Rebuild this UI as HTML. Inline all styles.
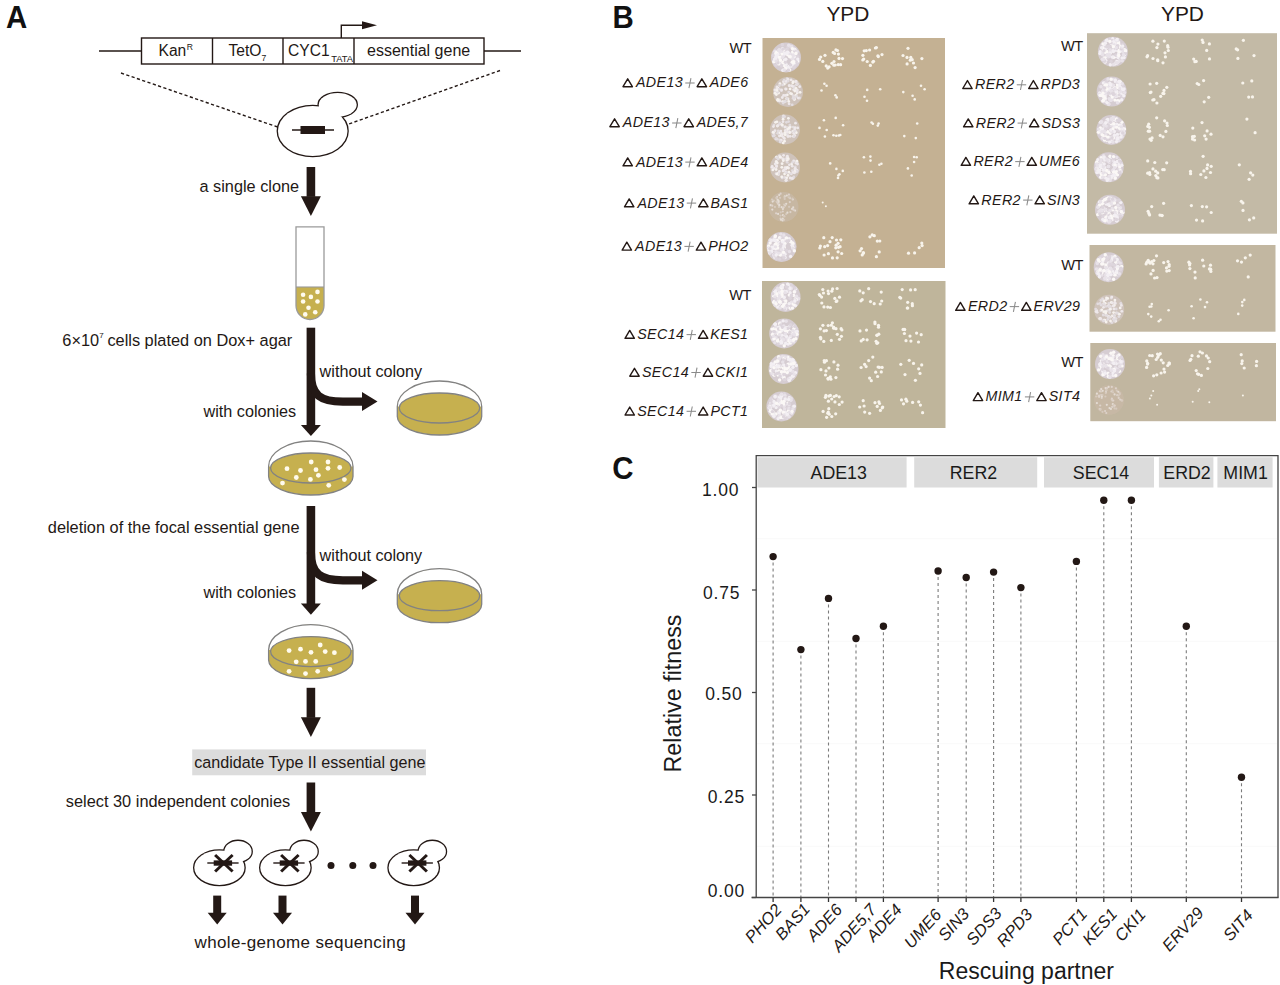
<!DOCTYPE html>
<html><head><meta charset="utf-8"><style>
html,body{margin:0;padding:0;background:#fff;width:1280px;height:985px;overflow:hidden}
svg{display:block;font-family:"Liberation Sans",sans-serif}
</style></head><body>
<svg width="1280" height="985" viewBox="0 0 1280 985">
<text transform="translate(6.1,27.6) scale(0.95,1)" font-size="31" font-weight="bold" fill="#111">A</text>
<g stroke="#231815" stroke-width="1.4" fill="none">
<line x1="99" y1="51" x2="141.5" y2="51"/><line x1="484" y1="51" x2="521" y2="51"/>
<rect x="141.5" y="38" width="342.5" height="26"/>
<line x1="212.5" y1="38" x2="212.5" y2="64"/><line x1="283" y1="38" x2="283" y2="64"/><line x1="354" y1="38" x2="354" y2="64"/>
<path d="M341.3,38 V25.3 H363"/>
</g>
<polygon points="362,21.3 377,25.3 362,29.3" fill="#231815"/>
<text x="158.5" y="55.9" font-size="15.6" fill="#231815" >Kan<tspan font-size="8.6" dy="-5.6" dx="0.6">R</tspan></text>
<text x="228.5" y="55.9" font-size="15.6" fill="#231815" >TetO<tspan font-size="8.6" dy="5">7</tspan></text>
<text x="288" y="55.9" font-size="15.6" fill="#231815" >CYC1<tspan font-size="9.4" dy="5.6" dx="1.6">TATA</tspan></text>
<text x="367" y="55.9" font-size="16" fill="#231815" >essential gene</text>
<g stroke="#231815" stroke-width="1.4" stroke-dasharray="3.2,2.4" fill="none">
<line x1="121" y1="73" x2="279" y2="127.5"/><line x1="500" y1="70.5" x2="346" y2="125"/>
</g>
<ellipse cx="337.7" cy="104.8" rx="19" ry="11.8" fill="none" stroke="#231815" stroke-width="2.6"/>
<ellipse cx="312.7" cy="131" rx="34.8" ry="25" fill="none" stroke="#231815" stroke-width="2.6"/>
<ellipse cx="337.7" cy="104.8" rx="19" ry="11.8" fill="#fff"/>
<ellipse cx="312.7" cy="131" rx="34.8" ry="25" fill="#fff"/>
<line x1="292" y1="130" x2="334" y2="130" stroke="#231815" stroke-width="1.4"/>
<rect x="300.5" y="126" width="24.5" height="8" fill="#231815"/>
<rect x="306.60" y="167" width="8.6" height="29.80" fill="#231815"/>
<polygon points="300.90,196.3 320.90,196.3 310.90,216" fill="#231815"/>
<text x="199.5" y="192" font-size="16.3" fill="#231815" >a single clone</text>
<path d="M296,287 V305.5 A14,14 0 0 0 324,305.5 V287 Z" fill="#c6b04f"/>
<path d="M296,226.8 V305.5 A14,14 0 0 0 324,305.5 V226.8 Z" fill="none" stroke="#9a9a9a" stroke-width="1.3"/>
<line x1="296" y1="287" x2="324" y2="287" stroke="#9a9a9a" stroke-width="1.1"/>
<circle cx="303.1" cy="294.75" r="2.3" fill="#fffbee"/>
<circle cx="310.9" cy="296.9" r="2.3" fill="#fffbee"/>
<circle cx="317.5" cy="291.9" r="2.3" fill="#fffbee"/>
<circle cx="303.1" cy="301.5" r="2.3" fill="#fffbee"/>
<circle cx="317.5" cy="301.5" r="2.3" fill="#fffbee"/>
<circle cx="308.5" cy="307.75" r="2.3" fill="#fffbee"/>
<circle cx="315.25" cy="312.25" r="2.3" fill="#fffbee"/>
<circle cx="305.25" cy="314.4" r="2.3" fill="#fffbee"/>
<text x="62.3" y="345.5" font-size="16.35" fill="#231815" >6×10<tspan font-size="8" dy="-7.5">7</tspan><tspan dy="7.5" dx="3.8">cells plated on Dox+ agar</tspan></text>
<rect x="306.60" y="327.7" width="8.6" height="97.80" fill="#231815"/>
<polygon points="300.90,425 320.90,425 310.90,436" fill="#231815"/>
<path d="M310.90,373.6 C310.90,395.6 320.90,401.6 342.90,401.6 L363.00,401.6" stroke="#231815" stroke-width="8.2" fill="none"/>
<polygon points="362.00,392.1 377.50,401.6 362.00,411.1" fill="#231815"/>
<text x="319.6" y="376.5" font-size="16.2" fill="#231815" >without colony</text>
<text x="203.5" y="417" font-size="16.2" fill="#231815" >with colonies</text>
<path d="M397.30,406.50 L397.30,416.50 A42.2,18.5 0 0 0 481.70,416.50 L481.70,406.50 A42.2,25.5 0 0 0 397.30,406.50 Z" fill="#c6b04f" stroke="none"/>
<path d="M397.30,406.50 A42.2,25.5 0 0 1 481.70,406.50 Z" fill="#fff"/>
<ellipse cx="439.50" cy="408.00" rx="40.2" ry="15" fill="#c6b04f" stroke="#828282" stroke-width="1.3"/>
<path d="M397.30,416.50 L397.30,406.50 A42.2,25.5 0 0 1 481.70,406.50 L481.70,416.50 A42.2,18.5 0 0 1 397.30,416.50" fill="none" stroke="#828282" stroke-width="1.3"/>
<path d="M268.60,466.50 L268.60,476.50 A42.2,18.5 0 0 0 353.00,476.50 L353.00,466.50 A42.2,25.5 0 0 0 268.60,466.50 Z" fill="#c6b04f" stroke="none"/>
<path d="M268.60,466.50 A42.2,25.5 0 0 1 353.00,466.50 Z" fill="#fff"/>
<ellipse cx="310.80" cy="468.00" rx="40.2" ry="15" fill="#c6b04f" stroke="#828282" stroke-width="1.3"/>
<path d="M268.60,476.50 L268.60,466.50 A42.2,25.5 0 0 1 353.00,466.50 L353.00,476.50 A42.2,18.5 0 0 1 268.60,476.50" fill="none" stroke="#828282" stroke-width="1.3"/>
<circle cx="311.20" cy="462.00" r="2.4" fill="#fffbee"/>
<circle cx="328.00" cy="462.00" r="2.4" fill="#fffbee"/>
<circle cx="287.00" cy="468.70" r="2.4" fill="#fffbee"/>
<circle cx="300.50" cy="470.50" r="2.4" fill="#fffbee"/>
<circle cx="316.00" cy="469.70" r="2.4" fill="#fffbee"/>
<circle cx="328.00" cy="468.30" r="2.4" fill="#fffbee"/>
<circle cx="339.70" cy="467.50" r="2.4" fill="#fffbee"/>
<circle cx="318.40" cy="475.30" r="2.4" fill="#fffbee"/>
<circle cx="296.30" cy="477.50" r="2.4" fill="#fffbee"/>
<circle cx="310.40" cy="479.40" r="2.4" fill="#fffbee"/>
<circle cx="344.40" cy="479.60" r="2.4" fill="#fffbee"/>
<circle cx="282.50" cy="483.10" r="2.4" fill="#fffbee"/>
<circle cx="328.75" cy="485.30" r="2.4" fill="#fffbee"/>
<text x="47.8" y="532.5" font-size="16.35" fill="#231815" >deletion of the focal essential gene</text>
<rect x="306.60" y="506" width="8.6" height="98.10" fill="#231815"/>
<polygon points="300.90,603.6 320.90,603.6 310.90,614.8" fill="#231815"/>
<path d="M310.90,552.3 C310.90,574.3 320.90,580.3 342.90,580.3 L363.00,580.3" stroke="#231815" stroke-width="8.2" fill="none"/>
<polygon points="362.00,570.8 377.50,580.3 362.00,589.8" fill="#231815"/>
<text x="319.6" y="560.5" font-size="16.2" fill="#231815" >without colony</text>
<text x="203.5" y="597.5" font-size="16.2" fill="#231815" >with colonies</text>
<path d="M397.30,594.20 L397.30,604.20 A42.2,18.5 0 0 0 481.70,604.20 L481.70,594.20 A42.2,25.5 0 0 0 397.30,594.20 Z" fill="#c6b04f" stroke="none"/>
<path d="M397.30,594.20 A42.2,25.5 0 0 1 481.70,594.20 Z" fill="#fff"/>
<ellipse cx="439.50" cy="595.70" rx="40.2" ry="15" fill="#c6b04f" stroke="#828282" stroke-width="1.3"/>
<path d="M397.30,604.20 L397.30,594.20 A42.2,25.5 0 0 1 481.70,594.20 L481.70,604.20 A42.2,18.5 0 0 1 397.30,604.20" fill="none" stroke="#828282" stroke-width="1.3"/>
<path d="M268.60,650.10 L268.60,660.10 A42.2,18.5 0 0 0 353.00,660.10 L353.00,650.10 A42.2,25.5 0 0 0 268.60,650.10 Z" fill="#c6b04f" stroke="none"/>
<path d="M268.60,650.10 A42.2,25.5 0 0 1 353.00,650.10 Z" fill="#fff"/>
<ellipse cx="310.80" cy="651.60" rx="40.2" ry="15" fill="#c6b04f" stroke="#828282" stroke-width="1.3"/>
<path d="M268.60,660.10 L268.60,650.10 A42.2,25.5 0 0 1 353.00,650.10 L353.00,660.10 A42.2,18.5 0 0 1 268.60,660.10" fill="none" stroke="#828282" stroke-width="1.3"/>
<circle cx="289.10" cy="650.60" r="2.4" fill="#fffbee"/>
<circle cx="300.50" cy="649.20" r="2.4" fill="#fffbee"/>
<circle cx="311.00" cy="652.30" r="2.4" fill="#fffbee"/>
<circle cx="320.20" cy="645.00" r="2.4" fill="#fffbee"/>
<circle cx="325.20" cy="651.60" r="2.4" fill="#fffbee"/>
<circle cx="334.40" cy="652.70" r="2.4" fill="#fffbee"/>
<circle cx="296.20" cy="661.80" r="2.4" fill="#fffbee"/>
<circle cx="305.50" cy="661.40" r="2.4" fill="#fffbee"/>
<circle cx="315.70" cy="661.40" r="2.4" fill="#fffbee"/>
<circle cx="289.10" cy="671.30" r="2.4" fill="#fffbee"/>
<circle cx="305.50" cy="673.60" r="2.4" fill="#fffbee"/>
<circle cx="317.70" cy="671.30" r="2.4" fill="#fffbee"/>
<circle cx="329.90" cy="669.30" r="2.4" fill="#fffbee"/>
<rect x="306.60" y="687.8" width="8.6" height="30.00" fill="#231815"/>
<polygon points="300.90,717.3 320.90,717.3 310.90,737" fill="#231815"/>
<rect x="192.2" y="749.4" width="233.8" height="25.9" fill="#dcdcdc"/>
<text x="194.2" y="768" font-size="16.15" fill="#231815" >candidate Type II essential gene</text>
<rect x="306.60" y="782.5" width="8.6" height="29.90" fill="#231815"/>
<polygon points="300.90,811.9 320.90,811.9 310.90,831.6" fill="#231815"/>
<text x="65.8" y="807.2" font-size="16.35" fill="#231815" >select 30 independent colonies</text>
<ellipse cx="238" cy="851.4" rx="13.6" ry="10.5" fill="none" stroke="#231815" stroke-width="2.6"/>
<ellipse cx="219.4" cy="867.7" rx="25.1" ry="17.2" fill="none" stroke="#231815" stroke-width="2.6"/>
<ellipse cx="238" cy="851.4" rx="13.6" ry="10.5" fill="#fff"/>
<ellipse cx="219.4" cy="867.7" rx="25.1" ry="17.2" fill="#fff"/>
<line x1="207.3" y1="863" x2="238.6" y2="863" stroke="#231815" stroke-width="1.4"/>
<rect x="213.7" y="860.4" width="18.4" height="5.3" fill="#231815"/>
<g stroke="#231815" stroke-width="3"><line x1="215.1" y1="855" x2="232.6" y2="871.5"/><line x1="232.6" y1="855" x2="215.1" y2="871.5"/></g>
<ellipse cx="304" cy="851.4" rx="13.6" ry="10.5" fill="none" stroke="#231815" stroke-width="2.6"/>
<ellipse cx="285.4" cy="867.7" rx="25.1" ry="17.2" fill="none" stroke="#231815" stroke-width="2.6"/>
<ellipse cx="304" cy="851.4" rx="13.6" ry="10.5" fill="#fff"/>
<ellipse cx="285.4" cy="867.7" rx="25.1" ry="17.2" fill="#fff"/>
<line x1="273.3" y1="863" x2="304.6" y2="863" stroke="#231815" stroke-width="1.4"/>
<rect x="279.7" y="860.4" width="18.4" height="5.3" fill="#231815"/>
<g stroke="#231815" stroke-width="3"><line x1="281.1" y1="855" x2="298.6" y2="871.5"/><line x1="298.6" y1="855" x2="281.1" y2="871.5"/></g>
<ellipse cx="432.3" cy="851.4" rx="13.6" ry="10.5" fill="none" stroke="#231815" stroke-width="2.6"/>
<ellipse cx="413.7" cy="867.7" rx="25.1" ry="17.2" fill="none" stroke="#231815" stroke-width="2.6"/>
<ellipse cx="432.3" cy="851.4" rx="13.6" ry="10.5" fill="#fff"/>
<ellipse cx="413.7" cy="867.7" rx="25.1" ry="17.2" fill="#fff"/>
<line x1="401.6" y1="863" x2="432.90000000000003" y2="863" stroke="#231815" stroke-width="1.4"/>
<rect x="408.0" y="860.4" width="18.4" height="5.3" fill="#231815"/>
<g stroke="#231815" stroke-width="3"><line x1="409.40000000000003" y1="855" x2="426.90000000000003" y2="871.5"/><line x1="426.90000000000003" y1="855" x2="409.40000000000003" y2="871.5"/></g>
<circle cx="331" cy="865.4" r="3.5" fill="#231815"/>
<circle cx="352.8" cy="865.4" r="3.5" fill="#231815"/>
<circle cx="373" cy="865.4" r="3.5" fill="#231815"/>
<rect x="213.20" y="895.6" width="8" height="17.60" fill="#231815"/>
<polygon points="207.70,912.7 226.70,912.7 217.20,924.5" fill="#231815"/>
<rect x="278.50" y="895.6" width="8" height="17.60" fill="#231815"/>
<polygon points="273.00,912.7 292.00,912.7 282.50,924.5" fill="#231815"/>
<rect x="411.00" y="895.6" width="8" height="17.60" fill="#231815"/>
<polygon points="405.50,912.7 424.50,912.7 415.00,924.5" fill="#231815"/>
<text x="194.5" y="948.3" font-size="17" letter-spacing="0.36" fill="#231815" >whole-genome sequencing</text>
<text transform="translate(612.5,27.6) scale(0.95,1)" font-size="31" font-weight="bold" fill="#111">B</text>
<text x="826.4" y="20.9" font-size="20.9" fill="#231815" >YPD</text>
<text x="1161" y="20.9" font-size="20.9" fill="#231815" >YPD</text>
<rect x="762.5" y="38" width="182.5" height="230.0" fill="#c4b193"/>
<circle cx="786.0" cy="57.5" r="15" fill="#d6cdd2"/>
<circle cx="783.7" cy="62.1" r="1.7" fill="#f3eff3"/>
<circle cx="794.7" cy="61.8" r="1.7" fill="#fbf8f6"/>
<circle cx="775.0" cy="51.2" r="1.7" fill="#e8e2e8"/>
<circle cx="794.5" cy="59.5" r="1.7" fill="#f3eff3"/>
<circle cx="786.6" cy="67.4" r="1.7" fill="#f3eff3"/>
<circle cx="788.2" cy="53.4" r="1.7" fill="#e8e2e8"/>
<circle cx="779.1" cy="50.1" r="1.7" fill="#f3eff3"/>
<circle cx="778.6" cy="53.6" r="1.7" fill="#e8e2e8"/>
<circle cx="797.8" cy="61.1" r="1.7" fill="#fbf8f6"/>
<circle cx="777.5" cy="62.3" r="1.7" fill="#fbf8f6"/>
<circle cx="775.8" cy="53.4" r="1.7" fill="#f3eff3"/>
<circle cx="776.7" cy="52.3" r="1.7" fill="#fbf8f6"/>
<circle cx="795.2" cy="63.9" r="1.7" fill="#f3eff3"/>
<circle cx="779.1" cy="51.1" r="1.7" fill="#ddd5dc"/>
<circle cx="787.5" cy="48.6" r="1.7" fill="#ddd5dc"/>
<circle cx="781.7" cy="62.6" r="1.7" fill="#e8e2e8"/>
<circle cx="783.9" cy="51.3" r="1.7" fill="#fbf8f6"/>
<circle cx="773.7" cy="55.5" r="1.7" fill="#ddd5dc"/>
<circle cx="782.9" cy="70.3" r="1.7" fill="#f3eff3"/>
<circle cx="780.6" cy="57.1" r="1.7" fill="#fbf8f6"/>
<circle cx="791.4" cy="65.1" r="1.7" fill="#f3eff3"/>
<circle cx="789.6" cy="56.6" r="1.7" fill="#fbf8f6"/>
<circle cx="781.8" cy="64.1" r="1.7" fill="#ddd5dc"/>
<circle cx="778.1" cy="53.2" r="1.7" fill="#f3eff3"/>
<circle cx="794.6" cy="54.4" r="1.7" fill="#f3eff3"/>
<circle cx="796.3" cy="61.6" r="1.7" fill="#ddd5dc"/>
<circle cx="784.2" cy="65.6" r="1.7" fill="#fbf8f6"/>
<circle cx="794.9" cy="58.8" r="1.7" fill="#e8e2e8"/>
<circle cx="778.8" cy="51.5" r="1.7" fill="#e8e2e8"/>
<circle cx="786.5" cy="52.7" r="1.7" fill="#e8e2e8"/>
<circle cx="775.8" cy="65.1" r="1.7" fill="#ddd5dc"/>
<circle cx="793.8" cy="61.8" r="1.7" fill="#fbf8f6"/>
<circle cx="794.9" cy="49.4" r="1.7" fill="#fbf8f6"/>
<circle cx="782.4" cy="44.8" r="1.7" fill="#ddd5dc"/>
<circle cx="791.0" cy="56.1" r="1.7" fill="#e8e2e8"/>
<circle cx="792.3" cy="66.3" r="1.7" fill="#f3eff3"/>
<circle cx="775.8" cy="58.5" r="1.7" fill="#fbf8f6"/>
<circle cx="785.0" cy="62.5" r="1.7" fill="#fbf8f6"/>
<circle cx="780.2" cy="52.7" r="1.7" fill="#e8e2e8"/>
<circle cx="782.5" cy="48.6" r="1.7" fill="#f3eff3"/>
<circle cx="774.0" cy="60.8" r="1.7" fill="#ddd5dc"/>
<circle cx="779.3" cy="62.5" r="1.7" fill="#ddd5dc"/>
<circle cx="783.8" cy="55.0" r="1.7" fill="#f3eff3"/>
<circle cx="794.8" cy="56.7" r="1.7" fill="#f3eff3"/>
<circle cx="784.4" cy="60.1" r="1.7" fill="#f3eff3"/>
<circle cx="777.1" cy="53.5" r="1.7" fill="#fbf8f6"/>
<circle cx="783.3" cy="55.2" r="1.7" fill="#e8e2e8"/>
<circle cx="782.1" cy="54.1" r="1.7" fill="#fbf8f6"/>
<circle cx="795.9" cy="54.6" r="1.7" fill="#ddd5dc"/>
<circle cx="794.8" cy="66.0" r="1.7" fill="#ddd5dc"/>
<circle cx="778.6" cy="58.4" r="1.7" fill="#e8e2e8"/>
<circle cx="792.2" cy="62.2" r="1.7" fill="#fbf8f6"/>
<circle cx="775.0" cy="59.0" r="1.7" fill="#f3eff3"/>
<circle cx="789.6" cy="70.0" r="1.7" fill="#fbf8f6"/>
<circle cx="791.9" cy="65.3" r="1.7" fill="#f3eff3"/>
<circle cx="786.4" cy="50.2" r="1.7" fill="#f3eff3"/>
<circle cx="783.7" cy="51.1" r="1.7" fill="#fbf8f6"/>
<circle cx="792.7" cy="53.2" r="1.7" fill="#e8e2e8"/>
<circle cx="774.5" cy="55.1" r="1.7" fill="#fbf8f6"/>
<circle cx="779.2" cy="49.6" r="1.7" fill="#e8e2e8"/>
<circle cx="790.2" cy="46.2" r="1.7" fill="#e8e2e8"/>
<circle cx="788.9" cy="66.4" r="1.7" fill="#f3eff3"/>
<circle cx="797.8" cy="56.7" r="1.7" fill="#ddd5dc"/>
<circle cx="785.4" cy="68.5" r="1.7" fill="#fbf8f6"/>
<circle cx="773.8" cy="61.7" r="1.7" fill="#fbf8f6"/>
<circle cx="793.7" cy="55.3" r="1.7" fill="#e8e2e8"/>
<circle cx="793.3" cy="63.0" r="1.7" fill="#fbf8f6"/>
<circle cx="789.0" cy="67.6" r="1.7" fill="#f3eff3"/>
<circle cx="775.3" cy="58.9" r="1.7" fill="#f3eff3"/>
<circle cx="788.3" cy="53.5" r="1.7" fill="#ddd5dc"/>
<circle cx="788.3" cy="46.2" r="1.7" fill="#ddd5dc"/>
<circle cx="792.7" cy="51.9" r="1.7" fill="#fbf8f6"/>
<circle cx="797.1" cy="64.2" r="1.7" fill="#ddd5dc"/>
<circle cx="774.8" cy="60.1" r="1.7" fill="#f3eff3"/>
<circle cx="785.1" cy="52.1" r="1.7" fill="#e8e2e8"/>
<circle cx="796.1" cy="59.3" r="1.7" fill="#ddd5dc"/>
<circle cx="787.8" cy="52.7" r="1.7" fill="#ddd5dc"/>
<circle cx="781.7" cy="50.9" r="1.7" fill="#e8e2e8"/>
<circle cx="797.8" cy="59.1" r="1.7" fill="#f3eff3"/>
<circle cx="773.3" cy="55.4" r="1.7" fill="#ddd5dc"/>
<circle cx="791.8" cy="57.0" r="1.7" fill="#e8e2e8"/>
<circle cx="792.0" cy="58.6" r="1.7" fill="#e8e2e8"/>
<circle cx="786.7" cy="49.9" r="1.7" fill="#ddd5dc"/>
<circle cx="787.7" cy="54.7" r="1.7" fill="#fbf8f6"/>
<circle cx="794.7" cy="51.0" r="1.7" fill="#ddd5dc"/>
<circle cx="791.8" cy="46.5" r="1.7" fill="#e8e2e8"/>
<circle cx="776.6" cy="55.6" r="1.7" fill="#f3eff3"/>
<circle cx="794.2" cy="49.1" r="1.7" fill="#f3eff3"/>
<circle cx="786.8" cy="52.4" r="1.7" fill="#e8e2e8"/>
<circle cx="774.8" cy="59.4" r="1.7" fill="#f3eff3"/>
<circle cx="781.6" cy="66.0" r="1.7" fill="#ddd5dc"/>
<circle cx="786.9" cy="53.3" r="1.7" fill="#f3eff3"/>
<circle cx="786.1" cy="64.5" r="1.7" fill="#f3eff3"/>
<circle cx="776.0" cy="57.0" r="1.7" fill="#f3eff3"/>
<circle cx="776.2" cy="61.1" r="1.7" fill="#e8e2e8"/>
<circle cx="782.9" cy="49.1" r="1.7" fill="#ddd5dc"/>
<circle cx="779.4" cy="57.2" r="1.7" fill="#fbf8f6"/>
<circle cx="797.1" cy="51.6" r="1.7" fill="#e8e2e8"/>
<circle cx="788.6" cy="53.3" r="1.7" fill="#f3eff3"/>
<circle cx="780.2" cy="62.2" r="1.7" fill="#e8e2e8"/>
<circle cx="780.5" cy="60.2" r="1.7" fill="#fbf8f6"/>
<circle cx="788.7" cy="45.2" r="1.7" fill="#e8e2e8"/>
<circle cx="795.9" cy="53.5" r="1.7" fill="#fbf8f6"/>
<circle cx="793.8" cy="67.3" r="1.7" fill="#ddd5dc"/>
<circle cx="788.5" cy="70.2" r="1.7" fill="#ddd5dc"/>
<circle cx="790.0" cy="53.9" r="1.7" fill="#e8e2e8"/>
<circle cx="790.6" cy="64.9" r="1.7" fill="#ddd5dc"/>
<circle cx="782.9" cy="62.5" r="1.7" fill="#fbf8f6"/>
<circle cx="792.7" cy="61.9" r="1.7" fill="#fbf8f6"/>
<circle cx="777.7" cy="54.6" r="1.7" fill="#f3eff3"/>
<circle cx="778.8" cy="63.9" r="1.7" fill="#fbf8f6"/>
<circle cx="782.6" cy="57.2" r="1.7" fill="#e8e2e8"/>
<circle cx="790.2" cy="56.7" r="1.7" fill="#fbf8f6"/>
<circle cx="784.3" cy="70.0" r="1.7" fill="#e8e2e8"/>
<circle cx="785.4" cy="62.2" r="1.7" fill="#ddd5dc"/>
<circle cx="792.4" cy="48.6" r="1.7" fill="#fbf8f6"/>
<circle cx="777.9" cy="62.9" r="1.7" fill="#ddd5dc"/>
<circle cx="784.8" cy="53.7" r="1.7" fill="#f3eff3"/>
<circle cx="787.7" cy="52.1" r="1.7" fill="#f3eff3"/>
<circle cx="785.8" cy="59.2" r="1.7" fill="#f3eff3"/>
<circle cx="833.2" cy="52.4" r="1.6" fill="#f8f4ec"/>
<circle cx="834.6" cy="53.5" r="1.6" fill="#f8f4ec"/>
<circle cx="837.5" cy="50.5" r="1.6" fill="#f8f4ec"/>
<circle cx="826.2" cy="65.9" r="1.6" fill="#f8f4ec"/>
<circle cx="838.4" cy="54.1" r="1.6" fill="#f8f4ec"/>
<circle cx="838.2" cy="64.6" r="1.6" fill="#f8f4ec"/>
<circle cx="831.9" cy="63.3" r="1.6" fill="#f8f4ec"/>
<circle cx="834.0" cy="61.5" r="1.6" fill="#f8f4ec"/>
<circle cx="833.9" cy="65.2" r="1.6" fill="#f8f4ec"/>
<circle cx="827.7" cy="68.1" r="1.6" fill="#f8f4ec"/>
<circle cx="829.1" cy="66.8" r="1.6" fill="#f8f4ec"/>
<circle cx="835.2" cy="65.0" r="1.6" fill="#f8f4ec"/>
<circle cx="839.0" cy="58.4" r="1.6" fill="#f8f4ec"/>
<circle cx="842.5" cy="58.6" r="1.6" fill="#f8f4ec"/>
<circle cx="825.0" cy="55.3" r="1.6" fill="#f8f4ec"/>
<circle cx="819.5" cy="59.4" r="1.6" fill="#f8f4ec"/>
<circle cx="840.6" cy="64.7" r="1.6" fill="#f8f4ec"/>
<circle cx="822.8" cy="61.4" r="1.6" fill="#f8f4ec"/>
<circle cx="835.9" cy="49.9" r="1.6" fill="#f8f4ec"/>
<circle cx="820.7" cy="57.0" r="1.6" fill="#f8f4ec"/>
<circle cx="878.3" cy="56.6" r="1.6" fill="#f8f4ec"/>
<circle cx="875.4" cy="48.0" r="1.6" fill="#f8f4ec"/>
<circle cx="864.2" cy="50.8" r="1.6" fill="#f8f4ec"/>
<circle cx="867.2" cy="61.5" r="1.6" fill="#f8f4ec"/>
<circle cx="873.5" cy="61.3" r="1.6" fill="#f8f4ec"/>
<circle cx="869.6" cy="50.0" r="1.6" fill="#f8f4ec"/>
<circle cx="872.8" cy="62.1" r="1.6" fill="#f8f4ec"/>
<circle cx="876.4" cy="47.6" r="1.6" fill="#f8f4ec"/>
<circle cx="866.3" cy="50.6" r="1.6" fill="#f8f4ec"/>
<circle cx="870.4" cy="65.4" r="1.6" fill="#f8f4ec"/>
<circle cx="863.7" cy="59.1" r="1.6" fill="#f8f4ec"/>
<circle cx="862.8" cy="60.0" r="1.6" fill="#f8f4ec"/>
<circle cx="882.0" cy="54.6" r="1.6" fill="#f8f4ec"/>
<circle cx="862.9" cy="55.3" r="1.6" fill="#f8f4ec"/>
<circle cx="877.9" cy="55.8" r="1.6" fill="#f8f4ec"/>
<circle cx="912.2" cy="59.7" r="1.6" fill="#f8f4ec"/>
<circle cx="907.1" cy="63.9" r="1.6" fill="#f8f4ec"/>
<circle cx="907.0" cy="57.4" r="1.6" fill="#f8f4ec"/>
<circle cx="910.8" cy="57.4" r="1.6" fill="#f8f4ec"/>
<circle cx="913.5" cy="63.0" r="1.6" fill="#f8f4ec"/>
<circle cx="910.3" cy="60.2" r="1.6" fill="#f8f4ec"/>
<circle cx="921.9" cy="58.6" r="1.6" fill="#f8f4ec"/>
<circle cx="915.1" cy="67.6" r="1.6" fill="#f8f4ec"/>
<circle cx="903.0" cy="55.5" r="1.6" fill="#f8f4ec"/>
<circle cx="908.0" cy="48.3" r="1.6" fill="#f8f4ec"/>
<circle cx="788.0" cy="92.0" r="15" fill="#cfc3bb"/>
<circle cx="794.2" cy="86.2" r="1.4" fill="#e2dcdf"/>
<circle cx="786.2" cy="82.6" r="1.4" fill="#e2dcdf"/>
<circle cx="786.2" cy="81.2" r="1.4" fill="#eee8ea"/>
<circle cx="793.2" cy="81.7" r="1.4" fill="#f6f2ee"/>
<circle cx="779.9" cy="83.6" r="1.4" fill="#f6f2ee"/>
<circle cx="794.3" cy="99.6" r="1.4" fill="#f6f2ee"/>
<circle cx="776.9" cy="86.9" r="1.4" fill="#eee8ea"/>
<circle cx="792.8" cy="82.8" r="1.4" fill="#f6f2ee"/>
<circle cx="783.4" cy="81.7" r="1.4" fill="#eee8ea"/>
<circle cx="790.4" cy="93.4" r="1.4" fill="#f6f2ee"/>
<circle cx="785.2" cy="95.4" r="1.4" fill="#e2dcdf"/>
<circle cx="777.9" cy="88.1" r="1.4" fill="#f6f2ee"/>
<circle cx="781.4" cy="90.7" r="1.4" fill="#e2dcdf"/>
<circle cx="800.1" cy="92.3" r="1.4" fill="#f6f2ee"/>
<circle cx="799.7" cy="86.7" r="1.4" fill="#eee8ea"/>
<circle cx="786.1" cy="89.1" r="1.4" fill="#f6f2ee"/>
<circle cx="775.9" cy="94.0" r="1.4" fill="#e2dcdf"/>
<circle cx="789.1" cy="103.8" r="1.4" fill="#eee8ea"/>
<circle cx="787.1" cy="78.6" r="1.4" fill="#e2dcdf"/>
<circle cx="790.1" cy="88.9" r="1.4" fill="#f6f2ee"/>
<circle cx="787.3" cy="94.9" r="1.4" fill="#f6f2ee"/>
<circle cx="785.6" cy="89.0" r="1.4" fill="#eee8ea"/>
<circle cx="782.6" cy="101.6" r="1.4" fill="#f6f2ee"/>
<circle cx="784.6" cy="101.7" r="1.4" fill="#eee8ea"/>
<circle cx="778.6" cy="93.0" r="1.4" fill="#f6f2ee"/>
<circle cx="793.1" cy="95.7" r="1.4" fill="#e2dcdf"/>
<circle cx="785.5" cy="101.5" r="1.4" fill="#e2dcdf"/>
<circle cx="776.4" cy="94.5" r="1.4" fill="#f6f2ee"/>
<circle cx="792.2" cy="104.8" r="1.4" fill="#e2dcdf"/>
<circle cx="797.2" cy="93.0" r="1.4" fill="#f6f2ee"/>
<circle cx="796.9" cy="90.2" r="1.4" fill="#e2dcdf"/>
<circle cx="778.1" cy="100.5" r="1.4" fill="#eee8ea"/>
<circle cx="791.6" cy="93.8" r="1.4" fill="#f6f2ee"/>
<circle cx="774.9" cy="90.0" r="1.4" fill="#eee8ea"/>
<circle cx="779.4" cy="85.5" r="1.4" fill="#e2dcdf"/>
<circle cx="796.6" cy="84.6" r="1.4" fill="#eee8ea"/>
<circle cx="775.3" cy="92.2" r="1.4" fill="#e2dcdf"/>
<circle cx="788.8" cy="92.1" r="1.4" fill="#e2dcdf"/>
<circle cx="784.4" cy="84.1" r="1.4" fill="#f6f2ee"/>
<circle cx="793.1" cy="98.2" r="1.4" fill="#e2dcdf"/>
<circle cx="793.7" cy="97.4" r="1.4" fill="#e2dcdf"/>
<circle cx="788.1" cy="79.5" r="1.4" fill="#eee8ea"/>
<circle cx="793.6" cy="89.8" r="1.4" fill="#eee8ea"/>
<circle cx="794.0" cy="87.8" r="1.4" fill="#e2dcdf"/>
<circle cx="795.8" cy="95.4" r="1.4" fill="#f6f2ee"/>
<circle cx="799.6" cy="98.0" r="1.4" fill="#e2dcdf"/>
<circle cx="792.4" cy="86.3" r="1.4" fill="#eee8ea"/>
<circle cx="791.7" cy="85.7" r="1.4" fill="#eee8ea"/>
<circle cx="788.0" cy="99.0" r="1.4" fill="#f6f2ee"/>
<circle cx="783.2" cy="103.0" r="1.4" fill="#e2dcdf"/>
<circle cx="797.2" cy="83.9" r="1.4" fill="#f6f2ee"/>
<circle cx="777.7" cy="99.5" r="1.4" fill="#f6f2ee"/>
<circle cx="777.0" cy="88.5" r="1.4" fill="#eee8ea"/>
<circle cx="796.0" cy="88.5" r="1.4" fill="#f6f2ee"/>
<circle cx="788.2" cy="81.1" r="1.4" fill="#e2dcdf"/>
<circle cx="775.1" cy="93.2" r="1.4" fill="#f6f2ee"/>
<circle cx="794.5" cy="98.7" r="1.4" fill="#e2dcdf"/>
<circle cx="786.6" cy="98.7" r="1.4" fill="#f6f2ee"/>
<circle cx="794.9" cy="91.0" r="1.4" fill="#f6f2ee"/>
<circle cx="788.7" cy="101.4" r="1.4" fill="#f6f2ee"/>
<circle cx="783.6" cy="95.4" r="1.4" fill="#eee8ea"/>
<circle cx="796.6" cy="96.4" r="1.4" fill="#e2dcdf"/>
<circle cx="779.3" cy="89.2" r="1.4" fill="#e2dcdf"/>
<circle cx="797.1" cy="91.8" r="1.4" fill="#eee8ea"/>
<circle cx="781.6" cy="90.0" r="1.4" fill="#eee8ea"/>
<circle cx="785.8" cy="95.4" r="1.4" fill="#eee8ea"/>
<circle cx="779.7" cy="101.0" r="1.4" fill="#eee8ea"/>
<circle cx="796.9" cy="84.3" r="1.4" fill="#e2dcdf"/>
<circle cx="779.3" cy="99.9" r="1.4" fill="#eee8ea"/>
<circle cx="782.3" cy="97.5" r="1.4" fill="#eee8ea"/>
<circle cx="777.7" cy="92.1" r="1.4" fill="#e2dcdf"/>
<circle cx="794.8" cy="98.9" r="1.4" fill="#f6f2ee"/>
<circle cx="791.1" cy="79.9" r="1.4" fill="#eee8ea"/>
<circle cx="787.1" cy="98.7" r="1.4" fill="#e2dcdf"/>
<circle cx="782.6" cy="84.9" r="1.4" fill="#e2dcdf"/>
<circle cx="795.4" cy="81.7" r="1.4" fill="#eee8ea"/>
<circle cx="794.2" cy="98.4" r="1.4" fill="#e2dcdf"/>
<circle cx="797.3" cy="90.1" r="1.4" fill="#eee8ea"/>
<circle cx="777.8" cy="100.2" r="1.4" fill="#f6f2ee"/>
<circle cx="796.2" cy="81.4" r="1.4" fill="#eee8ea"/>
<circle cx="789.3" cy="85.7" r="1.4" fill="#eee8ea"/>
<circle cx="776.9" cy="90.4" r="1.4" fill="#f6f2ee"/>
<circle cx="784.2" cy="80.1" r="1.4" fill="#e2dcdf"/>
<circle cx="798.3" cy="98.1" r="1.4" fill="#eee8ea"/>
<circle cx="789.3" cy="85.6" r="1.4" fill="#eee8ea"/>
<circle cx="826.6" cy="85.7" r="1.3" fill="#f8f4ec"/>
<circle cx="836.7" cy="97.4" r="1.3" fill="#f8f4ec"/>
<circle cx="824.4" cy="83.8" r="1.3" fill="#f8f4ec"/>
<circle cx="835.4" cy="95.3" r="1.3" fill="#f8f4ec"/>
<circle cx="821.5" cy="90.5" r="1.3" fill="#f8f4ec"/>
<circle cx="864.5" cy="96.7" r="1.3" fill="#f8f4ec"/>
<circle cx="867.2" cy="89.9" r="1.3" fill="#f8f4ec"/>
<circle cx="867.0" cy="100.8" r="1.3" fill="#f8f4ec"/>
<circle cx="880.2" cy="89.3" r="1.3" fill="#f8f4ec"/>
<circle cx="921.0" cy="85.7" r="1.3" fill="#f8f4ec"/>
<circle cx="914.7" cy="99.4" r="1.3" fill="#f8f4ec"/>
<circle cx="924.6" cy="89.3" r="1.3" fill="#f8f4ec"/>
<circle cx="912.6" cy="95.7" r="1.3" fill="#f8f4ec"/>
<circle cx="903.3" cy="92.1" r="1.3" fill="#f8f4ec"/>
<circle cx="785.0" cy="129.5" r="15" fill="#cfc3bb"/>
<circle cx="779.0" cy="132.8" r="1.4" fill="#f6f2ee"/>
<circle cx="777.6" cy="133.3" r="1.4" fill="#e2dcdf"/>
<circle cx="792.7" cy="131.2" r="1.4" fill="#e2dcdf"/>
<circle cx="779.4" cy="136.0" r="1.4" fill="#eee8ea"/>
<circle cx="788.4" cy="118.3" r="1.4" fill="#f6f2ee"/>
<circle cx="793.7" cy="133.4" r="1.4" fill="#eee8ea"/>
<circle cx="780.3" cy="140.9" r="1.4" fill="#eee8ea"/>
<circle cx="778.2" cy="131.0" r="1.4" fill="#e2dcdf"/>
<circle cx="793.3" cy="136.3" r="1.4" fill="#f6f2ee"/>
<circle cx="787.5" cy="135.4" r="1.4" fill="#e2dcdf"/>
<circle cx="787.7" cy="127.8" r="1.4" fill="#f6f2ee"/>
<circle cx="790.2" cy="136.3" r="1.4" fill="#eee8ea"/>
<circle cx="795.4" cy="131.1" r="1.4" fill="#e2dcdf"/>
<circle cx="788.2" cy="130.6" r="1.4" fill="#e2dcdf"/>
<circle cx="774.1" cy="133.1" r="1.4" fill="#e2dcdf"/>
<circle cx="783.5" cy="116.0" r="1.4" fill="#eee8ea"/>
<circle cx="782.2" cy="134.6" r="1.4" fill="#f6f2ee"/>
<circle cx="784.9" cy="127.1" r="1.4" fill="#f6f2ee"/>
<circle cx="783.1" cy="117.2" r="1.4" fill="#e2dcdf"/>
<circle cx="780.8" cy="131.1" r="1.4" fill="#eee8ea"/>
<circle cx="783.5" cy="137.4" r="1.4" fill="#eee8ea"/>
<circle cx="774.0" cy="125.1" r="1.4" fill="#e2dcdf"/>
<circle cx="777.3" cy="139.2" r="1.4" fill="#e2dcdf"/>
<circle cx="794.7" cy="135.5" r="1.4" fill="#eee8ea"/>
<circle cx="775.9" cy="138.9" r="1.4" fill="#eee8ea"/>
<circle cx="779.8" cy="140.0" r="1.4" fill="#e2dcdf"/>
<circle cx="793.6" cy="131.1" r="1.4" fill="#f6f2ee"/>
<circle cx="785.3" cy="126.8" r="1.4" fill="#eee8ea"/>
<circle cx="773.1" cy="132.2" r="1.4" fill="#eee8ea"/>
<circle cx="784.5" cy="141.2" r="1.4" fill="#f6f2ee"/>
<circle cx="781.2" cy="135.5" r="1.4" fill="#f6f2ee"/>
<circle cx="796.3" cy="132.7" r="1.4" fill="#f6f2ee"/>
<circle cx="782.1" cy="136.0" r="1.4" fill="#eee8ea"/>
<circle cx="783.1" cy="119.2" r="1.4" fill="#f6f2ee"/>
<circle cx="788.3" cy="128.4" r="1.4" fill="#eee8ea"/>
<circle cx="794.0" cy="136.7" r="1.4" fill="#e2dcdf"/>
<circle cx="793.1" cy="127.1" r="1.4" fill="#e2dcdf"/>
<circle cx="795.5" cy="123.2" r="1.4" fill="#eee8ea"/>
<circle cx="790.2" cy="127.0" r="1.4" fill="#f6f2ee"/>
<circle cx="781.3" cy="140.2" r="1.4" fill="#eee8ea"/>
<circle cx="778.9" cy="124.6" r="1.4" fill="#e2dcdf"/>
<circle cx="773.3" cy="132.4" r="1.4" fill="#f6f2ee"/>
<circle cx="790.3" cy="132.4" r="1.4" fill="#eee8ea"/>
<circle cx="785.1" cy="133.0" r="1.4" fill="#eee8ea"/>
<circle cx="775.0" cy="130.7" r="1.4" fill="#eee8ea"/>
<circle cx="797.7" cy="127.9" r="1.4" fill="#eee8ea"/>
<circle cx="784.6" cy="133.4" r="1.4" fill="#eee8ea"/>
<circle cx="773.1" cy="135.9" r="1.4" fill="#e2dcdf"/>
<circle cx="787.3" cy="133.9" r="1.4" fill="#e2dcdf"/>
<circle cx="776.9" cy="121.8" r="1.4" fill="#f6f2ee"/>
<circle cx="773.4" cy="126.6" r="1.4" fill="#eee8ea"/>
<circle cx="786.4" cy="122.3" r="1.4" fill="#e2dcdf"/>
<circle cx="777.4" cy="126.1" r="1.4" fill="#f6f2ee"/>
<circle cx="784.4" cy="138.5" r="1.4" fill="#eee8ea"/>
<circle cx="785.2" cy="134.8" r="1.4" fill="#f6f2ee"/>
<circle cx="786.3" cy="132.7" r="1.4" fill="#e2dcdf"/>
<circle cx="794.7" cy="129.0" r="1.4" fill="#eee8ea"/>
<circle cx="782.5" cy="126.0" r="1.4" fill="#e2dcdf"/>
<circle cx="789.3" cy="129.3" r="1.4" fill="#e2dcdf"/>
<circle cx="789.8" cy="125.1" r="1.4" fill="#e2dcdf"/>
<circle cx="787.3" cy="128.1" r="1.4" fill="#e2dcdf"/>
<circle cx="785.3" cy="132.5" r="1.4" fill="#f6f2ee"/>
<circle cx="795.2" cy="127.7" r="1.4" fill="#eee8ea"/>
<circle cx="776.2" cy="138.6" r="1.4" fill="#e2dcdf"/>
<circle cx="775.5" cy="122.3" r="1.4" fill="#f6f2ee"/>
<circle cx="789.2" cy="128.0" r="1.4" fill="#f6f2ee"/>
<circle cx="783.0" cy="121.7" r="1.4" fill="#eee8ea"/>
<circle cx="781.5" cy="133.3" r="1.4" fill="#eee8ea"/>
<circle cx="787.7" cy="129.5" r="1.4" fill="#f6f2ee"/>
<circle cx="781.4" cy="124.5" r="1.4" fill="#eee8ea"/>
<circle cx="788.6" cy="121.6" r="1.4" fill="#e2dcdf"/>
<circle cx="788.0" cy="136.5" r="1.4" fill="#eee8ea"/>
<circle cx="794.4" cy="131.4" r="1.4" fill="#e2dcdf"/>
<circle cx="789.0" cy="131.2" r="1.4" fill="#e2dcdf"/>
<circle cx="782.3" cy="124.9" r="1.4" fill="#f6f2ee"/>
<circle cx="789.6" cy="132.5" r="1.4" fill="#f6f2ee"/>
<circle cx="783.2" cy="142.9" r="1.4" fill="#f6f2ee"/>
<circle cx="780.3" cy="141.9" r="1.4" fill="#e2dcdf"/>
<circle cx="784.6" cy="116.7" r="1.4" fill="#e2dcdf"/>
<circle cx="774.1" cy="135.8" r="1.4" fill="#e2dcdf"/>
<circle cx="779.8" cy="122.8" r="1.4" fill="#e2dcdf"/>
<circle cx="785.3" cy="130.5" r="1.4" fill="#eee8ea"/>
<circle cx="774.1" cy="135.2" r="1.4" fill="#e2dcdf"/>
<circle cx="777.7" cy="125.6" r="1.4" fill="#eee8ea"/>
<circle cx="787.1" cy="131.8" r="1.4" fill="#eee8ea"/>
<circle cx="823.9" cy="120.2" r="1.3" fill="#f8f4ec"/>
<circle cx="840.3" cy="135.0" r="1.3" fill="#f8f4ec"/>
<circle cx="824.9" cy="136.5" r="1.3" fill="#f8f4ec"/>
<circle cx="836.3" cy="135.7" r="1.3" fill="#f8f4ec"/>
<circle cx="819.5" cy="127.9" r="1.3" fill="#f8f4ec"/>
<circle cx="838.9" cy="135.5" r="1.3" fill="#f8f4ec"/>
<circle cx="835.7" cy="117.9" r="1.3" fill="#f8f4ec"/>
<circle cx="833.5" cy="135.2" r="1.3" fill="#f8f4ec"/>
<circle cx="843.1" cy="125.2" r="1.3" fill="#f8f4ec"/>
<circle cx="826.7" cy="130.0" r="1.3" fill="#f8f4ec"/>
<circle cx="877.8" cy="125.6" r="1.3" fill="#f8f4ec"/>
<circle cx="878.6" cy="123.6" r="1.3" fill="#f8f4ec"/>
<circle cx="872.9" cy="123.7" r="1.3" fill="#f8f4ec"/>
<circle cx="871.6" cy="122.5" r="1.3" fill="#f8f4ec"/>
<circle cx="904.3" cy="136.1" r="1.3" fill="#f8f4ec"/>
<circle cx="917.2" cy="123.5" r="1.3" fill="#f8f4ec"/>
<circle cx="915.8" cy="138.1" r="1.3" fill="#f8f4ec"/>
<circle cx="785.0" cy="167.5" r="15" fill="#cfc3bb"/>
<circle cx="776.6" cy="166.6" r="1.4" fill="#eee8ea"/>
<circle cx="792.9" cy="178.3" r="1.4" fill="#eee8ea"/>
<circle cx="794.9" cy="170.1" r="1.4" fill="#f6f2ee"/>
<circle cx="797.1" cy="170.5" r="1.4" fill="#eee8ea"/>
<circle cx="777.9" cy="173.4" r="1.4" fill="#f6f2ee"/>
<circle cx="786.9" cy="156.7" r="1.4" fill="#e2dcdf"/>
<circle cx="777.3" cy="163.1" r="1.4" fill="#f6f2ee"/>
<circle cx="778.5" cy="174.6" r="1.4" fill="#eee8ea"/>
<circle cx="795.6" cy="169.1" r="1.4" fill="#e2dcdf"/>
<circle cx="776.1" cy="169.5" r="1.4" fill="#f6f2ee"/>
<circle cx="786.7" cy="158.5" r="1.4" fill="#eee8ea"/>
<circle cx="788.2" cy="159.5" r="1.4" fill="#eee8ea"/>
<circle cx="791.2" cy="173.9" r="1.4" fill="#eee8ea"/>
<circle cx="788.1" cy="158.4" r="1.4" fill="#f6f2ee"/>
<circle cx="795.5" cy="170.2" r="1.4" fill="#eee8ea"/>
<circle cx="791.7" cy="163.9" r="1.4" fill="#f6f2ee"/>
<circle cx="781.8" cy="167.3" r="1.4" fill="#f6f2ee"/>
<circle cx="793.7" cy="160.8" r="1.4" fill="#eee8ea"/>
<circle cx="788.5" cy="168.1" r="1.4" fill="#f6f2ee"/>
<circle cx="783.6" cy="155.3" r="1.4" fill="#eee8ea"/>
<circle cx="793.7" cy="176.9" r="1.4" fill="#e2dcdf"/>
<circle cx="797.5" cy="164.0" r="1.4" fill="#eee8ea"/>
<circle cx="780.5" cy="156.9" r="1.4" fill="#eee8ea"/>
<circle cx="792.4" cy="170.7" r="1.4" fill="#e2dcdf"/>
<circle cx="792.0" cy="178.3" r="1.4" fill="#e2dcdf"/>
<circle cx="792.6" cy="162.3" r="1.4" fill="#e2dcdf"/>
<circle cx="772.0" cy="167.3" r="1.4" fill="#eee8ea"/>
<circle cx="776.1" cy="161.7" r="1.4" fill="#eee8ea"/>
<circle cx="783.9" cy="169.9" r="1.4" fill="#eee8ea"/>
<circle cx="776.1" cy="173.7" r="1.4" fill="#e2dcdf"/>
<circle cx="779.5" cy="155.9" r="1.4" fill="#eee8ea"/>
<circle cx="786.8" cy="160.8" r="1.4" fill="#f6f2ee"/>
<circle cx="797.0" cy="171.3" r="1.4" fill="#e2dcdf"/>
<circle cx="775.3" cy="164.0" r="1.4" fill="#eee8ea"/>
<circle cx="784.9" cy="177.5" r="1.4" fill="#e2dcdf"/>
<circle cx="784.4" cy="159.2" r="1.4" fill="#e2dcdf"/>
<circle cx="795.3" cy="166.9" r="1.4" fill="#e2dcdf"/>
<circle cx="783.1" cy="170.9" r="1.4" fill="#eee8ea"/>
<circle cx="790.2" cy="178.0" r="1.4" fill="#eee8ea"/>
<circle cx="782.2" cy="176.9" r="1.4" fill="#e2dcdf"/>
<circle cx="776.4" cy="157.1" r="1.4" fill="#f6f2ee"/>
<circle cx="796.6" cy="161.9" r="1.4" fill="#f6f2ee"/>
<circle cx="787.5" cy="167.5" r="1.4" fill="#eee8ea"/>
<circle cx="782.3" cy="177.9" r="1.4" fill="#e2dcdf"/>
<circle cx="772.2" cy="166.5" r="1.4" fill="#eee8ea"/>
<circle cx="774.4" cy="168.3" r="1.4" fill="#eee8ea"/>
<circle cx="785.7" cy="167.6" r="1.4" fill="#e2dcdf"/>
<circle cx="781.7" cy="176.8" r="1.4" fill="#f6f2ee"/>
<circle cx="786.7" cy="177.8" r="1.4" fill="#f6f2ee"/>
<circle cx="790.5" cy="173.6" r="1.4" fill="#e2dcdf"/>
<circle cx="785.9" cy="168.9" r="1.4" fill="#eee8ea"/>
<circle cx="782.6" cy="158.7" r="1.4" fill="#eee8ea"/>
<circle cx="776.8" cy="157.8" r="1.4" fill="#e2dcdf"/>
<circle cx="779.3" cy="171.5" r="1.4" fill="#eee8ea"/>
<circle cx="796.6" cy="171.8" r="1.4" fill="#e2dcdf"/>
<circle cx="776.4" cy="161.7" r="1.4" fill="#f6f2ee"/>
<circle cx="795.8" cy="163.0" r="1.4" fill="#eee8ea"/>
<circle cx="785.1" cy="167.7" r="1.4" fill="#eee8ea"/>
<circle cx="776.5" cy="165.8" r="1.4" fill="#eee8ea"/>
<circle cx="792.0" cy="178.4" r="1.4" fill="#eee8ea"/>
<circle cx="795.1" cy="168.3" r="1.4" fill="#eee8ea"/>
<circle cx="788.8" cy="172.2" r="1.4" fill="#f6f2ee"/>
<circle cx="778.2" cy="159.0" r="1.4" fill="#e2dcdf"/>
<circle cx="787.2" cy="162.3" r="1.4" fill="#e2dcdf"/>
<circle cx="794.9" cy="171.7" r="1.4" fill="#f6f2ee"/>
<circle cx="787.4" cy="156.2" r="1.4" fill="#eee8ea"/>
<circle cx="778.6" cy="173.8" r="1.4" fill="#e2dcdf"/>
<circle cx="794.6" cy="172.8" r="1.4" fill="#eee8ea"/>
<circle cx="785.7" cy="171.9" r="1.4" fill="#eee8ea"/>
<circle cx="782.1" cy="163.7" r="1.4" fill="#f6f2ee"/>
<circle cx="796.8" cy="161.5" r="1.4" fill="#e2dcdf"/>
<circle cx="783.3" cy="160.7" r="1.4" fill="#f6f2ee"/>
<circle cx="780.2" cy="157.3" r="1.4" fill="#f6f2ee"/>
<circle cx="792.3" cy="166.2" r="1.4" fill="#eee8ea"/>
<circle cx="793.3" cy="172.5" r="1.4" fill="#eee8ea"/>
<circle cx="784.6" cy="174.1" r="1.4" fill="#f6f2ee"/>
<circle cx="786.6" cy="172.7" r="1.4" fill="#e2dcdf"/>
<circle cx="788.0" cy="175.4" r="1.4" fill="#f6f2ee"/>
<circle cx="785.9" cy="180.4" r="1.4" fill="#f6f2ee"/>
<circle cx="796.9" cy="161.1" r="1.4" fill="#f6f2ee"/>
<circle cx="772.8" cy="169.9" r="1.4" fill="#f6f2ee"/>
<circle cx="787.2" cy="167.6" r="1.4" fill="#f6f2ee"/>
<circle cx="786.3" cy="180.2" r="1.4" fill="#eee8ea"/>
<circle cx="776.9" cy="174.1" r="1.4" fill="#f6f2ee"/>
<circle cx="789.4" cy="164.8" r="1.4" fill="#eee8ea"/>
<circle cx="839.4" cy="174.2" r="1.3" fill="#f8f4ec"/>
<circle cx="838.0" cy="178.0" r="1.3" fill="#f8f4ec"/>
<circle cx="830.2" cy="163.4" r="1.3" fill="#f8f4ec"/>
<circle cx="838.3" cy="175.5" r="1.3" fill="#f8f4ec"/>
<circle cx="836.4" cy="168.9" r="1.3" fill="#f8f4ec"/>
<circle cx="842.8" cy="170.9" r="1.3" fill="#f8f4ec"/>
<circle cx="870.5" cy="160.6" r="1.3" fill="#f8f4ec"/>
<circle cx="879.4" cy="164.7" r="1.3" fill="#f8f4ec"/>
<circle cx="863.9" cy="157.3" r="1.3" fill="#f8f4ec"/>
<circle cx="870.4" cy="156.6" r="1.3" fill="#f8f4ec"/>
<circle cx="864.4" cy="172.5" r="1.3" fill="#f8f4ec"/>
<circle cx="871.3" cy="171.7" r="1.3" fill="#f8f4ec"/>
<circle cx="881.4" cy="163.7" r="1.3" fill="#f8f4ec"/>
<circle cx="914.1" cy="162.0" r="1.3" fill="#f8f4ec"/>
<circle cx="914.1" cy="157.0" r="1.3" fill="#f8f4ec"/>
<circle cx="907.9" cy="168.4" r="1.3" fill="#f8f4ec"/>
<circle cx="916.7" cy="157.3" r="1.3" fill="#f8f4ec"/>
<circle cx="911.7" cy="175.5" r="1.3" fill="#f8f4ec"/>
<circle cx="783.5" cy="207.0" r="15" fill="#c8b9a6" opacity="0.8"/>
<circle cx="782.9" cy="215.2" r="1.1" fill="#e4dcd4"/>
<circle cx="795.1" cy="210.6" r="1.1" fill="#e4dcd4"/>
<circle cx="784.8" cy="196.3" r="1.1" fill="#e4dcd4"/>
<circle cx="790.0" cy="198.2" r="1.1" fill="#ddd2ca"/>
<circle cx="784.1" cy="204.6" r="1.1" fill="#d6cabe"/>
<circle cx="784.7" cy="198.9" r="1.1" fill="#d6cabe"/>
<circle cx="793.5" cy="210.1" r="1.1" fill="#d6cabe"/>
<circle cx="786.2" cy="203.8" r="1.1" fill="#e4dcd4"/>
<circle cx="783.7" cy="207.4" r="1.1" fill="#ddd2ca"/>
<circle cx="780.6" cy="218.7" r="1.1" fill="#ddd2ca"/>
<circle cx="793.2" cy="207.3" r="1.1" fill="#e4dcd4"/>
<circle cx="779.2" cy="195.1" r="1.1" fill="#e4dcd4"/>
<circle cx="772.1" cy="199.5" r="1.1" fill="#d6cabe"/>
<circle cx="782.6" cy="220.5" r="1.1" fill="#e4dcd4"/>
<circle cx="788.9" cy="194.7" r="1.1" fill="#ddd2ca"/>
<circle cx="778.9" cy="207.0" r="1.1" fill="#d6cabe"/>
<circle cx="784.5" cy="197.3" r="1.1" fill="#d6cabe"/>
<circle cx="779.3" cy="205.3" r="1.1" fill="#e4dcd4"/>
<circle cx="778.1" cy="213.9" r="1.1" fill="#e4dcd4"/>
<circle cx="792.8" cy="199.5" r="1.1" fill="#e4dcd4"/>
<circle cx="785.2" cy="205.6" r="1.1" fill="#ddd2ca"/>
<circle cx="780.5" cy="215.6" r="1.1" fill="#d6cabe"/>
<circle cx="774.9" cy="206.9" r="1.1" fill="#d6cabe"/>
<circle cx="784.5" cy="216.4" r="1.1" fill="#d6cabe"/>
<circle cx="773.9" cy="200.6" r="1.1" fill="#d6cabe"/>
<circle cx="778.5" cy="200.5" r="1.1" fill="#e4dcd4"/>
<circle cx="770.7" cy="205.2" r="1.1" fill="#e4dcd4"/>
<circle cx="777.2" cy="196.8" r="1.1" fill="#ddd2ca"/>
<circle cx="772.3" cy="209.6" r="1.1" fill="#e4dcd4"/>
<circle cx="779.2" cy="204.6" r="1.1" fill="#e4dcd4"/>
<circle cx="776.3" cy="197.9" r="1.1" fill="#d6cabe"/>
<circle cx="786.2" cy="214.1" r="1.1" fill="#d6cabe"/>
<circle cx="788.6" cy="197.3" r="1.1" fill="#d6cabe"/>
<circle cx="787.4" cy="212.7" r="1.1" fill="#e4dcd4"/>
<circle cx="776.9" cy="202.1" r="1.1" fill="#ddd2ca"/>
<circle cx="780.7" cy="212.3" r="1.1" fill="#d6cabe"/>
<circle cx="789.1" cy="206.8" r="1.1" fill="#d6cabe"/>
<circle cx="790.4" cy="212.1" r="1.1" fill="#ddd2ca"/>
<circle cx="786.8" cy="195.6" r="1.1" fill="#e4dcd4"/>
<circle cx="782.8" cy="211.5" r="1.1" fill="#ddd2ca"/>
<circle cx="781.0" cy="219.8" r="1.1" fill="#e4dcd4"/>
<circle cx="792.1" cy="208.9" r="1.1" fill="#e4dcd4"/>
<circle cx="780.1" cy="197.8" r="1.1" fill="#d6cabe"/>
<circle cx="782.9" cy="209.0" r="1.1" fill="#e4dcd4"/>
<circle cx="776.5" cy="201.6" r="1.1" fill="#d6cabe"/>
<circle cx="784.1" cy="219.8" r="1.1" fill="#d6cabe"/>
<circle cx="772.7" cy="201.6" r="1.1" fill="#e4dcd4"/>
<circle cx="789.9" cy="197.6" r="1.1" fill="#d6cabe"/>
<circle cx="792.4" cy="198.6" r="1.1" fill="#d6cabe"/>
<circle cx="777.8" cy="203.7" r="1.1" fill="#ddd2ca"/>
<circle cx="777.6" cy="199.7" r="1.1" fill="#e4dcd4"/>
<circle cx="782.8" cy="218.6" r="1.1" fill="#e4dcd4"/>
<circle cx="783.9" cy="215.8" r="1.1" fill="#d6cabe"/>
<circle cx="778.7" cy="201.9" r="1.1" fill="#e4dcd4"/>
<circle cx="781.6" cy="207.2" r="1.1" fill="#e4dcd4"/>
<circle cx="772.3" cy="205.7" r="1.1" fill="#ddd2ca"/>
<circle cx="789.8" cy="202.1" r="1.1" fill="#ddd2ca"/>
<circle cx="776.1" cy="213.3" r="1.1" fill="#ddd2ca"/>
<circle cx="793.5" cy="209.4" r="1.1" fill="#ddd2ca"/>
<circle cx="780.6" cy="193.7" r="1.1" fill="#ddd2ca"/>
<circle cx="825.9" cy="206.3" r="1.0" fill="#f8f4ec"/>
<circle cx="822.7" cy="202.5" r="1.0" fill="#f8f4ec"/>
<circle cx="781.5" cy="247.0" r="15" fill="#d6cdd2"/>
<circle cx="779.6" cy="237.7" r="1.7" fill="#fbf8f6"/>
<circle cx="773.1" cy="245.8" r="1.7" fill="#ddd5dc"/>
<circle cx="784.2" cy="257.7" r="1.7" fill="#ddd5dc"/>
<circle cx="768.7" cy="245.9" r="1.7" fill="#fbf8f6"/>
<circle cx="777.2" cy="241.9" r="1.7" fill="#ddd5dc"/>
<circle cx="780.3" cy="247.9" r="1.7" fill="#ddd5dc"/>
<circle cx="790.6" cy="241.7" r="1.7" fill="#fbf8f6"/>
<circle cx="777.6" cy="244.9" r="1.7" fill="#fbf8f6"/>
<circle cx="780.8" cy="234.1" r="1.7" fill="#e8e2e8"/>
<circle cx="794.5" cy="246.5" r="1.7" fill="#ddd5dc"/>
<circle cx="782.6" cy="251.6" r="1.7" fill="#f3eff3"/>
<circle cx="785.4" cy="237.1" r="1.7" fill="#ddd5dc"/>
<circle cx="774.4" cy="238.2" r="1.7" fill="#e8e2e8"/>
<circle cx="775.1" cy="255.5" r="1.7" fill="#ddd5dc"/>
<circle cx="774.4" cy="248.4" r="1.7" fill="#e8e2e8"/>
<circle cx="783.2" cy="238.0" r="1.7" fill="#e8e2e8"/>
<circle cx="780.6" cy="255.1" r="1.7" fill="#fbf8f6"/>
<circle cx="792.4" cy="245.8" r="1.7" fill="#ddd5dc"/>
<circle cx="792.8" cy="247.2" r="1.7" fill="#fbf8f6"/>
<circle cx="774.7" cy="255.4" r="1.7" fill="#fbf8f6"/>
<circle cx="772.9" cy="248.1" r="1.7" fill="#f3eff3"/>
<circle cx="777.2" cy="240.3" r="1.7" fill="#fbf8f6"/>
<circle cx="783.4" cy="244.5" r="1.7" fill="#fbf8f6"/>
<circle cx="782.6" cy="242.1" r="1.7" fill="#fbf8f6"/>
<circle cx="780.4" cy="245.8" r="1.7" fill="#f3eff3"/>
<circle cx="782.4" cy="250.5" r="1.7" fill="#fbf8f6"/>
<circle cx="781.5" cy="251.2" r="1.7" fill="#e8e2e8"/>
<circle cx="785.0" cy="242.5" r="1.7" fill="#ddd5dc"/>
<circle cx="778.5" cy="251.3" r="1.7" fill="#ddd5dc"/>
<circle cx="782.9" cy="241.7" r="1.7" fill="#f3eff3"/>
<circle cx="775.3" cy="236.0" r="1.7" fill="#fbf8f6"/>
<circle cx="785.1" cy="257.5" r="1.7" fill="#f3eff3"/>
<circle cx="781.1" cy="238.2" r="1.7" fill="#f3eff3"/>
<circle cx="775.1" cy="244.7" r="1.7" fill="#e8e2e8"/>
<circle cx="785.8" cy="238.9" r="1.7" fill="#f3eff3"/>
<circle cx="768.9" cy="248.2" r="1.7" fill="#ddd5dc"/>
<circle cx="781.6" cy="252.4" r="1.7" fill="#f3eff3"/>
<circle cx="785.5" cy="253.4" r="1.7" fill="#ddd5dc"/>
<circle cx="775.3" cy="236.5" r="1.7" fill="#fbf8f6"/>
<circle cx="769.6" cy="253.0" r="1.7" fill="#f3eff3"/>
<circle cx="784.9" cy="254.2" r="1.7" fill="#f3eff3"/>
<circle cx="784.3" cy="247.4" r="1.7" fill="#fbf8f6"/>
<circle cx="783.0" cy="243.2" r="1.7" fill="#ddd5dc"/>
<circle cx="769.0" cy="248.2" r="1.7" fill="#f3eff3"/>
<circle cx="783.5" cy="255.3" r="1.7" fill="#e8e2e8"/>
<circle cx="775.0" cy="257.5" r="1.7" fill="#fbf8f6"/>
<circle cx="775.1" cy="256.9" r="1.7" fill="#e8e2e8"/>
<circle cx="779.8" cy="254.6" r="1.7" fill="#fbf8f6"/>
<circle cx="770.1" cy="243.0" r="1.7" fill="#fbf8f6"/>
<circle cx="775.8" cy="254.4" r="1.7" fill="#fbf8f6"/>
<circle cx="774.6" cy="246.8" r="1.7" fill="#fbf8f6"/>
<circle cx="792.1" cy="245.3" r="1.7" fill="#f3eff3"/>
<circle cx="777.9" cy="253.5" r="1.7" fill="#fbf8f6"/>
<circle cx="790.6" cy="256.4" r="1.7" fill="#f3eff3"/>
<circle cx="782.1" cy="244.4" r="1.7" fill="#ddd5dc"/>
<circle cx="778.7" cy="246.2" r="1.7" fill="#fbf8f6"/>
<circle cx="783.7" cy="248.8" r="1.7" fill="#ddd5dc"/>
<circle cx="773.1" cy="240.2" r="1.7" fill="#ddd5dc"/>
<circle cx="773.7" cy="240.0" r="1.7" fill="#f3eff3"/>
<circle cx="784.0" cy="257.6" r="1.7" fill="#ddd5dc"/>
<circle cx="777.6" cy="243.1" r="1.7" fill="#e8e2e8"/>
<circle cx="787.4" cy="240.7" r="1.7" fill="#f3eff3"/>
<circle cx="790.7" cy="241.5" r="1.7" fill="#fbf8f6"/>
<circle cx="784.9" cy="243.4" r="1.7" fill="#fbf8f6"/>
<circle cx="775.3" cy="244.4" r="1.7" fill="#fbf8f6"/>
<circle cx="782.5" cy="249.3" r="1.7" fill="#f3eff3"/>
<circle cx="771.8" cy="251.5" r="1.7" fill="#f3eff3"/>
<circle cx="771.9" cy="247.1" r="1.7" fill="#f3eff3"/>
<circle cx="782.8" cy="238.5" r="1.7" fill="#ddd5dc"/>
<circle cx="780.0" cy="247.5" r="1.7" fill="#ddd5dc"/>
<circle cx="770.5" cy="239.6" r="1.7" fill="#e8e2e8"/>
<circle cx="773.1" cy="248.3" r="1.7" fill="#f3eff3"/>
<circle cx="789.4" cy="251.5" r="1.7" fill="#e8e2e8"/>
<circle cx="775.4" cy="240.8" r="1.7" fill="#f3eff3"/>
<circle cx="779.6" cy="242.8" r="1.7" fill="#f3eff3"/>
<circle cx="782.4" cy="251.5" r="1.7" fill="#ddd5dc"/>
<circle cx="792.7" cy="248.3" r="1.7" fill="#e8e2e8"/>
<circle cx="770.6" cy="250.5" r="1.7" fill="#f3eff3"/>
<circle cx="773.8" cy="255.6" r="1.7" fill="#e8e2e8"/>
<circle cx="781.0" cy="243.2" r="1.7" fill="#ddd5dc"/>
<circle cx="769.0" cy="250.1" r="1.7" fill="#fbf8f6"/>
<circle cx="784.1" cy="245.4" r="1.7" fill="#f3eff3"/>
<circle cx="783.1" cy="247.1" r="1.7" fill="#f3eff3"/>
<circle cx="775.8" cy="251.8" r="1.7" fill="#e8e2e8"/>
<circle cx="793.2" cy="243.8" r="1.7" fill="#f3eff3"/>
<circle cx="776.3" cy="258.8" r="1.7" fill="#ddd5dc"/>
<circle cx="776.2" cy="248.0" r="1.7" fill="#f3eff3"/>
<circle cx="774.5" cy="255.1" r="1.7" fill="#ddd5dc"/>
<circle cx="769.9" cy="248.7" r="1.7" fill="#ddd5dc"/>
<circle cx="792.6" cy="243.0" r="1.7" fill="#fbf8f6"/>
<circle cx="780.6" cy="250.2" r="1.7" fill="#fbf8f6"/>
<circle cx="789.2" cy="238.7" r="1.7" fill="#f3eff3"/>
<circle cx="786.5" cy="238.0" r="1.7" fill="#fbf8f6"/>
<circle cx="770.2" cy="240.3" r="1.7" fill="#e8e2e8"/>
<circle cx="773.6" cy="254.7" r="1.7" fill="#e8e2e8"/>
<circle cx="784.0" cy="240.4" r="1.7" fill="#f3eff3"/>
<circle cx="778.5" cy="253.2" r="1.7" fill="#e8e2e8"/>
<circle cx="771.2" cy="240.8" r="1.7" fill="#f3eff3"/>
<circle cx="780.3" cy="251.8" r="1.7" fill="#e8e2e8"/>
<circle cx="779.7" cy="259.1" r="1.7" fill="#ddd5dc"/>
<circle cx="779.3" cy="250.2" r="1.7" fill="#ddd5dc"/>
<circle cx="783.2" cy="241.3" r="1.7" fill="#e8e2e8"/>
<circle cx="780.3" cy="250.0" r="1.7" fill="#ddd5dc"/>
<circle cx="775.6" cy="248.3" r="1.7" fill="#fbf8f6"/>
<circle cx="780.4" cy="246.3" r="1.7" fill="#ddd5dc"/>
<circle cx="777.7" cy="248.0" r="1.7" fill="#fbf8f6"/>
<circle cx="782.4" cy="240.6" r="1.7" fill="#fbf8f6"/>
<circle cx="788.7" cy="240.7" r="1.7" fill="#ddd5dc"/>
<circle cx="775.5" cy="246.8" r="1.7" fill="#e8e2e8"/>
<circle cx="783.5" cy="252.3" r="1.7" fill="#fbf8f6"/>
<circle cx="775.0" cy="254.6" r="1.7" fill="#ddd5dc"/>
<circle cx="783.8" cy="234.9" r="1.7" fill="#e8e2e8"/>
<circle cx="794.3" cy="250.7" r="1.7" fill="#fbf8f6"/>
<circle cx="786.9" cy="241.0" r="1.7" fill="#ddd5dc"/>
<circle cx="782.7" cy="241.9" r="1.7" fill="#f3eff3"/>
<circle cx="776.1" cy="254.9" r="1.7" fill="#f3eff3"/>
<circle cx="786.5" cy="250.4" r="1.7" fill="#ddd5dc"/>
<circle cx="776.2" cy="243.8" r="1.7" fill="#fbf8f6"/>
<circle cx="769.9" cy="252.8" r="1.7" fill="#e8e2e8"/>
<circle cx="781.4" cy="249.6" r="1.7" fill="#e8e2e8"/>
<circle cx="840.1" cy="246.7" r="1.6" fill="#f8f4ec"/>
<circle cx="835.8" cy="247.8" r="1.6" fill="#f8f4ec"/>
<circle cx="824.1" cy="255.0" r="1.6" fill="#f8f4ec"/>
<circle cx="819.8" cy="248.0" r="1.6" fill="#f8f4ec"/>
<circle cx="840.8" cy="239.8" r="1.6" fill="#f8f4ec"/>
<circle cx="823.8" cy="237.7" r="1.6" fill="#f8f4ec"/>
<circle cx="830.0" cy="241.7" r="1.6" fill="#f8f4ec"/>
<circle cx="828.4" cy="253.7" r="1.6" fill="#f8f4ec"/>
<circle cx="841.7" cy="253.5" r="1.6" fill="#f8f4ec"/>
<circle cx="824.7" cy="246.7" r="1.6" fill="#f8f4ec"/>
<circle cx="836.5" cy="240.0" r="1.6" fill="#f8f4ec"/>
<circle cx="832.5" cy="257.9" r="1.6" fill="#f8f4ec"/>
<circle cx="837.2" cy="257.8" r="1.6" fill="#f8f4ec"/>
<circle cx="836.1" cy="245.2" r="1.6" fill="#f8f4ec"/>
<circle cx="827.6" cy="245.6" r="1.6" fill="#f8f4ec"/>
<circle cx="838.1" cy="243.3" r="1.6" fill="#f8f4ec"/>
<circle cx="820.4" cy="246.1" r="1.6" fill="#f8f4ec"/>
<circle cx="832.2" cy="237.6" r="1.6" fill="#f8f4ec"/>
<circle cx="838.1" cy="251.8" r="1.6" fill="#f8f4ec"/>
<circle cx="838.5" cy="247.3" r="1.6" fill="#f8f4ec"/>
<circle cx="869.9" cy="236.8" r="1.6" fill="#f8f4ec"/>
<circle cx="860.1" cy="250.8" r="1.6" fill="#f8f4ec"/>
<circle cx="861.5" cy="248.6" r="1.6" fill="#f8f4ec"/>
<circle cx="863.4" cy="252.5" r="1.6" fill="#f8f4ec"/>
<circle cx="863.3" cy="253.3" r="1.6" fill="#f8f4ec"/>
<circle cx="874.3" cy="235.7" r="1.6" fill="#f8f4ec"/>
<circle cx="877.3" cy="241.1" r="1.6" fill="#f8f4ec"/>
<circle cx="879.8" cy="241.0" r="1.6" fill="#f8f4ec"/>
<circle cx="876.4" cy="256.7" r="1.6" fill="#f8f4ec"/>
<circle cx="879.2" cy="251.9" r="1.6" fill="#f8f4ec"/>
<circle cx="862.2" cy="255.0" r="1.6" fill="#f8f4ec"/>
<circle cx="872.2" cy="234.9" r="1.6" fill="#f8f4ec"/>
<circle cx="921.8" cy="243.1" r="1.6" fill="#f8f4ec"/>
<circle cx="919.2" cy="247.7" r="1.6" fill="#f8f4ec"/>
<circle cx="922.1" cy="245.6" r="1.6" fill="#f8f4ec"/>
<circle cx="914.6" cy="252.9" r="1.6" fill="#f8f4ec"/>
<circle cx="908.5" cy="253.2" r="1.6" fill="#f8f4ec"/>
<rect x="762" y="281" width="183.5" height="147.0" fill="#bfb59b"/>
<circle cx="785.6" cy="297.0" r="15" fill="#d6cdd2"/>
<circle cx="785.1" cy="291.4" r="1.7" fill="#ddd5dc"/>
<circle cx="780.8" cy="295.3" r="1.7" fill="#e8e2e8"/>
<circle cx="784.7" cy="305.5" r="1.7" fill="#e8e2e8"/>
<circle cx="795.5" cy="298.6" r="1.7" fill="#fbf8f6"/>
<circle cx="782.8" cy="301.7" r="1.7" fill="#ddd5dc"/>
<circle cx="792.5" cy="302.7" r="1.7" fill="#ddd5dc"/>
<circle cx="795.5" cy="305.6" r="1.7" fill="#f3eff3"/>
<circle cx="777.6" cy="288.3" r="1.7" fill="#e8e2e8"/>
<circle cx="774.3" cy="292.5" r="1.7" fill="#f3eff3"/>
<circle cx="785.3" cy="303.0" r="1.7" fill="#fbf8f6"/>
<circle cx="779.4" cy="299.8" r="1.7" fill="#e8e2e8"/>
<circle cx="789.3" cy="295.1" r="1.7" fill="#fbf8f6"/>
<circle cx="781.0" cy="299.7" r="1.7" fill="#fbf8f6"/>
<circle cx="792.2" cy="305.4" r="1.7" fill="#ddd5dc"/>
<circle cx="788.3" cy="289.7" r="1.7" fill="#e8e2e8"/>
<circle cx="774.5" cy="301.1" r="1.7" fill="#fbf8f6"/>
<circle cx="789.0" cy="305.1" r="1.7" fill="#ddd5dc"/>
<circle cx="787.6" cy="306.9" r="1.7" fill="#e8e2e8"/>
<circle cx="790.9" cy="289.0" r="1.7" fill="#e8e2e8"/>
<circle cx="784.2" cy="291.3" r="1.7" fill="#f3eff3"/>
<circle cx="791.6" cy="286.0" r="1.7" fill="#ddd5dc"/>
<circle cx="786.0" cy="291.4" r="1.7" fill="#e8e2e8"/>
<circle cx="777.1" cy="289.7" r="1.7" fill="#e8e2e8"/>
<circle cx="780.4" cy="294.0" r="1.7" fill="#f3eff3"/>
<circle cx="782.2" cy="288.0" r="1.7" fill="#f3eff3"/>
<circle cx="777.8" cy="296.1" r="1.7" fill="#fbf8f6"/>
<circle cx="792.4" cy="286.6" r="1.7" fill="#ddd5dc"/>
<circle cx="792.8" cy="301.6" r="1.7" fill="#ddd5dc"/>
<circle cx="792.9" cy="305.1" r="1.7" fill="#e8e2e8"/>
<circle cx="790.3" cy="308.2" r="1.7" fill="#fbf8f6"/>
<circle cx="796.5" cy="299.5" r="1.7" fill="#f3eff3"/>
<circle cx="777.7" cy="307.1" r="1.7" fill="#f3eff3"/>
<circle cx="793.8" cy="304.7" r="1.7" fill="#fbf8f6"/>
<circle cx="787.9" cy="284.8" r="1.7" fill="#f3eff3"/>
<circle cx="784.5" cy="301.2" r="1.7" fill="#ddd5dc"/>
<circle cx="783.6" cy="297.7" r="1.7" fill="#e8e2e8"/>
<circle cx="798.6" cy="298.7" r="1.7" fill="#e8e2e8"/>
<circle cx="781.6" cy="293.3" r="1.7" fill="#fbf8f6"/>
<circle cx="785.6" cy="309.0" r="1.7" fill="#f3eff3"/>
<circle cx="798.3" cy="298.6" r="1.7" fill="#e8e2e8"/>
<circle cx="784.7" cy="309.1" r="1.7" fill="#ddd5dc"/>
<circle cx="774.6" cy="295.4" r="1.7" fill="#f3eff3"/>
<circle cx="783.2" cy="300.3" r="1.7" fill="#e8e2e8"/>
<circle cx="790.1" cy="298.3" r="1.7" fill="#ddd5dc"/>
<circle cx="775.6" cy="291.0" r="1.7" fill="#f3eff3"/>
<circle cx="791.7" cy="302.9" r="1.7" fill="#e8e2e8"/>
<circle cx="779.5" cy="295.4" r="1.7" fill="#e8e2e8"/>
<circle cx="791.7" cy="305.0" r="1.7" fill="#ddd5dc"/>
<circle cx="791.8" cy="307.4" r="1.7" fill="#ddd5dc"/>
<circle cx="782.1" cy="287.4" r="1.7" fill="#f3eff3"/>
<circle cx="775.4" cy="304.9" r="1.7" fill="#fbf8f6"/>
<circle cx="782.2" cy="302.5" r="1.7" fill="#fbf8f6"/>
<circle cx="783.0" cy="285.1" r="1.7" fill="#fbf8f6"/>
<circle cx="790.5" cy="285.8" r="1.7" fill="#f3eff3"/>
<circle cx="783.3" cy="301.5" r="1.7" fill="#fbf8f6"/>
<circle cx="785.6" cy="305.6" r="1.7" fill="#f3eff3"/>
<circle cx="779.2" cy="304.3" r="1.7" fill="#f3eff3"/>
<circle cx="782.9" cy="302.3" r="1.7" fill="#f3eff3"/>
<circle cx="786.9" cy="305.5" r="1.7" fill="#ddd5dc"/>
<circle cx="787.7" cy="284.3" r="1.7" fill="#f3eff3"/>
<circle cx="790.2" cy="285.3" r="1.7" fill="#f3eff3"/>
<circle cx="796.0" cy="299.3" r="1.7" fill="#fbf8f6"/>
<circle cx="794.7" cy="291.8" r="1.7" fill="#f3eff3"/>
<circle cx="780.8" cy="292.4" r="1.7" fill="#f3eff3"/>
<circle cx="773.7" cy="302.2" r="1.7" fill="#fbf8f6"/>
<circle cx="791.5" cy="302.1" r="1.7" fill="#e8e2e8"/>
<circle cx="793.1" cy="304.0" r="1.7" fill="#fbf8f6"/>
<circle cx="794.4" cy="302.2" r="1.7" fill="#e8e2e8"/>
<circle cx="776.8" cy="300.5" r="1.7" fill="#fbf8f6"/>
<circle cx="794.3" cy="291.9" r="1.7" fill="#fbf8f6"/>
<circle cx="785.8" cy="300.9" r="1.7" fill="#fbf8f6"/>
<circle cx="791.2" cy="288.2" r="1.7" fill="#e8e2e8"/>
<circle cx="782.1" cy="292.2" r="1.7" fill="#fbf8f6"/>
<circle cx="776.1" cy="299.4" r="1.7" fill="#ddd5dc"/>
<circle cx="778.3" cy="298.4" r="1.7" fill="#e8e2e8"/>
<circle cx="782.7" cy="302.0" r="1.7" fill="#ddd5dc"/>
<circle cx="793.8" cy="295.4" r="1.7" fill="#fbf8f6"/>
<circle cx="792.4" cy="308.1" r="1.7" fill="#fbf8f6"/>
<circle cx="776.9" cy="293.8" r="1.7" fill="#fbf8f6"/>
<circle cx="790.1" cy="292.7" r="1.7" fill="#f3eff3"/>
<circle cx="786.3" cy="291.8" r="1.7" fill="#f3eff3"/>
<circle cx="779.4" cy="292.2" r="1.7" fill="#f3eff3"/>
<circle cx="773.5" cy="295.7" r="1.7" fill="#fbf8f6"/>
<circle cx="785.2" cy="292.6" r="1.7" fill="#e8e2e8"/>
<circle cx="796.5" cy="296.3" r="1.7" fill="#e8e2e8"/>
<circle cx="776.2" cy="302.4" r="1.7" fill="#e8e2e8"/>
<circle cx="780.9" cy="287.7" r="1.7" fill="#fbf8f6"/>
<circle cx="789.7" cy="288.4" r="1.7" fill="#ddd5dc"/>
<circle cx="784.4" cy="307.5" r="1.7" fill="#e8e2e8"/>
<circle cx="781.9" cy="299.2" r="1.7" fill="#ddd5dc"/>
<circle cx="786.6" cy="286.9" r="1.7" fill="#ddd5dc"/>
<circle cx="775.0" cy="305.0" r="1.7" fill="#e8e2e8"/>
<circle cx="775.4" cy="302.8" r="1.7" fill="#f3eff3"/>
<circle cx="779.1" cy="303.1" r="1.7" fill="#ddd5dc"/>
<circle cx="783.7" cy="304.7" r="1.7" fill="#fbf8f6"/>
<circle cx="777.9" cy="303.3" r="1.7" fill="#ddd5dc"/>
<circle cx="784.9" cy="296.1" r="1.7" fill="#ddd5dc"/>
<circle cx="780.3" cy="302.0" r="1.7" fill="#fbf8f6"/>
<circle cx="788.5" cy="288.7" r="1.7" fill="#ddd5dc"/>
<circle cx="782.2" cy="295.1" r="1.7" fill="#fbf8f6"/>
<circle cx="780.1" cy="307.9" r="1.7" fill="#e8e2e8"/>
<circle cx="791.4" cy="295.5" r="1.7" fill="#ddd5dc"/>
<circle cx="795.7" cy="288.8" r="1.7" fill="#f3eff3"/>
<circle cx="795.2" cy="299.9" r="1.7" fill="#ddd5dc"/>
<circle cx="782.6" cy="306.3" r="1.7" fill="#fbf8f6"/>
<circle cx="772.7" cy="293.8" r="1.7" fill="#ddd5dc"/>
<circle cx="779.5" cy="302.1" r="1.7" fill="#fbf8f6"/>
<circle cx="784.3" cy="297.4" r="1.7" fill="#f3eff3"/>
<circle cx="781.5" cy="296.3" r="1.7" fill="#fbf8f6"/>
<circle cx="774.9" cy="296.9" r="1.7" fill="#e8e2e8"/>
<circle cx="795.1" cy="288.0" r="1.7" fill="#ddd5dc"/>
<circle cx="776.1" cy="303.8" r="1.7" fill="#fbf8f6"/>
<circle cx="781.5" cy="286.3" r="1.7" fill="#f3eff3"/>
<circle cx="789.2" cy="303.6" r="1.7" fill="#f3eff3"/>
<circle cx="790.0" cy="288.5" r="1.7" fill="#f3eff3"/>
<circle cx="781.6" cy="291.0" r="1.7" fill="#fbf8f6"/>
<circle cx="791.3" cy="285.0" r="1.7" fill="#ddd5dc"/>
<circle cx="779.1" cy="289.9" r="1.7" fill="#e8e2e8"/>
<circle cx="779.8" cy="296.8" r="1.7" fill="#e8e2e8"/>
<circle cx="794.9" cy="300.7" r="1.7" fill="#f3eff3"/>
<circle cx="824.0" cy="306.9" r="1.6" fill="#f8f4ec"/>
<circle cx="828.5" cy="293.6" r="1.6" fill="#f8f4ec"/>
<circle cx="821.8" cy="303.0" r="1.6" fill="#f8f4ec"/>
<circle cx="827.7" cy="307.1" r="1.6" fill="#f8f4ec"/>
<circle cx="839.5" cy="297.2" r="1.6" fill="#f8f4ec"/>
<circle cx="837.1" cy="288.5" r="1.6" fill="#f8f4ec"/>
<circle cx="828.1" cy="291.0" r="1.6" fill="#f8f4ec"/>
<circle cx="821.6" cy="297.1" r="1.6" fill="#f8f4ec"/>
<circle cx="830.4" cy="307.5" r="1.6" fill="#f8f4ec"/>
<circle cx="819.3" cy="294.5" r="1.6" fill="#f8f4ec"/>
<circle cx="823.5" cy="293.0" r="1.6" fill="#f8f4ec"/>
<circle cx="836.2" cy="301.5" r="1.6" fill="#f8f4ec"/>
<circle cx="831.8" cy="291.2" r="1.6" fill="#f8f4ec"/>
<circle cx="836.9" cy="300.9" r="1.6" fill="#f8f4ec"/>
<circle cx="820.0" cy="295.4" r="1.6" fill="#f8f4ec"/>
<circle cx="822.8" cy="289.5" r="1.6" fill="#f8f4ec"/>
<circle cx="834.8" cy="298.4" r="1.6" fill="#f8f4ec"/>
<circle cx="832.6" cy="288.9" r="1.6" fill="#f8f4ec"/>
<circle cx="868.7" cy="288.7" r="1.6" fill="#f8f4ec"/>
<circle cx="874.2" cy="303.7" r="1.6" fill="#f8f4ec"/>
<circle cx="880.2" cy="304.0" r="1.6" fill="#f8f4ec"/>
<circle cx="863.2" cy="292.8" r="1.6" fill="#f8f4ec"/>
<circle cx="862.2" cy="299.7" r="1.6" fill="#f8f4ec"/>
<circle cx="881.7" cy="301.0" r="1.6" fill="#f8f4ec"/>
<circle cx="859.8" cy="290.9" r="1.6" fill="#f8f4ec"/>
<circle cx="860.9" cy="300.8" r="1.6" fill="#f8f4ec"/>
<circle cx="870.5" cy="301.6" r="1.6" fill="#f8f4ec"/>
<circle cx="881.2" cy="292.1" r="1.6" fill="#f8f4ec"/>
<circle cx="907.3" cy="308.0" r="1.6" fill="#f8f4ec"/>
<circle cx="915.2" cy="289.7" r="1.6" fill="#f8f4ec"/>
<circle cx="902.2" cy="289.6" r="1.6" fill="#f8f4ec"/>
<circle cx="899.8" cy="297.3" r="1.6" fill="#f8f4ec"/>
<circle cx="912.4" cy="305.7" r="1.6" fill="#f8f4ec"/>
<circle cx="910.6" cy="289.9" r="1.6" fill="#f8f4ec"/>
<circle cx="907.7" cy="308.0" r="1.6" fill="#f8f4ec"/>
<circle cx="900.7" cy="298.1" r="1.6" fill="#f8f4ec"/>
<circle cx="912.3" cy="303.7" r="1.6" fill="#f8f4ec"/>
<circle cx="907.7" cy="302.3" r="1.6" fill="#f8f4ec"/>
<circle cx="784.2" cy="333.5" r="15" fill="#d6cdd2"/>
<circle cx="791.3" cy="332.2" r="1.7" fill="#fbf8f6"/>
<circle cx="791.5" cy="339.9" r="1.7" fill="#ddd5dc"/>
<circle cx="778.7" cy="342.7" r="1.7" fill="#f3eff3"/>
<circle cx="773.0" cy="339.5" r="1.7" fill="#e8e2e8"/>
<circle cx="777.3" cy="339.4" r="1.7" fill="#fbf8f6"/>
<circle cx="784.4" cy="336.0" r="1.7" fill="#f3eff3"/>
<circle cx="781.3" cy="337.9" r="1.7" fill="#e8e2e8"/>
<circle cx="790.0" cy="337.3" r="1.7" fill="#e8e2e8"/>
<circle cx="775.6" cy="330.4" r="1.7" fill="#e8e2e8"/>
<circle cx="788.5" cy="340.2" r="1.7" fill="#ddd5dc"/>
<circle cx="774.9" cy="342.6" r="1.7" fill="#e8e2e8"/>
<circle cx="781.5" cy="342.3" r="1.7" fill="#e8e2e8"/>
<circle cx="785.5" cy="342.4" r="1.7" fill="#e8e2e8"/>
<circle cx="796.6" cy="328.8" r="1.7" fill="#ddd5dc"/>
<circle cx="777.3" cy="329.3" r="1.7" fill="#e8e2e8"/>
<circle cx="776.4" cy="338.9" r="1.7" fill="#e8e2e8"/>
<circle cx="787.4" cy="330.2" r="1.7" fill="#f3eff3"/>
<circle cx="777.5" cy="331.7" r="1.7" fill="#ddd5dc"/>
<circle cx="795.3" cy="335.5" r="1.7" fill="#e8e2e8"/>
<circle cx="781.1" cy="341.2" r="1.7" fill="#f3eff3"/>
<circle cx="780.2" cy="322.5" r="1.7" fill="#e8e2e8"/>
<circle cx="779.5" cy="343.3" r="1.7" fill="#f3eff3"/>
<circle cx="795.8" cy="338.8" r="1.7" fill="#fbf8f6"/>
<circle cx="788.2" cy="344.1" r="1.7" fill="#f3eff3"/>
<circle cx="784.9" cy="338.2" r="1.7" fill="#ddd5dc"/>
<circle cx="782.5" cy="341.8" r="1.7" fill="#ddd5dc"/>
<circle cx="786.2" cy="321.2" r="1.7" fill="#e8e2e8"/>
<circle cx="789.4" cy="331.3" r="1.7" fill="#fbf8f6"/>
<circle cx="779.6" cy="323.7" r="1.7" fill="#fbf8f6"/>
<circle cx="785.9" cy="332.2" r="1.7" fill="#ddd5dc"/>
<circle cx="784.3" cy="345.7" r="1.7" fill="#fbf8f6"/>
<circle cx="787.7" cy="331.2" r="1.7" fill="#fbf8f6"/>
<circle cx="793.7" cy="341.9" r="1.7" fill="#e8e2e8"/>
<circle cx="783.6" cy="330.9" r="1.7" fill="#f3eff3"/>
<circle cx="777.4" cy="328.0" r="1.7" fill="#fbf8f6"/>
<circle cx="790.6" cy="343.0" r="1.7" fill="#fbf8f6"/>
<circle cx="775.3" cy="324.1" r="1.7" fill="#e8e2e8"/>
<circle cx="774.0" cy="328.7" r="1.7" fill="#fbf8f6"/>
<circle cx="793.9" cy="328.6" r="1.7" fill="#fbf8f6"/>
<circle cx="788.3" cy="331.8" r="1.7" fill="#fbf8f6"/>
<circle cx="794.3" cy="326.3" r="1.7" fill="#f3eff3"/>
<circle cx="795.0" cy="331.7" r="1.7" fill="#f3eff3"/>
<circle cx="785.8" cy="327.6" r="1.7" fill="#fbf8f6"/>
<circle cx="784.2" cy="329.6" r="1.7" fill="#ddd5dc"/>
<circle cx="794.6" cy="333.4" r="1.7" fill="#e8e2e8"/>
<circle cx="783.4" cy="337.4" r="1.7" fill="#ddd5dc"/>
<circle cx="776.9" cy="336.2" r="1.7" fill="#ddd5dc"/>
<circle cx="773.3" cy="332.9" r="1.7" fill="#e8e2e8"/>
<circle cx="775.6" cy="337.6" r="1.7" fill="#e8e2e8"/>
<circle cx="778.4" cy="333.9" r="1.7" fill="#fbf8f6"/>
<circle cx="786.7" cy="338.3" r="1.7" fill="#e8e2e8"/>
<circle cx="777.8" cy="331.7" r="1.7" fill="#f3eff3"/>
<circle cx="788.1" cy="340.3" r="1.7" fill="#f3eff3"/>
<circle cx="786.4" cy="340.6" r="1.7" fill="#e8e2e8"/>
<circle cx="780.6" cy="325.0" r="1.7" fill="#ddd5dc"/>
<circle cx="784.7" cy="340.0" r="1.7" fill="#ddd5dc"/>
<circle cx="791.3" cy="341.4" r="1.7" fill="#fbf8f6"/>
<circle cx="791.7" cy="341.8" r="1.7" fill="#e8e2e8"/>
<circle cx="778.2" cy="343.9" r="1.7" fill="#ddd5dc"/>
<circle cx="784.6" cy="328.0" r="1.7" fill="#e8e2e8"/>
<circle cx="776.8" cy="328.3" r="1.7" fill="#ddd5dc"/>
<circle cx="786.4" cy="329.6" r="1.7" fill="#fbf8f6"/>
<circle cx="793.4" cy="334.2" r="1.7" fill="#f3eff3"/>
<circle cx="790.7" cy="336.1" r="1.7" fill="#e8e2e8"/>
<circle cx="789.9" cy="338.2" r="1.7" fill="#f3eff3"/>
<circle cx="788.9" cy="341.0" r="1.7" fill="#fbf8f6"/>
<circle cx="781.8" cy="343.1" r="1.7" fill="#f3eff3"/>
<circle cx="797.4" cy="334.4" r="1.7" fill="#ddd5dc"/>
<circle cx="793.9" cy="339.2" r="1.7" fill="#fbf8f6"/>
<circle cx="791.4" cy="339.4" r="1.7" fill="#ddd5dc"/>
<circle cx="772.5" cy="334.4" r="1.7" fill="#fbf8f6"/>
<circle cx="796.9" cy="334.2" r="1.7" fill="#fbf8f6"/>
<circle cx="775.3" cy="324.2" r="1.7" fill="#fbf8f6"/>
<circle cx="782.1" cy="330.5" r="1.7" fill="#f3eff3"/>
<circle cx="792.5" cy="334.8" r="1.7" fill="#e8e2e8"/>
<circle cx="782.6" cy="339.0" r="1.7" fill="#e8e2e8"/>
<circle cx="793.2" cy="340.3" r="1.7" fill="#fbf8f6"/>
<circle cx="783.8" cy="325.9" r="1.7" fill="#e8e2e8"/>
<circle cx="779.4" cy="327.2" r="1.7" fill="#e8e2e8"/>
<circle cx="777.5" cy="340.8" r="1.7" fill="#fbf8f6"/>
<circle cx="787.7" cy="327.8" r="1.7" fill="#f3eff3"/>
<circle cx="793.9" cy="336.1" r="1.7" fill="#ddd5dc"/>
<circle cx="794.9" cy="326.2" r="1.7" fill="#ddd5dc"/>
<circle cx="774.1" cy="338.8" r="1.7" fill="#fbf8f6"/>
<circle cx="775.8" cy="327.2" r="1.7" fill="#e8e2e8"/>
<circle cx="782.2" cy="328.5" r="1.7" fill="#ddd5dc"/>
<circle cx="778.7" cy="327.1" r="1.7" fill="#f3eff3"/>
<circle cx="789.6" cy="326.1" r="1.7" fill="#e8e2e8"/>
<circle cx="784.1" cy="332.8" r="1.7" fill="#ddd5dc"/>
<circle cx="786.4" cy="336.3" r="1.7" fill="#f3eff3"/>
<circle cx="775.6" cy="332.7" r="1.7" fill="#fbf8f6"/>
<circle cx="785.4" cy="334.0" r="1.7" fill="#e8e2e8"/>
<circle cx="788.6" cy="330.4" r="1.7" fill="#fbf8f6"/>
<circle cx="796.1" cy="333.8" r="1.7" fill="#fbf8f6"/>
<circle cx="775.9" cy="329.8" r="1.7" fill="#fbf8f6"/>
<circle cx="775.5" cy="332.6" r="1.7" fill="#e8e2e8"/>
<circle cx="797.1" cy="331.4" r="1.7" fill="#f3eff3"/>
<circle cx="785.4" cy="330.5" r="1.7" fill="#fbf8f6"/>
<circle cx="778.6" cy="328.9" r="1.7" fill="#ddd5dc"/>
<circle cx="793.0" cy="330.8" r="1.7" fill="#e8e2e8"/>
<circle cx="781.8" cy="340.9" r="1.7" fill="#f3eff3"/>
<circle cx="787.8" cy="328.4" r="1.7" fill="#ddd5dc"/>
<circle cx="782.4" cy="328.7" r="1.7" fill="#fbf8f6"/>
<circle cx="772.0" cy="329.1" r="1.7" fill="#fbf8f6"/>
<circle cx="774.4" cy="331.6" r="1.7" fill="#ddd5dc"/>
<circle cx="783.8" cy="339.8" r="1.7" fill="#e8e2e8"/>
<circle cx="779.9" cy="332.2" r="1.7" fill="#fbf8f6"/>
<circle cx="780.8" cy="328.8" r="1.7" fill="#fbf8f6"/>
<circle cx="782.6" cy="327.4" r="1.7" fill="#ddd5dc"/>
<circle cx="785.7" cy="343.5" r="1.7" fill="#f3eff3"/>
<circle cx="783.1" cy="320.9" r="1.7" fill="#f3eff3"/>
<circle cx="790.7" cy="324.7" r="1.7" fill="#ddd5dc"/>
<circle cx="790.5" cy="340.5" r="1.7" fill="#f3eff3"/>
<circle cx="775.1" cy="324.2" r="1.7" fill="#f3eff3"/>
<circle cx="773.5" cy="336.2" r="1.7" fill="#e8e2e8"/>
<circle cx="789.9" cy="332.3" r="1.7" fill="#ddd5dc"/>
<circle cx="785.0" cy="328.6" r="1.7" fill="#f3eff3"/>
<circle cx="781.8" cy="335.1" r="1.7" fill="#f3eff3"/>
<circle cx="794.4" cy="334.5" r="1.7" fill="#e8e2e8"/>
<circle cx="779.7" cy="334.7" r="1.7" fill="#e8e2e8"/>
<circle cx="820.8" cy="338.8" r="1.6" fill="#f8f4ec"/>
<circle cx="822.9" cy="325.3" r="1.6" fill="#f8f4ec"/>
<circle cx="820.4" cy="328.8" r="1.6" fill="#f8f4ec"/>
<circle cx="836.0" cy="328.7" r="1.6" fill="#f8f4ec"/>
<circle cx="831.3" cy="325.2" r="1.6" fill="#f8f4ec"/>
<circle cx="832.4" cy="322.8" r="1.6" fill="#f8f4ec"/>
<circle cx="834.2" cy="328.2" r="1.6" fill="#f8f4ec"/>
<circle cx="823.8" cy="341.4" r="1.6" fill="#f8f4ec"/>
<circle cx="841.9" cy="330.0" r="1.6" fill="#f8f4ec"/>
<circle cx="841.4" cy="336.3" r="1.6" fill="#f8f4ec"/>
<circle cx="839.5" cy="339.3" r="1.6" fill="#f8f4ec"/>
<circle cx="833.4" cy="328.0" r="1.6" fill="#f8f4ec"/>
<circle cx="841.1" cy="328.7" r="1.6" fill="#f8f4ec"/>
<circle cx="831.3" cy="340.4" r="1.6" fill="#f8f4ec"/>
<circle cx="820.5" cy="337.3" r="1.6" fill="#f8f4ec"/>
<circle cx="826.4" cy="330.6" r="1.6" fill="#f8f4ec"/>
<circle cx="837.3" cy="334.3" r="1.6" fill="#f8f4ec"/>
<circle cx="833.6" cy="327.0" r="1.6" fill="#f8f4ec"/>
<circle cx="824.1" cy="330.9" r="1.6" fill="#f8f4ec"/>
<circle cx="828.2" cy="325.5" r="1.6" fill="#f8f4ec"/>
<circle cx="877.8" cy="342.8" r="1.6" fill="#f8f4ec"/>
<circle cx="860.0" cy="330.9" r="1.6" fill="#f8f4ec"/>
<circle cx="874.9" cy="322.1" r="1.6" fill="#f8f4ec"/>
<circle cx="878.8" cy="334.2" r="1.6" fill="#f8f4ec"/>
<circle cx="876.1" cy="341.3" r="1.6" fill="#f8f4ec"/>
<circle cx="878.5" cy="325.3" r="1.6" fill="#f8f4ec"/>
<circle cx="877.1" cy="335.0" r="1.6" fill="#f8f4ec"/>
<circle cx="875.0" cy="323.7" r="1.6" fill="#f8f4ec"/>
<circle cx="863.2" cy="339.4" r="1.6" fill="#f8f4ec"/>
<circle cx="876.9" cy="343.3" r="1.6" fill="#f8f4ec"/>
<circle cx="861.2" cy="340.9" r="1.6" fill="#f8f4ec"/>
<circle cx="866.5" cy="330.1" r="1.6" fill="#f8f4ec"/>
<circle cx="867.1" cy="339.8" r="1.6" fill="#f8f4ec"/>
<circle cx="878.5" cy="327.2" r="1.6" fill="#f8f4ec"/>
<circle cx="876.9" cy="335.3" r="1.6" fill="#f8f4ec"/>
<circle cx="906.0" cy="340.7" r="1.6" fill="#f8f4ec"/>
<circle cx="904.3" cy="329.4" r="1.6" fill="#f8f4ec"/>
<circle cx="910.0" cy="336.1" r="1.6" fill="#f8f4ec"/>
<circle cx="904.7" cy="329.6" r="1.6" fill="#f8f4ec"/>
<circle cx="921.2" cy="334.7" r="1.6" fill="#f8f4ec"/>
<circle cx="916.6" cy="333.1" r="1.6" fill="#f8f4ec"/>
<circle cx="918.5" cy="342.0" r="1.6" fill="#f8f4ec"/>
<circle cx="910.9" cy="341.1" r="1.6" fill="#f8f4ec"/>
<circle cx="904.4" cy="333.5" r="1.6" fill="#f8f4ec"/>
<circle cx="903.1" cy="329.4" r="1.6" fill="#f8f4ec"/>
<circle cx="783.5" cy="369.0" r="15" fill="#d6cdd2"/>
<circle cx="796.3" cy="365.5" r="1.7" fill="#f3eff3"/>
<circle cx="794.4" cy="362.6" r="1.7" fill="#f3eff3"/>
<circle cx="791.6" cy="360.6" r="1.7" fill="#f3eff3"/>
<circle cx="778.9" cy="374.4" r="1.7" fill="#e8e2e8"/>
<circle cx="792.5" cy="359.8" r="1.7" fill="#f3eff3"/>
<circle cx="779.6" cy="380.0" r="1.7" fill="#fbf8f6"/>
<circle cx="772.9" cy="368.4" r="1.7" fill="#fbf8f6"/>
<circle cx="791.3" cy="360.9" r="1.7" fill="#fbf8f6"/>
<circle cx="790.7" cy="371.9" r="1.7" fill="#fbf8f6"/>
<circle cx="792.3" cy="361.1" r="1.7" fill="#fbf8f6"/>
<circle cx="792.9" cy="361.6" r="1.7" fill="#fbf8f6"/>
<circle cx="787.0" cy="373.9" r="1.7" fill="#ddd5dc"/>
<circle cx="776.6" cy="373.7" r="1.7" fill="#fbf8f6"/>
<circle cx="792.7" cy="364.6" r="1.7" fill="#e8e2e8"/>
<circle cx="781.2" cy="376.0" r="1.7" fill="#fbf8f6"/>
<circle cx="788.7" cy="371.6" r="1.7" fill="#f3eff3"/>
<circle cx="777.2" cy="365.3" r="1.7" fill="#fbf8f6"/>
<circle cx="791.4" cy="368.4" r="1.7" fill="#ddd5dc"/>
<circle cx="781.2" cy="356.4" r="1.7" fill="#ddd5dc"/>
<circle cx="781.2" cy="374.0" r="1.7" fill="#fbf8f6"/>
<circle cx="772.4" cy="365.7" r="1.7" fill="#fbf8f6"/>
<circle cx="783.7" cy="370.9" r="1.7" fill="#f3eff3"/>
<circle cx="778.7" cy="372.5" r="1.7" fill="#fbf8f6"/>
<circle cx="790.5" cy="360.9" r="1.7" fill="#e8e2e8"/>
<circle cx="783.7" cy="372.2" r="1.7" fill="#e8e2e8"/>
<circle cx="780.5" cy="366.8" r="1.7" fill="#fbf8f6"/>
<circle cx="783.3" cy="368.1" r="1.7" fill="#fbf8f6"/>
<circle cx="771.4" cy="366.1" r="1.7" fill="#fbf8f6"/>
<circle cx="788.9" cy="366.1" r="1.7" fill="#fbf8f6"/>
<circle cx="785.0" cy="367.4" r="1.7" fill="#ddd5dc"/>
<circle cx="774.4" cy="375.1" r="1.7" fill="#fbf8f6"/>
<circle cx="789.1" cy="380.0" r="1.7" fill="#f3eff3"/>
<circle cx="792.4" cy="374.4" r="1.7" fill="#ddd5dc"/>
<circle cx="791.9" cy="368.4" r="1.7" fill="#ddd5dc"/>
<circle cx="785.0" cy="367.5" r="1.7" fill="#fbf8f6"/>
<circle cx="771.3" cy="363.8" r="1.7" fill="#f3eff3"/>
<circle cx="773.8" cy="374.7" r="1.7" fill="#fbf8f6"/>
<circle cx="784.5" cy="370.5" r="1.7" fill="#e8e2e8"/>
<circle cx="790.8" cy="378.1" r="1.7" fill="#f3eff3"/>
<circle cx="778.5" cy="375.2" r="1.7" fill="#fbf8f6"/>
<circle cx="773.6" cy="366.5" r="1.7" fill="#e8e2e8"/>
<circle cx="777.8" cy="360.4" r="1.7" fill="#fbf8f6"/>
<circle cx="784.8" cy="379.4" r="1.7" fill="#ddd5dc"/>
<circle cx="784.5" cy="357.3" r="1.7" fill="#fbf8f6"/>
<circle cx="777.8" cy="361.0" r="1.7" fill="#ddd5dc"/>
<circle cx="776.1" cy="366.1" r="1.7" fill="#fbf8f6"/>
<circle cx="784.4" cy="369.9" r="1.7" fill="#ddd5dc"/>
<circle cx="793.2" cy="376.0" r="1.7" fill="#fbf8f6"/>
<circle cx="789.7" cy="377.6" r="1.7" fill="#ddd5dc"/>
<circle cx="783.7" cy="365.0" r="1.7" fill="#f3eff3"/>
<circle cx="780.2" cy="365.7" r="1.7" fill="#e8e2e8"/>
<circle cx="778.2" cy="367.1" r="1.7" fill="#fbf8f6"/>
<circle cx="782.5" cy="356.4" r="1.7" fill="#e8e2e8"/>
<circle cx="775.7" cy="367.6" r="1.7" fill="#e8e2e8"/>
<circle cx="772.0" cy="373.4" r="1.7" fill="#e8e2e8"/>
<circle cx="778.4" cy="363.1" r="1.7" fill="#ddd5dc"/>
<circle cx="776.2" cy="370.9" r="1.7" fill="#f3eff3"/>
<circle cx="792.4" cy="376.1" r="1.7" fill="#f3eff3"/>
<circle cx="787.9" cy="357.1" r="1.7" fill="#fbf8f6"/>
<circle cx="792.8" cy="372.7" r="1.7" fill="#ddd5dc"/>
<circle cx="790.3" cy="364.5" r="1.7" fill="#e8e2e8"/>
<circle cx="785.4" cy="369.4" r="1.7" fill="#ddd5dc"/>
<circle cx="783.9" cy="376.9" r="1.7" fill="#fbf8f6"/>
<circle cx="784.1" cy="358.4" r="1.7" fill="#fbf8f6"/>
<circle cx="790.3" cy="362.5" r="1.7" fill="#e8e2e8"/>
<circle cx="770.8" cy="370.8" r="1.7" fill="#fbf8f6"/>
<circle cx="788.2" cy="367.6" r="1.7" fill="#fbf8f6"/>
<circle cx="781.9" cy="376.5" r="1.7" fill="#ddd5dc"/>
<circle cx="788.1" cy="364.2" r="1.7" fill="#fbf8f6"/>
<circle cx="779.3" cy="359.6" r="1.7" fill="#ddd5dc"/>
<circle cx="784.2" cy="372.0" r="1.7" fill="#e8e2e8"/>
<circle cx="790.3" cy="359.8" r="1.7" fill="#f3eff3"/>
<circle cx="785.8" cy="356.9" r="1.7" fill="#e8e2e8"/>
<circle cx="778.9" cy="371.0" r="1.7" fill="#fbf8f6"/>
<circle cx="778.8" cy="358.0" r="1.7" fill="#e8e2e8"/>
<circle cx="784.8" cy="368.8" r="1.7" fill="#fbf8f6"/>
<circle cx="790.2" cy="378.3" r="1.7" fill="#f3eff3"/>
<circle cx="783.6" cy="359.9" r="1.7" fill="#ddd5dc"/>
<circle cx="790.0" cy="373.2" r="1.7" fill="#ddd5dc"/>
<circle cx="793.2" cy="360.1" r="1.7" fill="#f3eff3"/>
<circle cx="778.4" cy="366.0" r="1.7" fill="#f3eff3"/>
<circle cx="792.7" cy="371.2" r="1.7" fill="#e8e2e8"/>
<circle cx="773.6" cy="364.0" r="1.7" fill="#f3eff3"/>
<circle cx="795.5" cy="372.8" r="1.7" fill="#f3eff3"/>
<circle cx="786.8" cy="365.8" r="1.7" fill="#ddd5dc"/>
<circle cx="793.0" cy="367.2" r="1.7" fill="#f3eff3"/>
<circle cx="788.3" cy="378.9" r="1.7" fill="#e8e2e8"/>
<circle cx="776.9" cy="361.7" r="1.7" fill="#f3eff3"/>
<circle cx="771.5" cy="366.7" r="1.7" fill="#f3eff3"/>
<circle cx="779.9" cy="374.0" r="1.7" fill="#e8e2e8"/>
<circle cx="782.7" cy="362.1" r="1.7" fill="#e8e2e8"/>
<circle cx="790.4" cy="369.7" r="1.7" fill="#f3eff3"/>
<circle cx="784.5" cy="371.7" r="1.7" fill="#fbf8f6"/>
<circle cx="782.7" cy="376.5" r="1.7" fill="#f3eff3"/>
<circle cx="777.9" cy="361.0" r="1.7" fill="#fbf8f6"/>
<circle cx="778.7" cy="356.7" r="1.7" fill="#fbf8f6"/>
<circle cx="777.4" cy="373.4" r="1.7" fill="#ddd5dc"/>
<circle cx="779.7" cy="372.5" r="1.7" fill="#ddd5dc"/>
<circle cx="792.3" cy="360.9" r="1.7" fill="#f3eff3"/>
<circle cx="784.1" cy="378.4" r="1.7" fill="#fbf8f6"/>
<circle cx="779.6" cy="358.3" r="1.7" fill="#e8e2e8"/>
<circle cx="788.5" cy="359.4" r="1.7" fill="#f3eff3"/>
<circle cx="790.0" cy="359.2" r="1.7" fill="#f3eff3"/>
<circle cx="775.3" cy="374.5" r="1.7" fill="#ddd5dc"/>
<circle cx="776.4" cy="366.7" r="1.7" fill="#f3eff3"/>
<circle cx="772.9" cy="370.8" r="1.7" fill="#ddd5dc"/>
<circle cx="773.3" cy="368.3" r="1.7" fill="#ddd5dc"/>
<circle cx="784.5" cy="379.5" r="1.7" fill="#ddd5dc"/>
<circle cx="781.4" cy="371.7" r="1.7" fill="#fbf8f6"/>
<circle cx="775.2" cy="361.9" r="1.7" fill="#fbf8f6"/>
<circle cx="794.2" cy="374.2" r="1.7" fill="#e8e2e8"/>
<circle cx="793.8" cy="363.6" r="1.7" fill="#fbf8f6"/>
<circle cx="791.2" cy="364.0" r="1.7" fill="#fbf8f6"/>
<circle cx="774.4" cy="367.7" r="1.7" fill="#e8e2e8"/>
<circle cx="786.9" cy="369.0" r="1.7" fill="#fbf8f6"/>
<circle cx="773.9" cy="367.6" r="1.7" fill="#fbf8f6"/>
<circle cx="783.9" cy="374.5" r="1.7" fill="#ddd5dc"/>
<circle cx="789.2" cy="380.6" r="1.7" fill="#f3eff3"/>
<circle cx="780.0" cy="376.2" r="1.7" fill="#ddd5dc"/>
<circle cx="787.2" cy="372.6" r="1.7" fill="#fbf8f6"/>
<circle cx="825.5" cy="375.0" r="1.6" fill="#f8f4ec"/>
<circle cx="826.4" cy="360.7" r="1.6" fill="#f8f4ec"/>
<circle cx="828.1" cy="379.1" r="1.6" fill="#f8f4ec"/>
<circle cx="830.3" cy="376.8" r="1.6" fill="#f8f4ec"/>
<circle cx="826.0" cy="370.9" r="1.6" fill="#f8f4ec"/>
<circle cx="824.2" cy="360.7" r="1.6" fill="#f8f4ec"/>
<circle cx="835.9" cy="377.6" r="1.6" fill="#f8f4ec"/>
<circle cx="837.6" cy="369.2" r="1.6" fill="#f8f4ec"/>
<circle cx="820.9" cy="369.7" r="1.6" fill="#f8f4ec"/>
<circle cx="824.5" cy="362.2" r="1.6" fill="#f8f4ec"/>
<circle cx="833.9" cy="361.9" r="1.6" fill="#f8f4ec"/>
<circle cx="828.9" cy="368.0" r="1.6" fill="#f8f4ec"/>
<circle cx="830.9" cy="379.2" r="1.6" fill="#f8f4ec"/>
<circle cx="828.1" cy="378.3" r="1.6" fill="#f8f4ec"/>
<circle cx="838.0" cy="365.2" r="1.6" fill="#f8f4ec"/>
<circle cx="869.6" cy="378.1" r="1.6" fill="#f8f4ec"/>
<circle cx="861.1" cy="367.5" r="1.6" fill="#f8f4ec"/>
<circle cx="875.7" cy="372.2" r="1.6" fill="#f8f4ec"/>
<circle cx="878.1" cy="367.0" r="1.6" fill="#f8f4ec"/>
<circle cx="872.8" cy="357.1" r="1.6" fill="#f8f4ec"/>
<circle cx="868.7" cy="360.6" r="1.6" fill="#f8f4ec"/>
<circle cx="881.3" cy="371.9" r="1.6" fill="#f8f4ec"/>
<circle cx="879.4" cy="367.3" r="1.6" fill="#f8f4ec"/>
<circle cx="864.6" cy="364.3" r="1.6" fill="#f8f4ec"/>
<circle cx="871.3" cy="380.7" r="1.6" fill="#f8f4ec"/>
<circle cx="877.6" cy="376.5" r="1.6" fill="#f8f4ec"/>
<circle cx="882.1" cy="367.4" r="1.6" fill="#f8f4ec"/>
<circle cx="866.1" cy="366.6" r="1.6" fill="#f8f4ec"/>
<circle cx="915.4" cy="380.3" r="1.6" fill="#f8f4ec"/>
<circle cx="920.0" cy="373.4" r="1.6" fill="#f8f4ec"/>
<circle cx="905.0" cy="374.6" r="1.6" fill="#f8f4ec"/>
<circle cx="921.7" cy="364.9" r="1.6" fill="#f8f4ec"/>
<circle cx="913.5" cy="363.4" r="1.6" fill="#f8f4ec"/>
<circle cx="900.8" cy="364.3" r="1.6" fill="#f8f4ec"/>
<circle cx="909.2" cy="360.3" r="1.6" fill="#f8f4ec"/>
<circle cx="918.7" cy="368.8" r="1.6" fill="#f8f4ec"/>
<circle cx="781.4" cy="406.5" r="15" fill="#d6cdd2"/>
<circle cx="789.1" cy="409.8" r="1.7" fill="#e8e2e8"/>
<circle cx="769.4" cy="405.6" r="1.7" fill="#e8e2e8"/>
<circle cx="780.9" cy="398.1" r="1.7" fill="#f3eff3"/>
<circle cx="787.8" cy="403.3" r="1.7" fill="#fbf8f6"/>
<circle cx="782.8" cy="394.9" r="1.7" fill="#f3eff3"/>
<circle cx="791.7" cy="413.1" r="1.7" fill="#f3eff3"/>
<circle cx="784.6" cy="408.9" r="1.7" fill="#e8e2e8"/>
<circle cx="778.5" cy="405.3" r="1.7" fill="#e8e2e8"/>
<circle cx="779.2" cy="397.5" r="1.7" fill="#f3eff3"/>
<circle cx="770.5" cy="402.9" r="1.7" fill="#e8e2e8"/>
<circle cx="793.4" cy="406.4" r="1.7" fill="#e8e2e8"/>
<circle cx="778.9" cy="411.7" r="1.7" fill="#f3eff3"/>
<circle cx="785.2" cy="415.5" r="1.7" fill="#fbf8f6"/>
<circle cx="788.4" cy="410.8" r="1.7" fill="#fbf8f6"/>
<circle cx="772.5" cy="403.2" r="1.7" fill="#ddd5dc"/>
<circle cx="778.3" cy="399.8" r="1.7" fill="#e8e2e8"/>
<circle cx="789.4" cy="397.7" r="1.7" fill="#fbf8f6"/>
<circle cx="779.8" cy="411.0" r="1.7" fill="#e8e2e8"/>
<circle cx="773.5" cy="404.6" r="1.7" fill="#ddd5dc"/>
<circle cx="775.2" cy="397.2" r="1.7" fill="#e8e2e8"/>
<circle cx="773.5" cy="415.4" r="1.7" fill="#e8e2e8"/>
<circle cx="770.6" cy="409.5" r="1.7" fill="#f3eff3"/>
<circle cx="781.2" cy="405.3" r="1.7" fill="#f3eff3"/>
<circle cx="773.0" cy="411.9" r="1.7" fill="#fbf8f6"/>
<circle cx="787.5" cy="407.9" r="1.7" fill="#ddd5dc"/>
<circle cx="778.5" cy="417.3" r="1.7" fill="#ddd5dc"/>
<circle cx="772.0" cy="412.8" r="1.7" fill="#e8e2e8"/>
<circle cx="783.7" cy="404.3" r="1.7" fill="#ddd5dc"/>
<circle cx="784.3" cy="402.8" r="1.7" fill="#e8e2e8"/>
<circle cx="783.7" cy="403.8" r="1.7" fill="#ddd5dc"/>
<circle cx="786.8" cy="418.1" r="1.7" fill="#e8e2e8"/>
<circle cx="770.5" cy="406.6" r="1.7" fill="#fbf8f6"/>
<circle cx="784.5" cy="397.3" r="1.7" fill="#e8e2e8"/>
<circle cx="789.2" cy="416.6" r="1.7" fill="#e8e2e8"/>
<circle cx="772.4" cy="405.6" r="1.7" fill="#e8e2e8"/>
<circle cx="784.2" cy="393.8" r="1.7" fill="#ddd5dc"/>
<circle cx="783.4" cy="418.5" r="1.7" fill="#ddd5dc"/>
<circle cx="779.3" cy="401.7" r="1.7" fill="#f3eff3"/>
<circle cx="785.7" cy="404.3" r="1.7" fill="#e8e2e8"/>
<circle cx="785.1" cy="400.3" r="1.7" fill="#e8e2e8"/>
<circle cx="789.8" cy="398.1" r="1.7" fill="#e8e2e8"/>
<circle cx="778.9" cy="412.8" r="1.7" fill="#e8e2e8"/>
<circle cx="788.3" cy="416.2" r="1.7" fill="#e8e2e8"/>
<circle cx="779.5" cy="408.0" r="1.7" fill="#ddd5dc"/>
<circle cx="785.4" cy="412.5" r="1.7" fill="#f3eff3"/>
<circle cx="783.0" cy="411.4" r="1.7" fill="#e8e2e8"/>
<circle cx="771.5" cy="411.2" r="1.7" fill="#f3eff3"/>
<circle cx="789.1" cy="408.4" r="1.7" fill="#e8e2e8"/>
<circle cx="794.3" cy="406.2" r="1.7" fill="#f3eff3"/>
<circle cx="779.4" cy="414.1" r="1.7" fill="#ddd5dc"/>
<circle cx="791.2" cy="398.4" r="1.7" fill="#e8e2e8"/>
<circle cx="769.1" cy="407.7" r="1.7" fill="#f3eff3"/>
<circle cx="784.1" cy="415.2" r="1.7" fill="#e8e2e8"/>
<circle cx="775.0" cy="403.0" r="1.7" fill="#f3eff3"/>
<circle cx="789.0" cy="404.9" r="1.7" fill="#e8e2e8"/>
<circle cx="779.8" cy="404.0" r="1.7" fill="#fbf8f6"/>
<circle cx="776.0" cy="414.0" r="1.7" fill="#fbf8f6"/>
<circle cx="781.1" cy="400.9" r="1.7" fill="#fbf8f6"/>
<circle cx="785.5" cy="396.0" r="1.7" fill="#ddd5dc"/>
<circle cx="789.5" cy="412.1" r="1.7" fill="#e8e2e8"/>
<circle cx="773.9" cy="401.4" r="1.7" fill="#f3eff3"/>
<circle cx="791.2" cy="409.0" r="1.7" fill="#ddd5dc"/>
<circle cx="778.5" cy="402.6" r="1.7" fill="#fbf8f6"/>
<circle cx="791.5" cy="411.7" r="1.7" fill="#e8e2e8"/>
<circle cx="774.5" cy="414.9" r="1.7" fill="#f3eff3"/>
<circle cx="775.4" cy="417.1" r="1.7" fill="#ddd5dc"/>
<circle cx="779.2" cy="412.9" r="1.7" fill="#f3eff3"/>
<circle cx="784.7" cy="403.4" r="1.7" fill="#ddd5dc"/>
<circle cx="780.1" cy="416.2" r="1.7" fill="#fbf8f6"/>
<circle cx="776.1" cy="407.6" r="1.7" fill="#f3eff3"/>
<circle cx="773.4" cy="406.2" r="1.7" fill="#e8e2e8"/>
<circle cx="779.3" cy="416.2" r="1.7" fill="#e8e2e8"/>
<circle cx="790.9" cy="400.3" r="1.7" fill="#e8e2e8"/>
<circle cx="782.7" cy="405.5" r="1.7" fill="#f3eff3"/>
<circle cx="769.6" cy="407.4" r="1.7" fill="#e8e2e8"/>
<circle cx="779.0" cy="400.6" r="1.7" fill="#e8e2e8"/>
<circle cx="785.3" cy="412.1" r="1.7" fill="#f3eff3"/>
<circle cx="772.1" cy="411.3" r="1.7" fill="#f3eff3"/>
<circle cx="778.1" cy="418.6" r="1.7" fill="#f3eff3"/>
<circle cx="778.2" cy="401.2" r="1.7" fill="#e8e2e8"/>
<circle cx="771.7" cy="399.9" r="1.7" fill="#f3eff3"/>
<circle cx="783.0" cy="403.3" r="1.7" fill="#fbf8f6"/>
<circle cx="784.1" cy="406.2" r="1.7" fill="#e8e2e8"/>
<circle cx="784.5" cy="399.4" r="1.7" fill="#ddd5dc"/>
<circle cx="776.6" cy="403.4" r="1.7" fill="#fbf8f6"/>
<circle cx="789.3" cy="403.4" r="1.7" fill="#ddd5dc"/>
<circle cx="793.0" cy="408.9" r="1.7" fill="#e8e2e8"/>
<circle cx="780.3" cy="395.6" r="1.7" fill="#e8e2e8"/>
<circle cx="784.8" cy="395.3" r="1.7" fill="#e8e2e8"/>
<circle cx="783.4" cy="412.4" r="1.7" fill="#fbf8f6"/>
<circle cx="780.5" cy="403.2" r="1.7" fill="#f3eff3"/>
<circle cx="783.8" cy="397.6" r="1.7" fill="#ddd5dc"/>
<circle cx="773.9" cy="405.3" r="1.7" fill="#f3eff3"/>
<circle cx="781.5" cy="395.9" r="1.7" fill="#e8e2e8"/>
<circle cx="783.4" cy="404.3" r="1.7" fill="#fbf8f6"/>
<circle cx="782.3" cy="402.6" r="1.7" fill="#fbf8f6"/>
<circle cx="771.1" cy="400.6" r="1.7" fill="#ddd5dc"/>
<circle cx="776.0" cy="396.3" r="1.7" fill="#e8e2e8"/>
<circle cx="780.8" cy="417.6" r="1.7" fill="#fbf8f6"/>
<circle cx="790.9" cy="400.0" r="1.7" fill="#e8e2e8"/>
<circle cx="770.3" cy="411.3" r="1.7" fill="#fbf8f6"/>
<circle cx="781.3" cy="396.3" r="1.7" fill="#f3eff3"/>
<circle cx="792.1" cy="411.4" r="1.7" fill="#fbf8f6"/>
<circle cx="781.5" cy="394.3" r="1.7" fill="#e8e2e8"/>
<circle cx="784.3" cy="415.0" r="1.7" fill="#e8e2e8"/>
<circle cx="788.6" cy="399.5" r="1.7" fill="#f3eff3"/>
<circle cx="772.2" cy="413.9" r="1.7" fill="#fbf8f6"/>
<circle cx="785.3" cy="399.0" r="1.7" fill="#f3eff3"/>
<circle cx="782.9" cy="417.3" r="1.7" fill="#fbf8f6"/>
<circle cx="774.8" cy="395.7" r="1.7" fill="#ddd5dc"/>
<circle cx="781.6" cy="405.6" r="1.7" fill="#ddd5dc"/>
<circle cx="771.1" cy="398.6" r="1.7" fill="#ddd5dc"/>
<circle cx="772.4" cy="411.6" r="1.7" fill="#ddd5dc"/>
<circle cx="787.4" cy="414.3" r="1.7" fill="#f3eff3"/>
<circle cx="774.0" cy="416.2" r="1.7" fill="#f3eff3"/>
<circle cx="780.4" cy="410.3" r="1.7" fill="#fbf8f6"/>
<circle cx="786.2" cy="418.1" r="1.7" fill="#ddd5dc"/>
<circle cx="775.1" cy="396.4" r="1.7" fill="#f3eff3"/>
<circle cx="783.6" cy="416.8" r="1.7" fill="#ddd5dc"/>
<circle cx="783.9" cy="401.4" r="1.7" fill="#fbf8f6"/>
<circle cx="828.3" cy="412.0" r="1.6" fill="#f8f4ec"/>
<circle cx="835.7" cy="413.8" r="1.6" fill="#f8f4ec"/>
<circle cx="836.3" cy="395.6" r="1.6" fill="#f8f4ec"/>
<circle cx="839.3" cy="404.5" r="1.6" fill="#f8f4ec"/>
<circle cx="826.6" cy="417.3" r="1.6" fill="#f8f4ec"/>
<circle cx="834.1" cy="396.5" r="1.6" fill="#f8f4ec"/>
<circle cx="839.2" cy="396.8" r="1.6" fill="#f8f4ec"/>
<circle cx="828.8" cy="408.7" r="1.6" fill="#f8f4ec"/>
<circle cx="835.0" cy="401.9" r="1.6" fill="#f8f4ec"/>
<circle cx="831.8" cy="416.5" r="1.6" fill="#f8f4ec"/>
<circle cx="825.4" cy="397.3" r="1.6" fill="#f8f4ec"/>
<circle cx="825.9" cy="395.4" r="1.6" fill="#f8f4ec"/>
<circle cx="830.4" cy="395.4" r="1.6" fill="#f8f4ec"/>
<circle cx="828.4" cy="401.2" r="1.6" fill="#f8f4ec"/>
<circle cx="831.7" cy="399.0" r="1.6" fill="#f8f4ec"/>
<circle cx="823.1" cy="411.4" r="1.6" fill="#f8f4ec"/>
<circle cx="827.8" cy="413.2" r="1.6" fill="#f8f4ec"/>
<circle cx="829.2" cy="414.2" r="1.6" fill="#f8f4ec"/>
<circle cx="828.8" cy="396.1" r="1.6" fill="#f8f4ec"/>
<circle cx="842.1" cy="402.1" r="1.6" fill="#f8f4ec"/>
<circle cx="880.4" cy="410.4" r="1.6" fill="#f8f4ec"/>
<circle cx="859.7" cy="407.0" r="1.6" fill="#f8f4ec"/>
<circle cx="882.3" cy="407.8" r="1.6" fill="#f8f4ec"/>
<circle cx="875.0" cy="402.7" r="1.6" fill="#f8f4ec"/>
<circle cx="864.7" cy="412.1" r="1.6" fill="#f8f4ec"/>
<circle cx="864.1" cy="406.0" r="1.6" fill="#f8f4ec"/>
<circle cx="863.2" cy="400.7" r="1.6" fill="#f8f4ec"/>
<circle cx="879.5" cy="403.5" r="1.6" fill="#f8f4ec"/>
<circle cx="882.7" cy="407.0" r="1.6" fill="#f8f4ec"/>
<circle cx="869.6" cy="413.3" r="1.6" fill="#f8f4ec"/>
<circle cx="878.9" cy="401.8" r="1.6" fill="#f8f4ec"/>
<circle cx="877.2" cy="406.4" r="1.6" fill="#f8f4ec"/>
<circle cx="901.5" cy="399.9" r="1.6" fill="#f8f4ec"/>
<circle cx="906.8" cy="401.2" r="1.6" fill="#f8f4ec"/>
<circle cx="912.6" cy="402.4" r="1.6" fill="#f8f4ec"/>
<circle cx="903.5" cy="403.8" r="1.6" fill="#f8f4ec"/>
<circle cx="922.6" cy="412.7" r="1.6" fill="#f8f4ec"/>
<circle cx="905.9" cy="399.2" r="1.6" fill="#f8f4ec"/>
<circle cx="920.4" cy="405.1" r="1.6" fill="#f8f4ec"/>
<circle cx="918.7" cy="401.8" r="1.6" fill="#f8f4ec"/>
<rect x="1087" y="33.2" width="190.0" height="200.5" fill="#c3baa6"/>
<circle cx="1112.9" cy="51.8" r="15" fill="#d6cdd2"/>
<circle cx="1117.6" cy="43.7" r="1.7" fill="#f3eff3"/>
<circle cx="1115.0" cy="44.3" r="1.7" fill="#e8e2e8"/>
<circle cx="1116.5" cy="63.2" r="1.7" fill="#f3eff3"/>
<circle cx="1118.9" cy="61.5" r="1.7" fill="#e8e2e8"/>
<circle cx="1107.6" cy="40.3" r="1.7" fill="#fbf8f6"/>
<circle cx="1124.4" cy="49.7" r="1.7" fill="#fbf8f6"/>
<circle cx="1118.5" cy="50.4" r="1.7" fill="#fbf8f6"/>
<circle cx="1120.0" cy="46.0" r="1.7" fill="#fbf8f6"/>
<circle cx="1120.5" cy="48.1" r="1.7" fill="#fbf8f6"/>
<circle cx="1108.0" cy="57.5" r="1.7" fill="#ddd5dc"/>
<circle cx="1112.3" cy="57.8" r="1.7" fill="#ddd5dc"/>
<circle cx="1104.4" cy="51.7" r="1.7" fill="#e8e2e8"/>
<circle cx="1114.2" cy="44.5" r="1.7" fill="#e8e2e8"/>
<circle cx="1111.1" cy="61.4" r="1.7" fill="#ddd5dc"/>
<circle cx="1113.0" cy="44.8" r="1.7" fill="#fbf8f6"/>
<circle cx="1111.2" cy="43.6" r="1.7" fill="#fbf8f6"/>
<circle cx="1115.7" cy="48.1" r="1.7" fill="#ddd5dc"/>
<circle cx="1113.3" cy="49.1" r="1.7" fill="#fbf8f6"/>
<circle cx="1105.1" cy="62.1" r="1.7" fill="#fbf8f6"/>
<circle cx="1125.3" cy="50.3" r="1.7" fill="#f3eff3"/>
<circle cx="1113.2" cy="40.9" r="1.7" fill="#ddd5dc"/>
<circle cx="1118.6" cy="42.1" r="1.7" fill="#fbf8f6"/>
<circle cx="1115.7" cy="56.6" r="1.7" fill="#f3eff3"/>
<circle cx="1114.2" cy="43.5" r="1.7" fill="#fbf8f6"/>
<circle cx="1105.3" cy="57.3" r="1.7" fill="#fbf8f6"/>
<circle cx="1109.5" cy="56.4" r="1.7" fill="#e8e2e8"/>
<circle cx="1103.5" cy="49.9" r="1.7" fill="#fbf8f6"/>
<circle cx="1118.1" cy="57.6" r="1.7" fill="#f3eff3"/>
<circle cx="1116.0" cy="50.2" r="1.7" fill="#f3eff3"/>
<circle cx="1119.4" cy="43.1" r="1.7" fill="#ddd5dc"/>
<circle cx="1104.6" cy="57.5" r="1.7" fill="#fbf8f6"/>
<circle cx="1115.3" cy="41.1" r="1.7" fill="#e8e2e8"/>
<circle cx="1119.2" cy="60.7" r="1.7" fill="#e8e2e8"/>
<circle cx="1100.3" cy="51.8" r="1.7" fill="#f3eff3"/>
<circle cx="1112.4" cy="39.8" r="1.7" fill="#ddd5dc"/>
<circle cx="1116.4" cy="48.5" r="1.7" fill="#ddd5dc"/>
<circle cx="1107.6" cy="47.3" r="1.7" fill="#f3eff3"/>
<circle cx="1114.3" cy="41.6" r="1.7" fill="#fbf8f6"/>
<circle cx="1103.0" cy="43.9" r="1.7" fill="#fbf8f6"/>
<circle cx="1122.0" cy="57.9" r="1.7" fill="#f3eff3"/>
<circle cx="1105.8" cy="60.4" r="1.7" fill="#f3eff3"/>
<circle cx="1122.3" cy="60.8" r="1.7" fill="#e8e2e8"/>
<circle cx="1123.4" cy="52.0" r="1.7" fill="#e8e2e8"/>
<circle cx="1104.0" cy="54.9" r="1.7" fill="#ddd5dc"/>
<circle cx="1104.2" cy="46.3" r="1.7" fill="#f3eff3"/>
<circle cx="1124.6" cy="54.8" r="1.7" fill="#f3eff3"/>
<circle cx="1105.7" cy="52.5" r="1.7" fill="#fbf8f6"/>
<circle cx="1122.4" cy="49.7" r="1.7" fill="#e8e2e8"/>
<circle cx="1115.3" cy="63.4" r="1.7" fill="#e8e2e8"/>
<circle cx="1110.3" cy="64.7" r="1.7" fill="#f3eff3"/>
<circle cx="1113.8" cy="57.3" r="1.7" fill="#fbf8f6"/>
<circle cx="1109.9" cy="53.3" r="1.7" fill="#fbf8f6"/>
<circle cx="1111.3" cy="41.8" r="1.7" fill="#ddd5dc"/>
<circle cx="1102.9" cy="60.1" r="1.7" fill="#ddd5dc"/>
<circle cx="1114.7" cy="64.1" r="1.7" fill="#f3eff3"/>
<circle cx="1117.3" cy="39.5" r="1.7" fill="#fbf8f6"/>
<circle cx="1109.2" cy="46.2" r="1.7" fill="#ddd5dc"/>
<circle cx="1105.1" cy="47.8" r="1.7" fill="#ddd5dc"/>
<circle cx="1116.7" cy="61.5" r="1.7" fill="#f3eff3"/>
<circle cx="1107.1" cy="55.9" r="1.7" fill="#e8e2e8"/>
<circle cx="1124.1" cy="57.6" r="1.7" fill="#f3eff3"/>
<circle cx="1107.4" cy="54.0" r="1.7" fill="#e8e2e8"/>
<circle cx="1113.8" cy="45.9" r="1.7" fill="#fbf8f6"/>
<circle cx="1112.7" cy="38.8" r="1.7" fill="#f3eff3"/>
<circle cx="1118.5" cy="54.1" r="1.7" fill="#f3eff3"/>
<circle cx="1118.3" cy="42.6" r="1.7" fill="#fbf8f6"/>
<circle cx="1103.0" cy="48.1" r="1.7" fill="#fbf8f6"/>
<circle cx="1120.2" cy="51.4" r="1.7" fill="#f3eff3"/>
<circle cx="1112.2" cy="40.8" r="1.7" fill="#ddd5dc"/>
<circle cx="1122.5" cy="44.7" r="1.7" fill="#ddd5dc"/>
<circle cx="1114.0" cy="44.1" r="1.7" fill="#e8e2e8"/>
<circle cx="1104.7" cy="61.2" r="1.7" fill="#ddd5dc"/>
<circle cx="1125.6" cy="51.0" r="1.7" fill="#fbf8f6"/>
<circle cx="1101.0" cy="53.6" r="1.7" fill="#e8e2e8"/>
<circle cx="1118.6" cy="44.0" r="1.7" fill="#fbf8f6"/>
<circle cx="1106.8" cy="51.5" r="1.7" fill="#fbf8f6"/>
<circle cx="1105.8" cy="41.1" r="1.7" fill="#e8e2e8"/>
<circle cx="1109.7" cy="39.3" r="1.7" fill="#ddd5dc"/>
<circle cx="1114.6" cy="40.6" r="1.7" fill="#e8e2e8"/>
<circle cx="1117.5" cy="40.5" r="1.7" fill="#e8e2e8"/>
<circle cx="1115.8" cy="55.2" r="1.7" fill="#ddd5dc"/>
<circle cx="1124.7" cy="53.9" r="1.7" fill="#f3eff3"/>
<circle cx="1110.2" cy="52.4" r="1.7" fill="#f3eff3"/>
<circle cx="1117.8" cy="45.8" r="1.7" fill="#ddd5dc"/>
<circle cx="1102.3" cy="52.8" r="1.7" fill="#e8e2e8"/>
<circle cx="1118.9" cy="52.1" r="1.7" fill="#fbf8f6"/>
<circle cx="1109.7" cy="54.7" r="1.7" fill="#e8e2e8"/>
<circle cx="1121.2" cy="48.8" r="1.7" fill="#ddd5dc"/>
<circle cx="1113.6" cy="41.8" r="1.7" fill="#f3eff3"/>
<circle cx="1116.4" cy="47.6" r="1.7" fill="#e8e2e8"/>
<circle cx="1111.0" cy="42.9" r="1.7" fill="#ddd5dc"/>
<circle cx="1109.3" cy="49.0" r="1.7" fill="#ddd5dc"/>
<circle cx="1110.2" cy="49.9" r="1.7" fill="#e8e2e8"/>
<circle cx="1116.8" cy="39.9" r="1.7" fill="#f3eff3"/>
<circle cx="1103.7" cy="59.2" r="1.7" fill="#e8e2e8"/>
<circle cx="1105.3" cy="43.3" r="1.7" fill="#f3eff3"/>
<circle cx="1113.5" cy="64.5" r="1.7" fill="#e8e2e8"/>
<circle cx="1113.7" cy="49.3" r="1.7" fill="#f3eff3"/>
<circle cx="1102.4" cy="59.3" r="1.7" fill="#e8e2e8"/>
<circle cx="1113.3" cy="49.0" r="1.7" fill="#ddd5dc"/>
<circle cx="1112.5" cy="57.0" r="1.7" fill="#f3eff3"/>
<circle cx="1100.0" cy="53.5" r="1.7" fill="#f3eff3"/>
<circle cx="1117.5" cy="62.8" r="1.7" fill="#e8e2e8"/>
<circle cx="1107.3" cy="46.8" r="1.7" fill="#ddd5dc"/>
<circle cx="1113.4" cy="51.5" r="1.7" fill="#f3eff3"/>
<circle cx="1101.6" cy="47.7" r="1.7" fill="#f3eff3"/>
<circle cx="1109.9" cy="41.4" r="1.7" fill="#fbf8f6"/>
<circle cx="1102.4" cy="54.7" r="1.7" fill="#e8e2e8"/>
<circle cx="1124.9" cy="53.6" r="1.7" fill="#ddd5dc"/>
<circle cx="1115.8" cy="62.6" r="1.7" fill="#e8e2e8"/>
<circle cx="1106.7" cy="40.2" r="1.7" fill="#f3eff3"/>
<circle cx="1105.3" cy="49.5" r="1.7" fill="#f3eff3"/>
<circle cx="1118.4" cy="55.2" r="1.7" fill="#f3eff3"/>
<circle cx="1118.8" cy="55.5" r="1.7" fill="#fbf8f6"/>
<circle cx="1113.3" cy="46.7" r="1.7" fill="#fbf8f6"/>
<circle cx="1113.0" cy="50.7" r="1.7" fill="#f3eff3"/>
<circle cx="1123.5" cy="54.8" r="1.7" fill="#e8e2e8"/>
<circle cx="1104.0" cy="50.7" r="1.7" fill="#ddd5dc"/>
<circle cx="1121.8" cy="47.2" r="1.7" fill="#e8e2e8"/>
<circle cx="1122.7" cy="46.1" r="1.7" fill="#f3eff3"/>
<circle cx="1167.7" cy="45.7" r="1.6" fill="#f8f4ec"/>
<circle cx="1156.9" cy="47.6" r="1.6" fill="#f8f4ec"/>
<circle cx="1152.9" cy="41.2" r="1.6" fill="#f8f4ec"/>
<circle cx="1147.0" cy="56.8" r="1.6" fill="#f8f4ec"/>
<circle cx="1163.0" cy="62.8" r="1.6" fill="#f8f4ec"/>
<circle cx="1147.6" cy="55.7" r="1.6" fill="#f8f4ec"/>
<circle cx="1157.7" cy="59.8" r="1.6" fill="#f8f4ec"/>
<circle cx="1153.0" cy="58.5" r="1.6" fill="#f8f4ec"/>
<circle cx="1165.4" cy="56.9" r="1.6" fill="#f8f4ec"/>
<circle cx="1168.3" cy="50.5" r="1.6" fill="#f8f4ec"/>
<circle cx="1168.0" cy="47.2" r="1.6" fill="#f8f4ec"/>
<circle cx="1164.3" cy="41.1" r="1.6" fill="#f8f4ec"/>
<circle cx="1157.9" cy="44.1" r="1.6" fill="#f8f4ec"/>
<circle cx="1157.8" cy="60.7" r="1.6" fill="#f8f4ec"/>
<circle cx="1165.0" cy="52.8" r="1.6" fill="#f8f4ec"/>
<circle cx="1209.4" cy="43.9" r="1.6" fill="#f8f4ec"/>
<circle cx="1194.9" cy="61.7" r="1.6" fill="#f8f4ec"/>
<circle cx="1202.2" cy="40.0" r="1.6" fill="#f8f4ec"/>
<circle cx="1203.0" cy="42.4" r="1.6" fill="#f8f4ec"/>
<circle cx="1209.5" cy="58.9" r="1.6" fill="#f8f4ec"/>
<circle cx="1196.2" cy="61.4" r="1.6" fill="#f8f4ec"/>
<circle cx="1193.7" cy="59.1" r="1.6" fill="#f8f4ec"/>
<circle cx="1206.7" cy="50.4" r="1.6" fill="#f8f4ec"/>
<circle cx="1237.6" cy="49.8" r="1.6" fill="#f8f4ec"/>
<circle cx="1236.2" cy="48.9" r="1.6" fill="#f8f4ec"/>
<circle cx="1237.9" cy="58.4" r="1.6" fill="#f8f4ec"/>
<circle cx="1243.4" cy="40.3" r="1.6" fill="#f8f4ec"/>
<circle cx="1254.0" cy="55.6" r="1.6" fill="#f8f4ec"/>
<circle cx="1111.7" cy="91.6" r="15" fill="#d6cdd2"/>
<circle cx="1108.8" cy="103.9" r="1.7" fill="#f3eff3"/>
<circle cx="1109.8" cy="83.1" r="1.7" fill="#f3eff3"/>
<circle cx="1117.3" cy="91.2" r="1.7" fill="#ddd5dc"/>
<circle cx="1107.6" cy="88.0" r="1.7" fill="#fbf8f6"/>
<circle cx="1111.8" cy="85.0" r="1.7" fill="#fbf8f6"/>
<circle cx="1115.6" cy="90.6" r="1.7" fill="#e8e2e8"/>
<circle cx="1105.1" cy="83.5" r="1.7" fill="#e8e2e8"/>
<circle cx="1106.0" cy="83.1" r="1.7" fill="#ddd5dc"/>
<circle cx="1110.6" cy="94.8" r="1.7" fill="#f3eff3"/>
<circle cx="1108.2" cy="90.8" r="1.7" fill="#f3eff3"/>
<circle cx="1114.5" cy="95.1" r="1.7" fill="#ddd5dc"/>
<circle cx="1106.0" cy="84.0" r="1.7" fill="#fbf8f6"/>
<circle cx="1119.5" cy="87.3" r="1.7" fill="#f3eff3"/>
<circle cx="1111.4" cy="100.0" r="1.7" fill="#e8e2e8"/>
<circle cx="1101.0" cy="95.4" r="1.7" fill="#f3eff3"/>
<circle cx="1117.5" cy="84.7" r="1.7" fill="#fbf8f6"/>
<circle cx="1112.9" cy="89.6" r="1.7" fill="#e8e2e8"/>
<circle cx="1116.5" cy="95.4" r="1.7" fill="#fbf8f6"/>
<circle cx="1108.4" cy="85.4" r="1.7" fill="#f3eff3"/>
<circle cx="1113.7" cy="88.6" r="1.7" fill="#f3eff3"/>
<circle cx="1117.6" cy="100.6" r="1.7" fill="#fbf8f6"/>
<circle cx="1108.7" cy="86.8" r="1.7" fill="#e8e2e8"/>
<circle cx="1099.6" cy="93.0" r="1.7" fill="#f3eff3"/>
<circle cx="1103.7" cy="98.8" r="1.7" fill="#e8e2e8"/>
<circle cx="1118.4" cy="94.3" r="1.7" fill="#fbf8f6"/>
<circle cx="1114.6" cy="87.8" r="1.7" fill="#fbf8f6"/>
<circle cx="1104.3" cy="100.1" r="1.7" fill="#e8e2e8"/>
<circle cx="1103.9" cy="100.0" r="1.7" fill="#fbf8f6"/>
<circle cx="1105.3" cy="98.8" r="1.7" fill="#f3eff3"/>
<circle cx="1120.5" cy="82.5" r="1.7" fill="#e8e2e8"/>
<circle cx="1109.9" cy="99.6" r="1.7" fill="#f3eff3"/>
<circle cx="1112.7" cy="97.4" r="1.7" fill="#e8e2e8"/>
<circle cx="1112.7" cy="79.4" r="1.7" fill="#e8e2e8"/>
<circle cx="1105.9" cy="84.5" r="1.7" fill="#f3eff3"/>
<circle cx="1122.0" cy="95.0" r="1.7" fill="#fbf8f6"/>
<circle cx="1111.9" cy="93.9" r="1.7" fill="#ddd5dc"/>
<circle cx="1107.3" cy="91.9" r="1.7" fill="#ddd5dc"/>
<circle cx="1115.5" cy="94.1" r="1.7" fill="#ddd5dc"/>
<circle cx="1122.9" cy="85.7" r="1.7" fill="#ddd5dc"/>
<circle cx="1107.4" cy="93.3" r="1.7" fill="#f3eff3"/>
<circle cx="1110.8" cy="100.4" r="1.7" fill="#e8e2e8"/>
<circle cx="1120.8" cy="87.8" r="1.7" fill="#f3eff3"/>
<circle cx="1102.5" cy="91.1" r="1.7" fill="#e8e2e8"/>
<circle cx="1100.2" cy="86.8" r="1.7" fill="#ddd5dc"/>
<circle cx="1121.7" cy="99.8" r="1.7" fill="#f3eff3"/>
<circle cx="1112.1" cy="97.1" r="1.7" fill="#fbf8f6"/>
<circle cx="1112.6" cy="95.3" r="1.7" fill="#fbf8f6"/>
<circle cx="1099.0" cy="94.1" r="1.7" fill="#e8e2e8"/>
<circle cx="1119.7" cy="95.6" r="1.7" fill="#fbf8f6"/>
<circle cx="1117.5" cy="95.7" r="1.7" fill="#fbf8f6"/>
<circle cx="1121.8" cy="96.2" r="1.7" fill="#ddd5dc"/>
<circle cx="1106.1" cy="92.3" r="1.7" fill="#f3eff3"/>
<circle cx="1103.4" cy="83.0" r="1.7" fill="#f3eff3"/>
<circle cx="1104.9" cy="83.0" r="1.7" fill="#f3eff3"/>
<circle cx="1105.4" cy="90.1" r="1.7" fill="#ddd5dc"/>
<circle cx="1109.2" cy="87.3" r="1.7" fill="#fbf8f6"/>
<circle cx="1119.0" cy="101.0" r="1.7" fill="#fbf8f6"/>
<circle cx="1111.0" cy="79.3" r="1.7" fill="#fbf8f6"/>
<circle cx="1105.8" cy="82.7" r="1.7" fill="#e8e2e8"/>
<circle cx="1120.7" cy="92.5" r="1.7" fill="#f3eff3"/>
<circle cx="1100.1" cy="95.4" r="1.7" fill="#fbf8f6"/>
<circle cx="1107.1" cy="93.5" r="1.7" fill="#e8e2e8"/>
<circle cx="1109.2" cy="98.6" r="1.7" fill="#e8e2e8"/>
<circle cx="1119.5" cy="88.5" r="1.7" fill="#e8e2e8"/>
<circle cx="1124.6" cy="92.6" r="1.7" fill="#e8e2e8"/>
<circle cx="1119.1" cy="94.9" r="1.7" fill="#ddd5dc"/>
<circle cx="1108.8" cy="86.2" r="1.7" fill="#e8e2e8"/>
<circle cx="1114.9" cy="100.1" r="1.7" fill="#fbf8f6"/>
<circle cx="1120.7" cy="91.6" r="1.7" fill="#e8e2e8"/>
<circle cx="1123.1" cy="89.8" r="1.7" fill="#f3eff3"/>
<circle cx="1105.2" cy="95.9" r="1.7" fill="#f3eff3"/>
<circle cx="1101.1" cy="86.7" r="1.7" fill="#e8e2e8"/>
<circle cx="1111.8" cy="91.5" r="1.7" fill="#fbf8f6"/>
<circle cx="1104.5" cy="85.9" r="1.7" fill="#ddd5dc"/>
<circle cx="1115.9" cy="96.6" r="1.7" fill="#f3eff3"/>
<circle cx="1110.4" cy="100.1" r="1.7" fill="#e8e2e8"/>
<circle cx="1116.6" cy="91.6" r="1.7" fill="#fbf8f6"/>
<circle cx="1114.1" cy="89.5" r="1.7" fill="#e8e2e8"/>
<circle cx="1108.4" cy="93.4" r="1.7" fill="#ddd5dc"/>
<circle cx="1113.4" cy="85.1" r="1.7" fill="#e8e2e8"/>
<circle cx="1120.0" cy="81.6" r="1.7" fill="#fbf8f6"/>
<circle cx="1122.7" cy="89.3" r="1.7" fill="#f3eff3"/>
<circle cx="1123.8" cy="95.7" r="1.7" fill="#f3eff3"/>
<circle cx="1124.1" cy="89.0" r="1.7" fill="#f3eff3"/>
<circle cx="1108.5" cy="104.3" r="1.7" fill="#e8e2e8"/>
<circle cx="1103.2" cy="96.3" r="1.7" fill="#fbf8f6"/>
<circle cx="1115.5" cy="81.5" r="1.7" fill="#f3eff3"/>
<circle cx="1102.8" cy="94.7" r="1.7" fill="#fbf8f6"/>
<circle cx="1122.2" cy="83.8" r="1.7" fill="#e8e2e8"/>
<circle cx="1102.3" cy="95.6" r="1.7" fill="#fbf8f6"/>
<circle cx="1106.6" cy="89.2" r="1.7" fill="#fbf8f6"/>
<circle cx="1106.4" cy="84.9" r="1.7" fill="#fbf8f6"/>
<circle cx="1110.1" cy="88.4" r="1.7" fill="#f3eff3"/>
<circle cx="1105.2" cy="85.2" r="1.7" fill="#fbf8f6"/>
<circle cx="1112.1" cy="90.4" r="1.7" fill="#ddd5dc"/>
<circle cx="1105.5" cy="101.4" r="1.7" fill="#e8e2e8"/>
<circle cx="1104.3" cy="93.2" r="1.7" fill="#e8e2e8"/>
<circle cx="1115.6" cy="91.1" r="1.7" fill="#e8e2e8"/>
<circle cx="1103.6" cy="89.4" r="1.7" fill="#e8e2e8"/>
<circle cx="1116.9" cy="87.8" r="1.7" fill="#fbf8f6"/>
<circle cx="1104.9" cy="98.0" r="1.7" fill="#fbf8f6"/>
<circle cx="1116.1" cy="96.1" r="1.7" fill="#e8e2e8"/>
<circle cx="1114.9" cy="88.5" r="1.7" fill="#e8e2e8"/>
<circle cx="1119.5" cy="84.7" r="1.7" fill="#f3eff3"/>
<circle cx="1102.9" cy="93.3" r="1.7" fill="#fbf8f6"/>
<circle cx="1104.7" cy="87.9" r="1.7" fill="#ddd5dc"/>
<circle cx="1107.0" cy="102.6" r="1.7" fill="#f3eff3"/>
<circle cx="1106.5" cy="81.1" r="1.7" fill="#ddd5dc"/>
<circle cx="1102.8" cy="101.1" r="1.7" fill="#fbf8f6"/>
<circle cx="1117.2" cy="82.4" r="1.7" fill="#e8e2e8"/>
<circle cx="1108.0" cy="79.0" r="1.7" fill="#e8e2e8"/>
<circle cx="1103.3" cy="100.6" r="1.7" fill="#fbf8f6"/>
<circle cx="1113.5" cy="94.5" r="1.7" fill="#ddd5dc"/>
<circle cx="1119.0" cy="81.5" r="1.7" fill="#f3eff3"/>
<circle cx="1112.2" cy="93.1" r="1.7" fill="#ddd5dc"/>
<circle cx="1110.6" cy="84.7" r="1.7" fill="#f3eff3"/>
<circle cx="1115.3" cy="80.0" r="1.7" fill="#f3eff3"/>
<circle cx="1111.4" cy="90.8" r="1.7" fill="#e8e2e8"/>
<circle cx="1117.5" cy="102.8" r="1.7" fill="#e8e2e8"/>
<circle cx="1116.2" cy="92.1" r="1.7" fill="#f3eff3"/>
<circle cx="1164.0" cy="90.4" r="1.6" fill="#f8f4ec"/>
<circle cx="1152.8" cy="100.0" r="1.6" fill="#f8f4ec"/>
<circle cx="1154.0" cy="99.7" r="1.6" fill="#f8f4ec"/>
<circle cx="1150.3" cy="92.6" r="1.6" fill="#f8f4ec"/>
<circle cx="1162.9" cy="93.4" r="1.6" fill="#f8f4ec"/>
<circle cx="1160.7" cy="96.3" r="1.6" fill="#f8f4ec"/>
<circle cx="1150.1" cy="84.0" r="1.6" fill="#f8f4ec"/>
<circle cx="1156.9" cy="103.0" r="1.6" fill="#f8f4ec"/>
<circle cx="1156.7" cy="83.3" r="1.6" fill="#f8f4ec"/>
<circle cx="1151.0" cy="92.0" r="1.6" fill="#f8f4ec"/>
<circle cx="1166.8" cy="87.3" r="1.6" fill="#f8f4ec"/>
<circle cx="1163.9" cy="93.6" r="1.6" fill="#f8f4ec"/>
<circle cx="1197.2" cy="83.5" r="1.6" fill="#f8f4ec"/>
<circle cx="1198.8" cy="84.5" r="1.6" fill="#f8f4ec"/>
<circle cx="1203.6" cy="80.6" r="1.6" fill="#f8f4ec"/>
<circle cx="1208.7" cy="97.3" r="1.6" fill="#f8f4ec"/>
<circle cx="1204.2" cy="101.8" r="1.6" fill="#f8f4ec"/>
<circle cx="1251.8" cy="80.9" r="1.6" fill="#f8f4ec"/>
<circle cx="1248.7" cy="97.1" r="1.6" fill="#f8f4ec"/>
<circle cx="1242.8" cy="83.0" r="1.6" fill="#f8f4ec"/>
<circle cx="1252.5" cy="96.9" r="1.6" fill="#f8f4ec"/>
<circle cx="1111.3" cy="130.0" r="15" fill="#d6cdd2"/>
<circle cx="1107.5" cy="127.8" r="1.7" fill="#ddd5dc"/>
<circle cx="1111.7" cy="136.8" r="1.7" fill="#ddd5dc"/>
<circle cx="1103.7" cy="129.0" r="1.7" fill="#f3eff3"/>
<circle cx="1122.4" cy="132.2" r="1.7" fill="#e8e2e8"/>
<circle cx="1105.2" cy="129.5" r="1.7" fill="#ddd5dc"/>
<circle cx="1101.8" cy="121.7" r="1.7" fill="#e8e2e8"/>
<circle cx="1124.5" cy="128.9" r="1.7" fill="#fbf8f6"/>
<circle cx="1113.5" cy="132.4" r="1.7" fill="#ddd5dc"/>
<circle cx="1112.9" cy="118.0" r="1.7" fill="#fbf8f6"/>
<circle cx="1103.6" cy="135.8" r="1.7" fill="#fbf8f6"/>
<circle cx="1121.1" cy="133.6" r="1.7" fill="#f3eff3"/>
<circle cx="1109.3" cy="137.3" r="1.7" fill="#e8e2e8"/>
<circle cx="1118.8" cy="140.4" r="1.7" fill="#e8e2e8"/>
<circle cx="1105.6" cy="131.4" r="1.7" fill="#f3eff3"/>
<circle cx="1113.8" cy="119.0" r="1.7" fill="#fbf8f6"/>
<circle cx="1107.7" cy="121.6" r="1.7" fill="#fbf8f6"/>
<circle cx="1112.0" cy="125.7" r="1.7" fill="#f3eff3"/>
<circle cx="1105.0" cy="123.8" r="1.7" fill="#f3eff3"/>
<circle cx="1111.1" cy="140.9" r="1.7" fill="#e8e2e8"/>
<circle cx="1099.6" cy="133.8" r="1.7" fill="#ddd5dc"/>
<circle cx="1112.3" cy="122.0" r="1.7" fill="#ddd5dc"/>
<circle cx="1113.4" cy="118.9" r="1.7" fill="#fbf8f6"/>
<circle cx="1108.1" cy="127.1" r="1.7" fill="#ddd5dc"/>
<circle cx="1122.2" cy="136.7" r="1.7" fill="#e8e2e8"/>
<circle cx="1124.1" cy="133.1" r="1.7" fill="#e8e2e8"/>
<circle cx="1121.4" cy="134.3" r="1.7" fill="#f3eff3"/>
<circle cx="1110.2" cy="133.3" r="1.7" fill="#fbf8f6"/>
<circle cx="1107.7" cy="131.5" r="1.7" fill="#ddd5dc"/>
<circle cx="1107.7" cy="119.4" r="1.7" fill="#f3eff3"/>
<circle cx="1123.7" cy="132.5" r="1.7" fill="#e8e2e8"/>
<circle cx="1100.4" cy="127.9" r="1.7" fill="#fbf8f6"/>
<circle cx="1116.3" cy="138.3" r="1.7" fill="#ddd5dc"/>
<circle cx="1114.0" cy="134.8" r="1.7" fill="#ddd5dc"/>
<circle cx="1109.2" cy="122.3" r="1.7" fill="#e8e2e8"/>
<circle cx="1101.8" cy="132.6" r="1.7" fill="#f3eff3"/>
<circle cx="1110.6" cy="141.4" r="1.7" fill="#ddd5dc"/>
<circle cx="1098.5" cy="132.2" r="1.7" fill="#fbf8f6"/>
<circle cx="1111.8" cy="121.7" r="1.7" fill="#e8e2e8"/>
<circle cx="1110.8" cy="125.2" r="1.7" fill="#e8e2e8"/>
<circle cx="1119.3" cy="125.3" r="1.7" fill="#fbf8f6"/>
<circle cx="1112.0" cy="127.9" r="1.7" fill="#ddd5dc"/>
<circle cx="1115.6" cy="119.8" r="1.7" fill="#fbf8f6"/>
<circle cx="1106.9" cy="140.5" r="1.7" fill="#fbf8f6"/>
<circle cx="1106.9" cy="120.2" r="1.7" fill="#f3eff3"/>
<circle cx="1116.7" cy="118.9" r="1.7" fill="#fbf8f6"/>
<circle cx="1122.9" cy="130.8" r="1.7" fill="#f3eff3"/>
<circle cx="1121.8" cy="122.3" r="1.7" fill="#fbf8f6"/>
<circle cx="1112.3" cy="137.4" r="1.7" fill="#fbf8f6"/>
<circle cx="1118.2" cy="127.7" r="1.7" fill="#fbf8f6"/>
<circle cx="1105.7" cy="134.4" r="1.7" fill="#e8e2e8"/>
<circle cx="1122.2" cy="130.9" r="1.7" fill="#e8e2e8"/>
<circle cx="1115.7" cy="120.3" r="1.7" fill="#f3eff3"/>
<circle cx="1122.6" cy="129.3" r="1.7" fill="#e8e2e8"/>
<circle cx="1113.9" cy="123.8" r="1.7" fill="#fbf8f6"/>
<circle cx="1102.4" cy="138.3" r="1.7" fill="#e8e2e8"/>
<circle cx="1112.0" cy="141.2" r="1.7" fill="#f3eff3"/>
<circle cx="1104.4" cy="140.1" r="1.7" fill="#fbf8f6"/>
<circle cx="1114.9" cy="126.6" r="1.7" fill="#f3eff3"/>
<circle cx="1114.6" cy="118.2" r="1.7" fill="#ddd5dc"/>
<circle cx="1119.9" cy="127.0" r="1.7" fill="#ddd5dc"/>
<circle cx="1113.8" cy="117.8" r="1.7" fill="#e8e2e8"/>
<circle cx="1110.3" cy="122.1" r="1.7" fill="#f3eff3"/>
<circle cx="1117.4" cy="134.5" r="1.7" fill="#f3eff3"/>
<circle cx="1113.0" cy="128.8" r="1.7" fill="#fbf8f6"/>
<circle cx="1114.4" cy="131.5" r="1.7" fill="#f3eff3"/>
<circle cx="1114.2" cy="138.6" r="1.7" fill="#ddd5dc"/>
<circle cx="1107.9" cy="138.5" r="1.7" fill="#ddd5dc"/>
<circle cx="1107.4" cy="139.8" r="1.7" fill="#ddd5dc"/>
<circle cx="1108.0" cy="137.1" r="1.7" fill="#fbf8f6"/>
<circle cx="1110.8" cy="122.1" r="1.7" fill="#f3eff3"/>
<circle cx="1100.5" cy="122.2" r="1.7" fill="#f3eff3"/>
<circle cx="1102.8" cy="130.9" r="1.7" fill="#e8e2e8"/>
<circle cx="1113.4" cy="137.7" r="1.7" fill="#fbf8f6"/>
<circle cx="1121.0" cy="125.3" r="1.7" fill="#f3eff3"/>
<circle cx="1105.7" cy="121.7" r="1.7" fill="#ddd5dc"/>
<circle cx="1103.9" cy="125.3" r="1.7" fill="#e8e2e8"/>
<circle cx="1107.7" cy="131.7" r="1.7" fill="#fbf8f6"/>
<circle cx="1116.4" cy="119.3" r="1.7" fill="#fbf8f6"/>
<circle cx="1120.8" cy="137.1" r="1.7" fill="#f3eff3"/>
<circle cx="1113.7" cy="142.3" r="1.7" fill="#ddd5dc"/>
<circle cx="1117.1" cy="138.9" r="1.7" fill="#f3eff3"/>
<circle cx="1116.7" cy="127.4" r="1.7" fill="#fbf8f6"/>
<circle cx="1120.8" cy="129.5" r="1.7" fill="#e8e2e8"/>
<circle cx="1099.8" cy="130.6" r="1.7" fill="#f3eff3"/>
<circle cx="1108.8" cy="125.6" r="1.7" fill="#ddd5dc"/>
<circle cx="1121.3" cy="130.0" r="1.7" fill="#e8e2e8"/>
<circle cx="1116.5" cy="141.6" r="1.7" fill="#f3eff3"/>
<circle cx="1116.7" cy="124.1" r="1.7" fill="#f3eff3"/>
<circle cx="1111.8" cy="132.0" r="1.7" fill="#e8e2e8"/>
<circle cx="1098.5" cy="129.1" r="1.7" fill="#e8e2e8"/>
<circle cx="1117.8" cy="138.3" r="1.7" fill="#f3eff3"/>
<circle cx="1102.1" cy="134.8" r="1.7" fill="#fbf8f6"/>
<circle cx="1106.2" cy="126.1" r="1.7" fill="#e8e2e8"/>
<circle cx="1102.2" cy="129.2" r="1.7" fill="#f3eff3"/>
<circle cx="1113.1" cy="118.2" r="1.7" fill="#e8e2e8"/>
<circle cx="1111.2" cy="123.5" r="1.7" fill="#fbf8f6"/>
<circle cx="1112.7" cy="142.0" r="1.7" fill="#e8e2e8"/>
<circle cx="1101.2" cy="122.4" r="1.7" fill="#e8e2e8"/>
<circle cx="1122.5" cy="128.3" r="1.7" fill="#f3eff3"/>
<circle cx="1111.2" cy="118.8" r="1.7" fill="#e8e2e8"/>
<circle cx="1109.6" cy="142.1" r="1.7" fill="#f3eff3"/>
<circle cx="1110.7" cy="130.0" r="1.7" fill="#f3eff3"/>
<circle cx="1119.8" cy="120.7" r="1.7" fill="#ddd5dc"/>
<circle cx="1117.0" cy="137.0" r="1.7" fill="#e8e2e8"/>
<circle cx="1119.0" cy="129.9" r="1.7" fill="#e8e2e8"/>
<circle cx="1117.6" cy="129.9" r="1.7" fill="#ddd5dc"/>
<circle cx="1105.9" cy="136.9" r="1.7" fill="#fbf8f6"/>
<circle cx="1114.6" cy="135.3" r="1.7" fill="#f3eff3"/>
<circle cx="1117.7" cy="138.0" r="1.7" fill="#f3eff3"/>
<circle cx="1105.6" cy="129.8" r="1.7" fill="#ddd5dc"/>
<circle cx="1117.5" cy="120.2" r="1.7" fill="#ddd5dc"/>
<circle cx="1104.4" cy="131.2" r="1.7" fill="#e8e2e8"/>
<circle cx="1102.0" cy="131.7" r="1.7" fill="#e8e2e8"/>
<circle cx="1112.1" cy="137.8" r="1.7" fill="#ddd5dc"/>
<circle cx="1119.6" cy="128.3" r="1.7" fill="#fbf8f6"/>
<circle cx="1110.5" cy="122.3" r="1.7" fill="#ddd5dc"/>
<circle cx="1105.8" cy="122.8" r="1.7" fill="#f3eff3"/>
<circle cx="1122.7" cy="133.0" r="1.7" fill="#ddd5dc"/>
<circle cx="1104.9" cy="138.4" r="1.7" fill="#ddd5dc"/>
<circle cx="1121.3" cy="126.9" r="1.7" fill="#e8e2e8"/>
<circle cx="1147.8" cy="126.4" r="1.6" fill="#f8f4ec"/>
<circle cx="1156.7" cy="117.8" r="1.6" fill="#f8f4ec"/>
<circle cx="1163.0" cy="136.8" r="1.6" fill="#f8f4ec"/>
<circle cx="1164.6" cy="120.8" r="1.6" fill="#f8f4ec"/>
<circle cx="1148.7" cy="124.2" r="1.6" fill="#f8f4ec"/>
<circle cx="1151.2" cy="140.3" r="1.6" fill="#f8f4ec"/>
<circle cx="1149.4" cy="127.3" r="1.6" fill="#f8f4ec"/>
<circle cx="1160.2" cy="135.4" r="1.6" fill="#f8f4ec"/>
<circle cx="1167.0" cy="123.1" r="1.6" fill="#f8f4ec"/>
<circle cx="1165.9" cy="131.4" r="1.6" fill="#f8f4ec"/>
<circle cx="1148.3" cy="131.2" r="1.6" fill="#f8f4ec"/>
<circle cx="1150.0" cy="139.0" r="1.6" fill="#f8f4ec"/>
<circle cx="1152.1" cy="137.9" r="1.6" fill="#f8f4ec"/>
<circle cx="1167.3" cy="125.5" r="1.6" fill="#f8f4ec"/>
<circle cx="1149.6" cy="131.2" r="1.6" fill="#f8f4ec"/>
<circle cx="1192.5" cy="136.7" r="1.6" fill="#f8f4ec"/>
<circle cx="1202.0" cy="122.6" r="1.6" fill="#f8f4ec"/>
<circle cx="1194.3" cy="136.3" r="1.6" fill="#f8f4ec"/>
<circle cx="1192.5" cy="139.1" r="1.6" fill="#f8f4ec"/>
<circle cx="1192.8" cy="128.1" r="1.6" fill="#f8f4ec"/>
<circle cx="1194.6" cy="140.0" r="1.6" fill="#f8f4ec"/>
<circle cx="1206.1" cy="139.1" r="1.6" fill="#f8f4ec"/>
<circle cx="1207.1" cy="130.9" r="1.6" fill="#f8f4ec"/>
<circle cx="1211.0" cy="134.2" r="1.6" fill="#f8f4ec"/>
<circle cx="1204.7" cy="135.8" r="1.6" fill="#f8f4ec"/>
<circle cx="1255.1" cy="132.7" r="1.6" fill="#f8f4ec"/>
<circle cx="1246.9" cy="119.1" r="1.6" fill="#f8f4ec"/>
<circle cx="1108.7" cy="167.3" r="15" fill="#d6cdd2"/>
<circle cx="1119.6" cy="160.4" r="1.7" fill="#f3eff3"/>
<circle cx="1109.4" cy="162.2" r="1.7" fill="#e8e2e8"/>
<circle cx="1117.8" cy="169.6" r="1.7" fill="#ddd5dc"/>
<circle cx="1099.4" cy="172.3" r="1.7" fill="#e8e2e8"/>
<circle cx="1097.9" cy="159.8" r="1.7" fill="#f3eff3"/>
<circle cx="1113.3" cy="170.0" r="1.7" fill="#f3eff3"/>
<circle cx="1119.8" cy="168.8" r="1.7" fill="#e8e2e8"/>
<circle cx="1112.8" cy="170.8" r="1.7" fill="#e8e2e8"/>
<circle cx="1111.3" cy="174.8" r="1.7" fill="#e8e2e8"/>
<circle cx="1100.3" cy="177.4" r="1.7" fill="#ddd5dc"/>
<circle cx="1104.8" cy="174.9" r="1.7" fill="#ddd5dc"/>
<circle cx="1110.1" cy="180.4" r="1.7" fill="#e8e2e8"/>
<circle cx="1115.1" cy="178.1" r="1.7" fill="#fbf8f6"/>
<circle cx="1101.1" cy="159.6" r="1.7" fill="#ddd5dc"/>
<circle cx="1097.9" cy="165.2" r="1.7" fill="#f3eff3"/>
<circle cx="1110.7" cy="157.7" r="1.7" fill="#f3eff3"/>
<circle cx="1096.8" cy="171.0" r="1.7" fill="#fbf8f6"/>
<circle cx="1103.6" cy="159.3" r="1.7" fill="#e8e2e8"/>
<circle cx="1116.8" cy="157.5" r="1.7" fill="#e8e2e8"/>
<circle cx="1097.7" cy="167.5" r="1.7" fill="#e8e2e8"/>
<circle cx="1108.4" cy="166.5" r="1.7" fill="#f3eff3"/>
<circle cx="1113.2" cy="160.7" r="1.7" fill="#e8e2e8"/>
<circle cx="1098.4" cy="162.5" r="1.7" fill="#ddd5dc"/>
<circle cx="1104.1" cy="175.3" r="1.7" fill="#e8e2e8"/>
<circle cx="1105.4" cy="174.8" r="1.7" fill="#fbf8f6"/>
<circle cx="1114.8" cy="167.1" r="1.7" fill="#f3eff3"/>
<circle cx="1119.7" cy="166.7" r="1.7" fill="#fbf8f6"/>
<circle cx="1102.5" cy="159.5" r="1.7" fill="#fbf8f6"/>
<circle cx="1115.4" cy="177.6" r="1.7" fill="#ddd5dc"/>
<circle cx="1120.5" cy="163.6" r="1.7" fill="#f3eff3"/>
<circle cx="1096.6" cy="167.9" r="1.7" fill="#f3eff3"/>
<circle cx="1115.6" cy="176.6" r="1.7" fill="#ddd5dc"/>
<circle cx="1117.2" cy="161.7" r="1.7" fill="#ddd5dc"/>
<circle cx="1108.5" cy="166.5" r="1.7" fill="#e8e2e8"/>
<circle cx="1114.3" cy="171.5" r="1.7" fill="#f3eff3"/>
<circle cx="1101.8" cy="161.9" r="1.7" fill="#fbf8f6"/>
<circle cx="1116.5" cy="171.7" r="1.7" fill="#fbf8f6"/>
<circle cx="1116.3" cy="172.7" r="1.7" fill="#fbf8f6"/>
<circle cx="1111.1" cy="177.8" r="1.7" fill="#fbf8f6"/>
<circle cx="1109.9" cy="161.4" r="1.7" fill="#ddd5dc"/>
<circle cx="1110.0" cy="156.3" r="1.7" fill="#fbf8f6"/>
<circle cx="1096.8" cy="170.7" r="1.7" fill="#ddd5dc"/>
<circle cx="1104.2" cy="157.2" r="1.7" fill="#f3eff3"/>
<circle cx="1120.4" cy="170.8" r="1.7" fill="#fbf8f6"/>
<circle cx="1121.2" cy="171.7" r="1.7" fill="#e8e2e8"/>
<circle cx="1101.4" cy="177.2" r="1.7" fill="#e8e2e8"/>
<circle cx="1108.1" cy="176.7" r="1.7" fill="#ddd5dc"/>
<circle cx="1104.8" cy="167.8" r="1.7" fill="#f3eff3"/>
<circle cx="1110.9" cy="177.4" r="1.7" fill="#f3eff3"/>
<circle cx="1107.7" cy="159.6" r="1.7" fill="#e8e2e8"/>
<circle cx="1119.0" cy="164.4" r="1.7" fill="#f3eff3"/>
<circle cx="1101.2" cy="157.7" r="1.7" fill="#fbf8f6"/>
<circle cx="1105.9" cy="171.9" r="1.7" fill="#e8e2e8"/>
<circle cx="1097.1" cy="169.2" r="1.7" fill="#fbf8f6"/>
<circle cx="1108.5" cy="170.6" r="1.7" fill="#e8e2e8"/>
<circle cx="1117.4" cy="161.5" r="1.7" fill="#f3eff3"/>
<circle cx="1102.1" cy="160.2" r="1.7" fill="#ddd5dc"/>
<circle cx="1110.7" cy="175.6" r="1.7" fill="#ddd5dc"/>
<circle cx="1112.5" cy="157.0" r="1.7" fill="#ddd5dc"/>
<circle cx="1109.7" cy="176.3" r="1.7" fill="#e8e2e8"/>
<circle cx="1113.4" cy="164.8" r="1.7" fill="#f3eff3"/>
<circle cx="1100.7" cy="164.5" r="1.7" fill="#e8e2e8"/>
<circle cx="1119.6" cy="160.9" r="1.7" fill="#ddd5dc"/>
<circle cx="1101.8" cy="167.6" r="1.7" fill="#fbf8f6"/>
<circle cx="1116.3" cy="172.8" r="1.7" fill="#fbf8f6"/>
<circle cx="1115.3" cy="178.0" r="1.7" fill="#fbf8f6"/>
<circle cx="1105.5" cy="170.4" r="1.7" fill="#e8e2e8"/>
<circle cx="1101.6" cy="167.4" r="1.7" fill="#fbf8f6"/>
<circle cx="1101.3" cy="173.8" r="1.7" fill="#fbf8f6"/>
<circle cx="1109.7" cy="159.9" r="1.7" fill="#ddd5dc"/>
<circle cx="1113.7" cy="172.3" r="1.7" fill="#fbf8f6"/>
<circle cx="1096.8" cy="162.3" r="1.7" fill="#fbf8f6"/>
<circle cx="1096.0" cy="168.9" r="1.7" fill="#e8e2e8"/>
<circle cx="1096.8" cy="164.0" r="1.7" fill="#e8e2e8"/>
<circle cx="1102.1" cy="175.3" r="1.7" fill="#fbf8f6"/>
<circle cx="1105.7" cy="178.1" r="1.7" fill="#f3eff3"/>
<circle cx="1103.4" cy="170.2" r="1.7" fill="#f3eff3"/>
<circle cx="1111.3" cy="176.4" r="1.7" fill="#f3eff3"/>
<circle cx="1108.8" cy="160.8" r="1.7" fill="#f3eff3"/>
<circle cx="1103.6" cy="155.6" r="1.7" fill="#e8e2e8"/>
<circle cx="1103.8" cy="157.2" r="1.7" fill="#f3eff3"/>
<circle cx="1107.3" cy="180.4" r="1.7" fill="#f3eff3"/>
<circle cx="1116.0" cy="165.9" r="1.7" fill="#f3eff3"/>
<circle cx="1100.9" cy="166.6" r="1.7" fill="#e8e2e8"/>
<circle cx="1114.7" cy="167.8" r="1.7" fill="#e8e2e8"/>
<circle cx="1113.9" cy="163.8" r="1.7" fill="#e8e2e8"/>
<circle cx="1115.0" cy="164.5" r="1.7" fill="#fbf8f6"/>
<circle cx="1104.9" cy="160.0" r="1.7" fill="#f3eff3"/>
<circle cx="1119.8" cy="172.3" r="1.7" fill="#ddd5dc"/>
<circle cx="1117.5" cy="174.7" r="1.7" fill="#fbf8f6"/>
<circle cx="1100.0" cy="166.5" r="1.7" fill="#f3eff3"/>
<circle cx="1121.4" cy="163.5" r="1.7" fill="#ddd5dc"/>
<circle cx="1101.0" cy="159.8" r="1.7" fill="#e8e2e8"/>
<circle cx="1103.1" cy="173.1" r="1.7" fill="#e8e2e8"/>
<circle cx="1100.7" cy="177.1" r="1.7" fill="#fbf8f6"/>
<circle cx="1103.5" cy="165.9" r="1.7" fill="#e8e2e8"/>
<circle cx="1114.7" cy="175.5" r="1.7" fill="#f3eff3"/>
<circle cx="1113.8" cy="175.3" r="1.7" fill="#f3eff3"/>
<circle cx="1100.8" cy="164.1" r="1.7" fill="#f3eff3"/>
<circle cx="1107.8" cy="160.9" r="1.7" fill="#e8e2e8"/>
<circle cx="1109.7" cy="178.8" r="1.7" fill="#e8e2e8"/>
<circle cx="1115.0" cy="162.4" r="1.7" fill="#f3eff3"/>
<circle cx="1113.9" cy="158.5" r="1.7" fill="#ddd5dc"/>
<circle cx="1102.7" cy="177.3" r="1.7" fill="#e8e2e8"/>
<circle cx="1121.8" cy="165.3" r="1.7" fill="#f3eff3"/>
<circle cx="1099.7" cy="170.1" r="1.7" fill="#f3eff3"/>
<circle cx="1104.2" cy="163.9" r="1.7" fill="#f3eff3"/>
<circle cx="1108.0" cy="179.0" r="1.7" fill="#f3eff3"/>
<circle cx="1106.7" cy="170.5" r="1.7" fill="#fbf8f6"/>
<circle cx="1119.2" cy="172.6" r="1.7" fill="#ddd5dc"/>
<circle cx="1108.9" cy="172.5" r="1.7" fill="#fbf8f6"/>
<circle cx="1097.0" cy="172.6" r="1.7" fill="#f3eff3"/>
<circle cx="1106.3" cy="158.9" r="1.7" fill="#e8e2e8"/>
<circle cx="1100.7" cy="162.4" r="1.7" fill="#e8e2e8"/>
<circle cx="1113.6" cy="156.6" r="1.7" fill="#fbf8f6"/>
<circle cx="1101.0" cy="167.0" r="1.7" fill="#f3eff3"/>
<circle cx="1097.3" cy="165.8" r="1.7" fill="#e8e2e8"/>
<circle cx="1103.3" cy="166.9" r="1.7" fill="#e8e2e8"/>
<circle cx="1098.8" cy="171.7" r="1.7" fill="#f3eff3"/>
<circle cx="1109.3" cy="176.4" r="1.7" fill="#e8e2e8"/>
<circle cx="1154.8" cy="162.5" r="1.6" fill="#f8f4ec"/>
<circle cx="1149.6" cy="172.7" r="1.6" fill="#f8f4ec"/>
<circle cx="1155.8" cy="175.6" r="1.6" fill="#f8f4ec"/>
<circle cx="1157.9" cy="177.9" r="1.6" fill="#f8f4ec"/>
<circle cx="1155.7" cy="171.2" r="1.6" fill="#f8f4ec"/>
<circle cx="1147.7" cy="173.2" r="1.6" fill="#f8f4ec"/>
<circle cx="1162.7" cy="169.6" r="1.6" fill="#f8f4ec"/>
<circle cx="1164.2" cy="169.7" r="1.6" fill="#f8f4ec"/>
<circle cx="1156.9" cy="177.7" r="1.6" fill="#f8f4ec"/>
<circle cx="1149.9" cy="174.5" r="1.6" fill="#f8f4ec"/>
<circle cx="1157.7" cy="172.9" r="1.6" fill="#f8f4ec"/>
<circle cx="1166.7" cy="162.8" r="1.6" fill="#f8f4ec"/>
<circle cx="1153.0" cy="168.9" r="1.6" fill="#f8f4ec"/>
<circle cx="1147.7" cy="160.9" r="1.6" fill="#f8f4ec"/>
<circle cx="1203.9" cy="170.9" r="1.6" fill="#f8f4ec"/>
<circle cx="1190.5" cy="171.4" r="1.6" fill="#f8f4ec"/>
<circle cx="1207.0" cy="168.4" r="1.6" fill="#f8f4ec"/>
<circle cx="1211.2" cy="166.3" r="1.6" fill="#f8f4ec"/>
<circle cx="1203.1" cy="156.3" r="1.6" fill="#f8f4ec"/>
<circle cx="1210.5" cy="172.5" r="1.6" fill="#f8f4ec"/>
<circle cx="1200.8" cy="174.5" r="1.6" fill="#f8f4ec"/>
<circle cx="1207.6" cy="164.9" r="1.6" fill="#f8f4ec"/>
<circle cx="1205.9" cy="177.5" r="1.6" fill="#f8f4ec"/>
<circle cx="1190.6" cy="173.7" r="1.6" fill="#f8f4ec"/>
<circle cx="1252.8" cy="175.1" r="1.6" fill="#f8f4ec"/>
<circle cx="1250.6" cy="172.8" r="1.6" fill="#f8f4ec"/>
<circle cx="1239.3" cy="164.8" r="1.6" fill="#f8f4ec"/>
<circle cx="1249.1" cy="179.3" r="1.6" fill="#f8f4ec"/>
<circle cx="1110.0" cy="209.8" r="15" fill="#d6cdd2"/>
<circle cx="1106.3" cy="204.1" r="1.7" fill="#f3eff3"/>
<circle cx="1116.1" cy="215.2" r="1.7" fill="#e8e2e8"/>
<circle cx="1112.7" cy="209.9" r="1.7" fill="#fbf8f6"/>
<circle cx="1116.4" cy="213.5" r="1.7" fill="#fbf8f6"/>
<circle cx="1116.6" cy="200.4" r="1.7" fill="#ddd5dc"/>
<circle cx="1120.5" cy="207.8" r="1.7" fill="#e8e2e8"/>
<circle cx="1107.7" cy="215.4" r="1.7" fill="#fbf8f6"/>
<circle cx="1115.6" cy="215.4" r="1.7" fill="#e8e2e8"/>
<circle cx="1102.1" cy="202.4" r="1.7" fill="#e8e2e8"/>
<circle cx="1101.4" cy="209.6" r="1.7" fill="#e8e2e8"/>
<circle cx="1116.9" cy="211.7" r="1.7" fill="#f3eff3"/>
<circle cx="1111.4" cy="198.7" r="1.7" fill="#fbf8f6"/>
<circle cx="1103.4" cy="209.1" r="1.7" fill="#ddd5dc"/>
<circle cx="1103.1" cy="207.8" r="1.7" fill="#f3eff3"/>
<circle cx="1113.9" cy="201.4" r="1.7" fill="#e8e2e8"/>
<circle cx="1108.4" cy="197.6" r="1.7" fill="#fbf8f6"/>
<circle cx="1106.3" cy="210.9" r="1.7" fill="#fbf8f6"/>
<circle cx="1109.4" cy="203.8" r="1.7" fill="#e8e2e8"/>
<circle cx="1118.7" cy="208.9" r="1.7" fill="#fbf8f6"/>
<circle cx="1102.7" cy="201.5" r="1.7" fill="#fbf8f6"/>
<circle cx="1102.6" cy="207.5" r="1.7" fill="#ddd5dc"/>
<circle cx="1122.8" cy="212.4" r="1.7" fill="#fbf8f6"/>
<circle cx="1112.1" cy="203.8" r="1.7" fill="#fbf8f6"/>
<circle cx="1098.9" cy="211.8" r="1.7" fill="#e8e2e8"/>
<circle cx="1101.9" cy="210.4" r="1.7" fill="#fbf8f6"/>
<circle cx="1112.2" cy="208.1" r="1.7" fill="#e8e2e8"/>
<circle cx="1119.7" cy="202.3" r="1.7" fill="#ddd5dc"/>
<circle cx="1108.7" cy="214.9" r="1.7" fill="#e8e2e8"/>
<circle cx="1115.6" cy="208.9" r="1.7" fill="#e8e2e8"/>
<circle cx="1108.0" cy="212.4" r="1.7" fill="#e8e2e8"/>
<circle cx="1104.0" cy="220.5" r="1.7" fill="#f3eff3"/>
<circle cx="1104.8" cy="212.4" r="1.7" fill="#fbf8f6"/>
<circle cx="1105.6" cy="209.5" r="1.7" fill="#fbf8f6"/>
<circle cx="1102.2" cy="212.9" r="1.7" fill="#fbf8f6"/>
<circle cx="1118.3" cy="209.1" r="1.7" fill="#e8e2e8"/>
<circle cx="1109.0" cy="210.8" r="1.7" fill="#fbf8f6"/>
<circle cx="1115.7" cy="214.8" r="1.7" fill="#e8e2e8"/>
<circle cx="1105.5" cy="200.3" r="1.7" fill="#e8e2e8"/>
<circle cx="1112.7" cy="219.6" r="1.7" fill="#e8e2e8"/>
<circle cx="1108.4" cy="215.5" r="1.7" fill="#e8e2e8"/>
<circle cx="1111.1" cy="219.9" r="1.7" fill="#fbf8f6"/>
<circle cx="1117.3" cy="216.7" r="1.7" fill="#f3eff3"/>
<circle cx="1105.4" cy="209.5" r="1.7" fill="#e8e2e8"/>
<circle cx="1097.7" cy="214.6" r="1.7" fill="#fbf8f6"/>
<circle cx="1116.3" cy="210.4" r="1.7" fill="#fbf8f6"/>
<circle cx="1116.5" cy="209.2" r="1.7" fill="#ddd5dc"/>
<circle cx="1110.4" cy="220.0" r="1.7" fill="#ddd5dc"/>
<circle cx="1103.6" cy="202.7" r="1.7" fill="#fbf8f6"/>
<circle cx="1108.6" cy="221.4" r="1.7" fill="#ddd5dc"/>
<circle cx="1108.5" cy="210.1" r="1.7" fill="#ddd5dc"/>
<circle cx="1100.0" cy="212.2" r="1.7" fill="#e8e2e8"/>
<circle cx="1112.1" cy="197.8" r="1.7" fill="#ddd5dc"/>
<circle cx="1117.0" cy="220.8" r="1.7" fill="#fbf8f6"/>
<circle cx="1110.6" cy="198.3" r="1.7" fill="#f3eff3"/>
<circle cx="1105.4" cy="221.3" r="1.7" fill="#f3eff3"/>
<circle cx="1121.5" cy="215.0" r="1.7" fill="#e8e2e8"/>
<circle cx="1104.1" cy="216.2" r="1.7" fill="#ddd5dc"/>
<circle cx="1107.3" cy="220.6" r="1.7" fill="#fbf8f6"/>
<circle cx="1115.4" cy="209.2" r="1.7" fill="#ddd5dc"/>
<circle cx="1115.4" cy="214.5" r="1.7" fill="#e8e2e8"/>
<circle cx="1111.5" cy="217.9" r="1.7" fill="#fbf8f6"/>
<circle cx="1102.0" cy="203.9" r="1.7" fill="#fbf8f6"/>
<circle cx="1109.2" cy="213.6" r="1.7" fill="#fbf8f6"/>
<circle cx="1114.5" cy="203.1" r="1.7" fill="#fbf8f6"/>
<circle cx="1117.1" cy="218.1" r="1.7" fill="#f3eff3"/>
<circle cx="1105.5" cy="217.1" r="1.7" fill="#fbf8f6"/>
<circle cx="1110.1" cy="210.6" r="1.7" fill="#e8e2e8"/>
<circle cx="1105.5" cy="202.2" r="1.7" fill="#ddd5dc"/>
<circle cx="1109.7" cy="215.3" r="1.7" fill="#ddd5dc"/>
<circle cx="1116.5" cy="220.7" r="1.7" fill="#f3eff3"/>
<circle cx="1116.1" cy="210.9" r="1.7" fill="#fbf8f6"/>
<circle cx="1105.5" cy="199.8" r="1.7" fill="#ddd5dc"/>
<circle cx="1098.6" cy="206.4" r="1.7" fill="#e8e2e8"/>
<circle cx="1115.1" cy="212.1" r="1.7" fill="#e8e2e8"/>
<circle cx="1109.4" cy="220.5" r="1.7" fill="#e8e2e8"/>
<circle cx="1106.5" cy="198.7" r="1.7" fill="#fbf8f6"/>
<circle cx="1107.6" cy="219.2" r="1.7" fill="#ddd5dc"/>
<circle cx="1109.5" cy="205.4" r="1.7" fill="#fbf8f6"/>
<circle cx="1106.1" cy="220.0" r="1.7" fill="#e8e2e8"/>
<circle cx="1104.6" cy="199.7" r="1.7" fill="#fbf8f6"/>
<circle cx="1099.5" cy="205.1" r="1.7" fill="#fbf8f6"/>
<circle cx="1100.1" cy="210.2" r="1.7" fill="#e8e2e8"/>
<circle cx="1114.7" cy="200.1" r="1.7" fill="#f3eff3"/>
<circle cx="1119.2" cy="214.9" r="1.7" fill="#e8e2e8"/>
<circle cx="1108.7" cy="222.0" r="1.7" fill="#e8e2e8"/>
<circle cx="1120.8" cy="202.6" r="1.7" fill="#f3eff3"/>
<circle cx="1122.5" cy="211.0" r="1.7" fill="#ddd5dc"/>
<circle cx="1120.3" cy="216.1" r="1.7" fill="#ddd5dc"/>
<circle cx="1097.9" cy="207.3" r="1.7" fill="#e8e2e8"/>
<circle cx="1105.9" cy="219.5" r="1.7" fill="#f3eff3"/>
<circle cx="1115.5" cy="215.8" r="1.7" fill="#f3eff3"/>
<circle cx="1121.2" cy="211.4" r="1.7" fill="#f3eff3"/>
<circle cx="1113.9" cy="215.9" r="1.7" fill="#fbf8f6"/>
<circle cx="1106.4" cy="220.6" r="1.7" fill="#f3eff3"/>
<circle cx="1119.1" cy="200.2" r="1.7" fill="#ddd5dc"/>
<circle cx="1099.5" cy="201.9" r="1.7" fill="#f3eff3"/>
<circle cx="1114.2" cy="199.2" r="1.7" fill="#e8e2e8"/>
<circle cx="1105.4" cy="221.9" r="1.7" fill="#ddd5dc"/>
<circle cx="1100.6" cy="201.8" r="1.7" fill="#e8e2e8"/>
<circle cx="1102.8" cy="216.4" r="1.7" fill="#ddd5dc"/>
<circle cx="1112.0" cy="201.0" r="1.7" fill="#e8e2e8"/>
<circle cx="1115.8" cy="207.5" r="1.7" fill="#fbf8f6"/>
<circle cx="1109.6" cy="197.7" r="1.7" fill="#e8e2e8"/>
<circle cx="1114.9" cy="215.3" r="1.7" fill="#f3eff3"/>
<circle cx="1111.0" cy="215.9" r="1.7" fill="#fbf8f6"/>
<circle cx="1102.4" cy="211.7" r="1.7" fill="#ddd5dc"/>
<circle cx="1121.4" cy="211.7" r="1.7" fill="#fbf8f6"/>
<circle cx="1105.7" cy="212.9" r="1.7" fill="#ddd5dc"/>
<circle cx="1108.8" cy="199.1" r="1.7" fill="#ddd5dc"/>
<circle cx="1116.5" cy="219.5" r="1.7" fill="#ddd5dc"/>
<circle cx="1118.0" cy="205.3" r="1.7" fill="#e8e2e8"/>
<circle cx="1111.4" cy="204.0" r="1.7" fill="#e8e2e8"/>
<circle cx="1102.8" cy="219.4" r="1.7" fill="#f3eff3"/>
<circle cx="1109.3" cy="217.6" r="1.7" fill="#f3eff3"/>
<circle cx="1101.9" cy="210.7" r="1.7" fill="#e8e2e8"/>
<circle cx="1105.2" cy="220.7" r="1.7" fill="#fbf8f6"/>
<circle cx="1109.7" cy="221.9" r="1.7" fill="#e8e2e8"/>
<circle cx="1108.3" cy="204.6" r="1.7" fill="#f3eff3"/>
<circle cx="1112.5" cy="199.1" r="1.7" fill="#ddd5dc"/>
<circle cx="1099.9" cy="214.0" r="1.7" fill="#ddd5dc"/>
<circle cx="1159.9" cy="215.1" r="1.6" fill="#f8f4ec"/>
<circle cx="1149.6" cy="214.9" r="1.6" fill="#f8f4ec"/>
<circle cx="1162.1" cy="215.6" r="1.6" fill="#f8f4ec"/>
<circle cx="1163.6" cy="203.3" r="1.6" fill="#f8f4ec"/>
<circle cx="1161.8" cy="215.3" r="1.6" fill="#f8f4ec"/>
<circle cx="1151.7" cy="206.6" r="1.6" fill="#f8f4ec"/>
<circle cx="1148.1" cy="211.3" r="1.6" fill="#f8f4ec"/>
<circle cx="1148.9" cy="213.4" r="1.6" fill="#f8f4ec"/>
<circle cx="1202.3" cy="206.6" r="1.6" fill="#f8f4ec"/>
<circle cx="1206.6" cy="206.8" r="1.6" fill="#f8f4ec"/>
<circle cx="1211.2" cy="212.5" r="1.6" fill="#f8f4ec"/>
<circle cx="1191.4" cy="205.6" r="1.6" fill="#f8f4ec"/>
<circle cx="1202.6" cy="220.9" r="1.6" fill="#f8f4ec"/>
<circle cx="1196.5" cy="220.1" r="1.6" fill="#f8f4ec"/>
<circle cx="1249.4" cy="219.8" r="1.6" fill="#f8f4ec"/>
<circle cx="1242.9" cy="202.9" r="1.6" fill="#f8f4ec"/>
<circle cx="1243.0" cy="210.4" r="1.6" fill="#f8f4ec"/>
<circle cx="1241.3" cy="201.3" r="1.6" fill="#f8f4ec"/>
<circle cx="1253.7" cy="217.9" r="1.6" fill="#f8f4ec"/>
<rect x="1089.5" y="245" width="186.0" height="86.7" fill="#c2b7a1"/>
<circle cx="1108.7" cy="267.2" r="15" fill="#d6cdd2"/>
<circle cx="1108.3" cy="263.0" r="1.7" fill="#f3eff3"/>
<circle cx="1110.7" cy="272.9" r="1.7" fill="#fbf8f6"/>
<circle cx="1108.6" cy="271.1" r="1.7" fill="#ddd5dc"/>
<circle cx="1108.8" cy="267.4" r="1.7" fill="#ddd5dc"/>
<circle cx="1109.8" cy="273.7" r="1.7" fill="#ddd5dc"/>
<circle cx="1113.4" cy="271.3" r="1.7" fill="#f3eff3"/>
<circle cx="1117.4" cy="274.8" r="1.7" fill="#ddd5dc"/>
<circle cx="1104.9" cy="256.1" r="1.7" fill="#e8e2e8"/>
<circle cx="1109.3" cy="269.7" r="1.7" fill="#ddd5dc"/>
<circle cx="1097.8" cy="274.0" r="1.7" fill="#ddd5dc"/>
<circle cx="1110.1" cy="275.7" r="1.7" fill="#ddd5dc"/>
<circle cx="1104.2" cy="258.1" r="1.7" fill="#ddd5dc"/>
<circle cx="1106.8" cy="279.2" r="1.7" fill="#ddd5dc"/>
<circle cx="1109.4" cy="270.1" r="1.7" fill="#e8e2e8"/>
<circle cx="1098.9" cy="269.6" r="1.7" fill="#e8e2e8"/>
<circle cx="1118.2" cy="266.9" r="1.7" fill="#f3eff3"/>
<circle cx="1115.8" cy="271.1" r="1.7" fill="#ddd5dc"/>
<circle cx="1110.2" cy="267.0" r="1.7" fill="#ddd5dc"/>
<circle cx="1100.5" cy="258.2" r="1.7" fill="#ddd5dc"/>
<circle cx="1113.8" cy="255.9" r="1.7" fill="#ddd5dc"/>
<circle cx="1106.1" cy="256.2" r="1.7" fill="#e8e2e8"/>
<circle cx="1113.9" cy="273.7" r="1.7" fill="#f3eff3"/>
<circle cx="1107.6" cy="265.6" r="1.7" fill="#ddd5dc"/>
<circle cx="1106.9" cy="257.8" r="1.7" fill="#e8e2e8"/>
<circle cx="1106.2" cy="271.3" r="1.7" fill="#f3eff3"/>
<circle cx="1106.0" cy="278.7" r="1.7" fill="#fbf8f6"/>
<circle cx="1111.8" cy="256.6" r="1.7" fill="#e8e2e8"/>
<circle cx="1117.2" cy="274.8" r="1.7" fill="#f3eff3"/>
<circle cx="1116.0" cy="267.0" r="1.7" fill="#fbf8f6"/>
<circle cx="1105.8" cy="257.2" r="1.7" fill="#ddd5dc"/>
<circle cx="1112.3" cy="264.4" r="1.7" fill="#ddd5dc"/>
<circle cx="1104.6" cy="279.6" r="1.7" fill="#ddd5dc"/>
<circle cx="1118.7" cy="275.2" r="1.7" fill="#ddd5dc"/>
<circle cx="1116.1" cy="265.7" r="1.7" fill="#ddd5dc"/>
<circle cx="1099.6" cy="274.4" r="1.7" fill="#fbf8f6"/>
<circle cx="1113.8" cy="258.4" r="1.7" fill="#ddd5dc"/>
<circle cx="1107.7" cy="279.9" r="1.7" fill="#e8e2e8"/>
<circle cx="1097.9" cy="271.4" r="1.7" fill="#fbf8f6"/>
<circle cx="1102.0" cy="275.1" r="1.7" fill="#e8e2e8"/>
<circle cx="1097.2" cy="273.0" r="1.7" fill="#e8e2e8"/>
<circle cx="1109.9" cy="268.4" r="1.7" fill="#f3eff3"/>
<circle cx="1117.4" cy="269.1" r="1.7" fill="#fbf8f6"/>
<circle cx="1116.2" cy="262.5" r="1.7" fill="#f3eff3"/>
<circle cx="1118.2" cy="274.3" r="1.7" fill="#ddd5dc"/>
<circle cx="1105.1" cy="277.9" r="1.7" fill="#f3eff3"/>
<circle cx="1111.7" cy="259.7" r="1.7" fill="#ddd5dc"/>
<circle cx="1110.6" cy="268.4" r="1.7" fill="#e8e2e8"/>
<circle cx="1100.9" cy="258.0" r="1.7" fill="#e8e2e8"/>
<circle cx="1105.9" cy="265.0" r="1.7" fill="#fbf8f6"/>
<circle cx="1112.4" cy="259.5" r="1.7" fill="#fbf8f6"/>
<circle cx="1102.3" cy="263.4" r="1.7" fill="#f3eff3"/>
<circle cx="1096.6" cy="262.1" r="1.7" fill="#ddd5dc"/>
<circle cx="1107.6" cy="270.2" r="1.7" fill="#f3eff3"/>
<circle cx="1111.4" cy="269.2" r="1.7" fill="#e8e2e8"/>
<circle cx="1099.1" cy="261.3" r="1.7" fill="#fbf8f6"/>
<circle cx="1105.6" cy="260.8" r="1.7" fill="#ddd5dc"/>
<circle cx="1117.6" cy="268.4" r="1.7" fill="#fbf8f6"/>
<circle cx="1106.6" cy="273.8" r="1.7" fill="#f3eff3"/>
<circle cx="1116.6" cy="272.5" r="1.7" fill="#fbf8f6"/>
<circle cx="1109.3" cy="271.7" r="1.7" fill="#fbf8f6"/>
<circle cx="1107.2" cy="259.2" r="1.7" fill="#ddd5dc"/>
<circle cx="1116.9" cy="262.3" r="1.7" fill="#e8e2e8"/>
<circle cx="1121.6" cy="266.4" r="1.7" fill="#fbf8f6"/>
<circle cx="1120.3" cy="263.1" r="1.7" fill="#e8e2e8"/>
<circle cx="1115.2" cy="274.6" r="1.7" fill="#e8e2e8"/>
<circle cx="1112.3" cy="258.0" r="1.7" fill="#f3eff3"/>
<circle cx="1108.2" cy="278.3" r="1.7" fill="#fbf8f6"/>
<circle cx="1108.1" cy="277.6" r="1.7" fill="#e8e2e8"/>
<circle cx="1104.2" cy="270.5" r="1.7" fill="#f3eff3"/>
<circle cx="1105.0" cy="278.5" r="1.7" fill="#e8e2e8"/>
<circle cx="1098.1" cy="268.8" r="1.7" fill="#ddd5dc"/>
<circle cx="1114.3" cy="268.8" r="1.7" fill="#ddd5dc"/>
<circle cx="1102.0" cy="272.7" r="1.7" fill="#fbf8f6"/>
<circle cx="1103.7" cy="258.6" r="1.7" fill="#fbf8f6"/>
<circle cx="1100.5" cy="273.0" r="1.7" fill="#ddd5dc"/>
<circle cx="1113.6" cy="279.2" r="1.7" fill="#fbf8f6"/>
<circle cx="1117.8" cy="266.8" r="1.7" fill="#f3eff3"/>
<circle cx="1109.4" cy="278.6" r="1.7" fill="#e8e2e8"/>
<circle cx="1114.9" cy="256.4" r="1.7" fill="#fbf8f6"/>
<circle cx="1115.7" cy="261.5" r="1.7" fill="#fbf8f6"/>
<circle cx="1105.6" cy="274.7" r="1.7" fill="#e8e2e8"/>
<circle cx="1114.8" cy="258.2" r="1.7" fill="#e8e2e8"/>
<circle cx="1119.4" cy="273.8" r="1.7" fill="#e8e2e8"/>
<circle cx="1096.4" cy="268.9" r="1.7" fill="#e8e2e8"/>
<circle cx="1114.8" cy="274.9" r="1.7" fill="#fbf8f6"/>
<circle cx="1115.7" cy="265.9" r="1.7" fill="#f3eff3"/>
<circle cx="1107.8" cy="275.5" r="1.7" fill="#f3eff3"/>
<circle cx="1114.6" cy="265.2" r="1.7" fill="#ddd5dc"/>
<circle cx="1121.0" cy="268.2" r="1.7" fill="#ddd5dc"/>
<circle cx="1109.6" cy="263.2" r="1.7" fill="#e8e2e8"/>
<circle cx="1103.3" cy="270.9" r="1.7" fill="#f3eff3"/>
<circle cx="1100.3" cy="269.2" r="1.7" fill="#f3eff3"/>
<circle cx="1108.9" cy="274.3" r="1.7" fill="#f3eff3"/>
<circle cx="1099.5" cy="276.7" r="1.7" fill="#f3eff3"/>
<circle cx="1109.6" cy="257.0" r="1.7" fill="#ddd5dc"/>
<circle cx="1097.3" cy="263.5" r="1.7" fill="#e8e2e8"/>
<circle cx="1115.9" cy="261.7" r="1.7" fill="#fbf8f6"/>
<circle cx="1104.0" cy="270.6" r="1.7" fill="#fbf8f6"/>
<circle cx="1098.3" cy="259.7" r="1.7" fill="#fbf8f6"/>
<circle cx="1101.8" cy="264.1" r="1.7" fill="#fbf8f6"/>
<circle cx="1106.1" cy="267.1" r="1.7" fill="#fbf8f6"/>
<circle cx="1105.2" cy="254.8" r="1.7" fill="#fbf8f6"/>
<circle cx="1102.0" cy="256.2" r="1.7" fill="#ddd5dc"/>
<circle cx="1100.1" cy="270.0" r="1.7" fill="#fbf8f6"/>
<circle cx="1118.4" cy="261.9" r="1.7" fill="#e8e2e8"/>
<circle cx="1111.1" cy="261.0" r="1.7" fill="#e8e2e8"/>
<circle cx="1110.2" cy="273.1" r="1.7" fill="#fbf8f6"/>
<circle cx="1111.6" cy="274.3" r="1.7" fill="#ddd5dc"/>
<circle cx="1105.8" cy="267.5" r="1.7" fill="#e8e2e8"/>
<circle cx="1109.9" cy="264.3" r="1.7" fill="#ddd5dc"/>
<circle cx="1116.6" cy="271.3" r="1.7" fill="#f3eff3"/>
<circle cx="1117.2" cy="259.5" r="1.7" fill="#f3eff3"/>
<circle cx="1098.2" cy="273.5" r="1.7" fill="#f3eff3"/>
<circle cx="1103.1" cy="263.9" r="1.7" fill="#fbf8f6"/>
<circle cx="1102.8" cy="260.9" r="1.7" fill="#f3eff3"/>
<circle cx="1102.9" cy="259.7" r="1.7" fill="#fbf8f6"/>
<circle cx="1120.2" cy="269.9" r="1.7" fill="#ddd5dc"/>
<circle cx="1111.0" cy="274.6" r="1.7" fill="#f3eff3"/>
<circle cx="1120.7" cy="269.2" r="1.7" fill="#ddd5dc"/>
<circle cx="1114.6" cy="260.0" r="1.7" fill="#ddd5dc"/>
<circle cx="1169.2" cy="264.7" r="1.6" fill="#f8f4ec"/>
<circle cx="1149.1" cy="262.0" r="1.6" fill="#f8f4ec"/>
<circle cx="1166.5" cy="267.9" r="1.6" fill="#f8f4ec"/>
<circle cx="1157.0" cy="277.6" r="1.6" fill="#f8f4ec"/>
<circle cx="1166.8" cy="271.1" r="1.6" fill="#f8f4ec"/>
<circle cx="1151.0" cy="273.9" r="1.6" fill="#f8f4ec"/>
<circle cx="1153.1" cy="270.4" r="1.6" fill="#f8f4ec"/>
<circle cx="1156.5" cy="255.8" r="1.6" fill="#f8f4ec"/>
<circle cx="1153.0" cy="263.8" r="1.6" fill="#f8f4ec"/>
<circle cx="1148.2" cy="260.3" r="1.6" fill="#f8f4ec"/>
<circle cx="1169.0" cy="266.3" r="1.6" fill="#f8f4ec"/>
<circle cx="1169.2" cy="270.6" r="1.6" fill="#f8f4ec"/>
<circle cx="1153.9" cy="260.5" r="1.6" fill="#f8f4ec"/>
<circle cx="1168.0" cy="261.6" r="1.6" fill="#f8f4ec"/>
<circle cx="1163.7" cy="262.6" r="1.6" fill="#f8f4ec"/>
<circle cx="1150.1" cy="263.2" r="1.6" fill="#f8f4ec"/>
<circle cx="1154.6" cy="278.0" r="1.6" fill="#f8f4ec"/>
<circle cx="1151.7" cy="261.7" r="1.6" fill="#f8f4ec"/>
<circle cx="1146.1" cy="264.0" r="1.6" fill="#f8f4ec"/>
<circle cx="1146.8" cy="262.3" r="1.6" fill="#f8f4ec"/>
<circle cx="1188.9" cy="262.2" r="1.6" fill="#f8f4ec"/>
<circle cx="1209.4" cy="268.9" r="1.6" fill="#f8f4ec"/>
<circle cx="1189.9" cy="263.6" r="1.6" fill="#f8f4ec"/>
<circle cx="1210.5" cy="265.2" r="1.6" fill="#f8f4ec"/>
<circle cx="1189.9" cy="268.6" r="1.6" fill="#f8f4ec"/>
<circle cx="1189.6" cy="264.9" r="1.6" fill="#f8f4ec"/>
<circle cx="1203.8" cy="266.0" r="1.6" fill="#f8f4ec"/>
<circle cx="1195.2" cy="277.9" r="1.6" fill="#f8f4ec"/>
<circle cx="1210.9" cy="271.4" r="1.6" fill="#f8f4ec"/>
<circle cx="1210.7" cy="269.2" r="1.6" fill="#f8f4ec"/>
<circle cx="1202.6" cy="260.2" r="1.6" fill="#f8f4ec"/>
<circle cx="1195.0" cy="272.1" r="1.6" fill="#f8f4ec"/>
<circle cx="1245.3" cy="257.8" r="1.6" fill="#f8f4ec"/>
<circle cx="1241.5" cy="262.1" r="1.6" fill="#f8f4ec"/>
<circle cx="1237.5" cy="260.8" r="1.6" fill="#f8f4ec"/>
<circle cx="1250.2" cy="255.1" r="1.6" fill="#f8f4ec"/>
<circle cx="1248.2" cy="276.9" r="1.6" fill="#f8f4ec"/>
<circle cx="1109.2" cy="309.7" r="15" fill="#cfc3bb"/>
<circle cx="1103.2" cy="315.0" r="1.4" fill="#e2dcdf"/>
<circle cx="1113.8" cy="318.8" r="1.4" fill="#e2dcdf"/>
<circle cx="1110.9" cy="309.0" r="1.4" fill="#e2dcdf"/>
<circle cx="1110.1" cy="306.7" r="1.4" fill="#eee8ea"/>
<circle cx="1115.7" cy="320.4" r="1.4" fill="#e2dcdf"/>
<circle cx="1114.9" cy="300.1" r="1.4" fill="#f6f2ee"/>
<circle cx="1116.4" cy="312.8" r="1.4" fill="#eee8ea"/>
<circle cx="1099.7" cy="318.7" r="1.4" fill="#f6f2ee"/>
<circle cx="1106.0" cy="299.8" r="1.4" fill="#eee8ea"/>
<circle cx="1114.8" cy="302.4" r="1.4" fill="#eee8ea"/>
<circle cx="1096.8" cy="310.7" r="1.4" fill="#eee8ea"/>
<circle cx="1111.9" cy="322.6" r="1.4" fill="#e2dcdf"/>
<circle cx="1109.3" cy="310.1" r="1.4" fill="#e2dcdf"/>
<circle cx="1118.9" cy="316.6" r="1.4" fill="#e2dcdf"/>
<circle cx="1100.9" cy="300.5" r="1.4" fill="#e2dcdf"/>
<circle cx="1114.0" cy="309.0" r="1.4" fill="#eee8ea"/>
<circle cx="1104.8" cy="320.1" r="1.4" fill="#f6f2ee"/>
<circle cx="1116.0" cy="318.6" r="1.4" fill="#e2dcdf"/>
<circle cx="1108.1" cy="316.4" r="1.4" fill="#f6f2ee"/>
<circle cx="1113.5" cy="319.4" r="1.4" fill="#e2dcdf"/>
<circle cx="1114.3" cy="305.4" r="1.4" fill="#f6f2ee"/>
<circle cx="1121.8" cy="311.3" r="1.4" fill="#eee8ea"/>
<circle cx="1111.3" cy="298.0" r="1.4" fill="#e2dcdf"/>
<circle cx="1104.0" cy="320.2" r="1.4" fill="#f6f2ee"/>
<circle cx="1097.2" cy="312.3" r="1.4" fill="#eee8ea"/>
<circle cx="1105.3" cy="311.2" r="1.4" fill="#e2dcdf"/>
<circle cx="1113.2" cy="306.0" r="1.4" fill="#eee8ea"/>
<circle cx="1110.2" cy="309.2" r="1.4" fill="#f6f2ee"/>
<circle cx="1105.3" cy="312.5" r="1.4" fill="#e2dcdf"/>
<circle cx="1102.6" cy="298.8" r="1.4" fill="#e2dcdf"/>
<circle cx="1105.9" cy="306.4" r="1.4" fill="#e2dcdf"/>
<circle cx="1105.6" cy="315.3" r="1.4" fill="#e2dcdf"/>
<circle cx="1106.5" cy="298.0" r="1.4" fill="#f6f2ee"/>
<circle cx="1101.1" cy="319.3" r="1.4" fill="#e2dcdf"/>
<circle cx="1117.2" cy="313.3" r="1.4" fill="#e2dcdf"/>
<circle cx="1108.8" cy="303.4" r="1.4" fill="#e2dcdf"/>
<circle cx="1103.7" cy="311.7" r="1.4" fill="#f6f2ee"/>
<circle cx="1111.3" cy="302.5" r="1.4" fill="#f6f2ee"/>
<circle cx="1120.8" cy="303.5" r="1.4" fill="#e2dcdf"/>
<circle cx="1117.6" cy="313.2" r="1.4" fill="#e2dcdf"/>
<circle cx="1108.9" cy="316.6" r="1.4" fill="#eee8ea"/>
<circle cx="1110.5" cy="321.0" r="1.4" fill="#f6f2ee"/>
<circle cx="1114.2" cy="317.1" r="1.4" fill="#eee8ea"/>
<circle cx="1100.8" cy="310.7" r="1.4" fill="#e2dcdf"/>
<circle cx="1105.8" cy="313.1" r="1.4" fill="#f6f2ee"/>
<circle cx="1108.5" cy="305.8" r="1.4" fill="#e2dcdf"/>
<circle cx="1105.2" cy="303.3" r="1.4" fill="#f6f2ee"/>
<circle cx="1114.6" cy="315.3" r="1.4" fill="#e2dcdf"/>
<circle cx="1106.2" cy="322.0" r="1.4" fill="#f6f2ee"/>
<circle cx="1096.0" cy="311.5" r="1.4" fill="#eee8ea"/>
<circle cx="1112.4" cy="315.8" r="1.4" fill="#f6f2ee"/>
<circle cx="1115.3" cy="303.4" r="1.4" fill="#eee8ea"/>
<circle cx="1107.7" cy="319.5" r="1.4" fill="#e2dcdf"/>
<circle cx="1100.5" cy="318.5" r="1.4" fill="#eee8ea"/>
<circle cx="1107.5" cy="310.6" r="1.4" fill="#e2dcdf"/>
<circle cx="1107.7" cy="298.4" r="1.4" fill="#f6f2ee"/>
<circle cx="1108.7" cy="305.7" r="1.4" fill="#eee8ea"/>
<circle cx="1106.9" cy="315.4" r="1.4" fill="#e2dcdf"/>
<circle cx="1097.8" cy="303.8" r="1.4" fill="#e2dcdf"/>
<circle cx="1103.7" cy="303.6" r="1.4" fill="#eee8ea"/>
<circle cx="1110.3" cy="317.2" r="1.4" fill="#eee8ea"/>
<circle cx="1101.3" cy="305.2" r="1.4" fill="#e2dcdf"/>
<circle cx="1103.8" cy="301.0" r="1.4" fill="#f6f2ee"/>
<circle cx="1115.4" cy="321.3" r="1.4" fill="#f6f2ee"/>
<circle cx="1095.7" cy="309.1" r="1.4" fill="#e2dcdf"/>
<circle cx="1109.2" cy="317.3" r="1.4" fill="#e2dcdf"/>
<circle cx="1108.9" cy="307.1" r="1.4" fill="#e2dcdf"/>
<circle cx="1103.5" cy="307.3" r="1.4" fill="#eee8ea"/>
<circle cx="1110.4" cy="306.7" r="1.4" fill="#e2dcdf"/>
<circle cx="1111.8" cy="297.1" r="1.4" fill="#eee8ea"/>
<circle cx="1101.8" cy="309.8" r="1.4" fill="#f6f2ee"/>
<circle cx="1106.0" cy="311.7" r="1.4" fill="#f6f2ee"/>
<circle cx="1119.4" cy="314.2" r="1.4" fill="#f6f2ee"/>
<circle cx="1113.6" cy="312.6" r="1.4" fill="#f6f2ee"/>
<circle cx="1112.4" cy="302.9" r="1.4" fill="#eee8ea"/>
<circle cx="1114.1" cy="315.7" r="1.4" fill="#e2dcdf"/>
<circle cx="1109.7" cy="312.5" r="1.4" fill="#e2dcdf"/>
<circle cx="1103.5" cy="320.9" r="1.4" fill="#e2dcdf"/>
<circle cx="1104.1" cy="304.6" r="1.4" fill="#e2dcdf"/>
<circle cx="1116.2" cy="309.0" r="1.4" fill="#e2dcdf"/>
<circle cx="1114.3" cy="320.9" r="1.4" fill="#e2dcdf"/>
<circle cx="1121.4" cy="305.4" r="1.4" fill="#eee8ea"/>
<circle cx="1100.1" cy="303.5" r="1.4" fill="#e2dcdf"/>
<circle cx="1109.5" cy="306.2" r="1.4" fill="#e2dcdf"/>
<circle cx="1120.2" cy="307.9" r="1.4" fill="#f6f2ee"/>
<circle cx="1158.8" cy="321.2" r="1.3" fill="#f8f4ec"/>
<circle cx="1149.6" cy="306.8" r="1.3" fill="#f8f4ec"/>
<circle cx="1151.8" cy="304.1" r="1.3" fill="#f8f4ec"/>
<circle cx="1168.6" cy="310.3" r="1.3" fill="#f8f4ec"/>
<circle cx="1148.3" cy="314.1" r="1.3" fill="#f8f4ec"/>
<circle cx="1151.2" cy="316.6" r="1.3" fill="#f8f4ec"/>
<circle cx="1151.3" cy="306.5" r="1.3" fill="#f8f4ec"/>
<circle cx="1160.5" cy="319.8" r="1.3" fill="#f8f4ec"/>
<circle cx="1191.6" cy="306.2" r="1.3" fill="#f8f4ec"/>
<circle cx="1193.6" cy="318.2" r="1.3" fill="#f8f4ec"/>
<circle cx="1205.0" cy="307.1" r="1.3" fill="#f8f4ec"/>
<circle cx="1207.0" cy="302.2" r="1.3" fill="#f8f4ec"/>
<circle cx="1200.4" cy="299.5" r="1.3" fill="#f8f4ec"/>
<circle cx="1244.3" cy="299.9" r="1.3" fill="#f8f4ec"/>
<circle cx="1242.3" cy="302.1" r="1.3" fill="#f8f4ec"/>
<circle cx="1238.3" cy="313.9" r="1.3" fill="#f8f4ec"/>
<circle cx="1242.2" cy="305.6" r="1.3" fill="#f8f4ec"/>
<rect x="1090.3" y="343" width="185.7" height="78.2" fill="#c1b6a0"/>
<circle cx="1110.0" cy="364.1" r="15" fill="#d6cdd2"/>
<circle cx="1119.1" cy="363.1" r="1.7" fill="#e8e2e8"/>
<circle cx="1104.6" cy="374.5" r="1.7" fill="#fbf8f6"/>
<circle cx="1107.1" cy="374.7" r="1.7" fill="#e8e2e8"/>
<circle cx="1104.2" cy="357.4" r="1.7" fill="#e8e2e8"/>
<circle cx="1108.0" cy="373.2" r="1.7" fill="#e8e2e8"/>
<circle cx="1109.2" cy="358.2" r="1.7" fill="#fbf8f6"/>
<circle cx="1108.4" cy="365.3" r="1.7" fill="#fbf8f6"/>
<circle cx="1103.4" cy="373.4" r="1.7" fill="#e8e2e8"/>
<circle cx="1115.3" cy="374.2" r="1.7" fill="#f3eff3"/>
<circle cx="1102.9" cy="371.4" r="1.7" fill="#f3eff3"/>
<circle cx="1106.2" cy="375.0" r="1.7" fill="#ddd5dc"/>
<circle cx="1108.4" cy="376.5" r="1.7" fill="#fbf8f6"/>
<circle cx="1111.0" cy="353.2" r="1.7" fill="#fbf8f6"/>
<circle cx="1109.6" cy="377.1" r="1.7" fill="#f3eff3"/>
<circle cx="1111.1" cy="370.4" r="1.7" fill="#e8e2e8"/>
<circle cx="1112.0" cy="357.6" r="1.7" fill="#fbf8f6"/>
<circle cx="1122.0" cy="365.9" r="1.7" fill="#fbf8f6"/>
<circle cx="1108.1" cy="373.4" r="1.7" fill="#fbf8f6"/>
<circle cx="1115.2" cy="370.2" r="1.7" fill="#fbf8f6"/>
<circle cx="1104.8" cy="372.0" r="1.7" fill="#ddd5dc"/>
<circle cx="1110.0" cy="374.2" r="1.7" fill="#ddd5dc"/>
<circle cx="1102.0" cy="364.2" r="1.7" fill="#f3eff3"/>
<circle cx="1102.9" cy="374.7" r="1.7" fill="#fbf8f6"/>
<circle cx="1101.5" cy="360.6" r="1.7" fill="#fbf8f6"/>
<circle cx="1115.6" cy="360.7" r="1.7" fill="#fbf8f6"/>
<circle cx="1106.8" cy="361.5" r="1.7" fill="#e8e2e8"/>
<circle cx="1111.8" cy="362.5" r="1.7" fill="#e8e2e8"/>
<circle cx="1117.5" cy="372.1" r="1.7" fill="#ddd5dc"/>
<circle cx="1104.5" cy="371.7" r="1.7" fill="#f3eff3"/>
<circle cx="1113.7" cy="373.9" r="1.7" fill="#ddd5dc"/>
<circle cx="1100.9" cy="363.1" r="1.7" fill="#f3eff3"/>
<circle cx="1109.3" cy="361.5" r="1.7" fill="#fbf8f6"/>
<circle cx="1104.6" cy="371.6" r="1.7" fill="#e8e2e8"/>
<circle cx="1120.1" cy="361.1" r="1.7" fill="#e8e2e8"/>
<circle cx="1113.0" cy="360.5" r="1.7" fill="#e8e2e8"/>
<circle cx="1103.3" cy="360.3" r="1.7" fill="#f3eff3"/>
<circle cx="1117.0" cy="360.9" r="1.7" fill="#ddd5dc"/>
<circle cx="1113.1" cy="375.4" r="1.7" fill="#f3eff3"/>
<circle cx="1122.3" cy="361.5" r="1.7" fill="#e8e2e8"/>
<circle cx="1113.0" cy="373.0" r="1.7" fill="#f3eff3"/>
<circle cx="1106.6" cy="355.7" r="1.7" fill="#e8e2e8"/>
<circle cx="1106.6" cy="361.6" r="1.7" fill="#e8e2e8"/>
<circle cx="1119.4" cy="371.2" r="1.7" fill="#fbf8f6"/>
<circle cx="1107.6" cy="366.9" r="1.7" fill="#f3eff3"/>
<circle cx="1110.0" cy="361.3" r="1.7" fill="#ddd5dc"/>
<circle cx="1113.1" cy="355.6" r="1.7" fill="#fbf8f6"/>
<circle cx="1112.8" cy="357.4" r="1.7" fill="#f3eff3"/>
<circle cx="1112.1" cy="369.3" r="1.7" fill="#e8e2e8"/>
<circle cx="1116.9" cy="355.6" r="1.7" fill="#ddd5dc"/>
<circle cx="1114.3" cy="374.6" r="1.7" fill="#f3eff3"/>
<circle cx="1113.7" cy="363.1" r="1.7" fill="#f3eff3"/>
<circle cx="1108.7" cy="363.1" r="1.7" fill="#ddd5dc"/>
<circle cx="1100.5" cy="368.0" r="1.7" fill="#fbf8f6"/>
<circle cx="1109.6" cy="366.3" r="1.7" fill="#fbf8f6"/>
<circle cx="1103.2" cy="362.9" r="1.7" fill="#ddd5dc"/>
<circle cx="1121.4" cy="363.7" r="1.7" fill="#e8e2e8"/>
<circle cx="1110.1" cy="366.3" r="1.7" fill="#fbf8f6"/>
<circle cx="1115.8" cy="370.4" r="1.7" fill="#f3eff3"/>
<circle cx="1099.8" cy="368.5" r="1.7" fill="#f3eff3"/>
<circle cx="1099.8" cy="364.2" r="1.7" fill="#f3eff3"/>
<circle cx="1105.9" cy="366.9" r="1.7" fill="#ddd5dc"/>
<circle cx="1115.3" cy="374.5" r="1.7" fill="#ddd5dc"/>
<circle cx="1111.5" cy="359.5" r="1.7" fill="#ddd5dc"/>
<circle cx="1109.3" cy="367.9" r="1.7" fill="#f3eff3"/>
<circle cx="1099.6" cy="366.8" r="1.7" fill="#f3eff3"/>
<circle cx="1117.3" cy="358.0" r="1.7" fill="#e8e2e8"/>
<circle cx="1116.2" cy="363.7" r="1.7" fill="#f3eff3"/>
<circle cx="1115.4" cy="367.6" r="1.7" fill="#e8e2e8"/>
<circle cx="1116.1" cy="370.1" r="1.7" fill="#f3eff3"/>
<circle cx="1117.7" cy="369.2" r="1.7" fill="#e8e2e8"/>
<circle cx="1110.4" cy="356.8" r="1.7" fill="#e8e2e8"/>
<circle cx="1116.8" cy="372.7" r="1.7" fill="#ddd5dc"/>
<circle cx="1110.9" cy="358.7" r="1.7" fill="#fbf8f6"/>
<circle cx="1104.3" cy="362.0" r="1.7" fill="#fbf8f6"/>
<circle cx="1114.5" cy="363.5" r="1.7" fill="#e8e2e8"/>
<circle cx="1105.8" cy="365.8" r="1.7" fill="#fbf8f6"/>
<circle cx="1103.0" cy="354.7" r="1.7" fill="#e8e2e8"/>
<circle cx="1119.4" cy="359.0" r="1.7" fill="#fbf8f6"/>
<circle cx="1102.1" cy="359.2" r="1.7" fill="#ddd5dc"/>
<circle cx="1105.7" cy="362.0" r="1.7" fill="#ddd5dc"/>
<circle cx="1107.6" cy="361.6" r="1.7" fill="#e8e2e8"/>
<circle cx="1102.6" cy="361.1" r="1.7" fill="#ddd5dc"/>
<circle cx="1114.1" cy="369.5" r="1.7" fill="#fbf8f6"/>
<circle cx="1113.9" cy="363.4" r="1.7" fill="#f3eff3"/>
<circle cx="1108.0" cy="368.1" r="1.7" fill="#ddd5dc"/>
<circle cx="1100.3" cy="367.3" r="1.7" fill="#fbf8f6"/>
<circle cx="1119.7" cy="366.4" r="1.7" fill="#e8e2e8"/>
<circle cx="1119.0" cy="354.9" r="1.7" fill="#fbf8f6"/>
<circle cx="1117.5" cy="356.2" r="1.7" fill="#f3eff3"/>
<circle cx="1115.4" cy="360.6" r="1.7" fill="#e8e2e8"/>
<circle cx="1098.5" cy="368.0" r="1.7" fill="#ddd5dc"/>
<circle cx="1105.7" cy="365.7" r="1.7" fill="#e8e2e8"/>
<circle cx="1113.7" cy="352.3" r="1.7" fill="#fbf8f6"/>
<circle cx="1117.7" cy="370.8" r="1.7" fill="#ddd5dc"/>
<circle cx="1121.3" cy="357.4" r="1.7" fill="#ddd5dc"/>
<circle cx="1109.6" cy="360.6" r="1.7" fill="#ddd5dc"/>
<circle cx="1105.4" cy="356.2" r="1.7" fill="#e8e2e8"/>
<circle cx="1118.3" cy="370.1" r="1.7" fill="#ddd5dc"/>
<circle cx="1102.1" cy="369.2" r="1.7" fill="#f3eff3"/>
<circle cx="1102.5" cy="359.5" r="1.7" fill="#e8e2e8"/>
<circle cx="1103.2" cy="360.7" r="1.7" fill="#ddd5dc"/>
<circle cx="1100.7" cy="356.2" r="1.7" fill="#fbf8f6"/>
<circle cx="1121.1" cy="361.8" r="1.7" fill="#f3eff3"/>
<circle cx="1105.2" cy="373.3" r="1.7" fill="#f3eff3"/>
<circle cx="1110.0" cy="377.0" r="1.7" fill="#e8e2e8"/>
<circle cx="1105.0" cy="358.2" r="1.7" fill="#f3eff3"/>
<circle cx="1102.9" cy="366.5" r="1.7" fill="#e8e2e8"/>
<circle cx="1113.5" cy="370.6" r="1.7" fill="#e8e2e8"/>
<circle cx="1117.7" cy="358.5" r="1.7" fill="#fbf8f6"/>
<circle cx="1119.4" cy="358.3" r="1.7" fill="#ddd5dc"/>
<circle cx="1111.1" cy="359.0" r="1.7" fill="#fbf8f6"/>
<circle cx="1108.1" cy="358.3" r="1.7" fill="#e8e2e8"/>
<circle cx="1102.4" cy="359.5" r="1.7" fill="#e8e2e8"/>
<circle cx="1109.1" cy="358.6" r="1.7" fill="#fbf8f6"/>
<circle cx="1102.5" cy="369.3" r="1.7" fill="#ddd5dc"/>
<circle cx="1114.5" cy="370.7" r="1.7" fill="#f3eff3"/>
<circle cx="1098.6" cy="369.9" r="1.7" fill="#fbf8f6"/>
<circle cx="1115.7" cy="375.5" r="1.7" fill="#fbf8f6"/>
<circle cx="1106.6" cy="356.6" r="1.7" fill="#fbf8f6"/>
<circle cx="1112.2" cy="359.9" r="1.7" fill="#fbf8f6"/>
<circle cx="1169.3" cy="364.0" r="1.6" fill="#f8f4ec"/>
<circle cx="1147.6" cy="363.3" r="1.6" fill="#f8f4ec"/>
<circle cx="1164.6" cy="372.1" r="1.6" fill="#f8f4ec"/>
<circle cx="1169.0" cy="363.0" r="1.6" fill="#f8f4ec"/>
<circle cx="1156.8" cy="374.8" r="1.6" fill="#f8f4ec"/>
<circle cx="1157.7" cy="357.3" r="1.6" fill="#f8f4ec"/>
<circle cx="1163.2" cy="362.8" r="1.6" fill="#f8f4ec"/>
<circle cx="1164.0" cy="369.1" r="1.6" fill="#f8f4ec"/>
<circle cx="1147.6" cy="364.1" r="1.6" fill="#f8f4ec"/>
<circle cx="1169.3" cy="363.1" r="1.6" fill="#f8f4ec"/>
<circle cx="1160.3" cy="353.7" r="1.6" fill="#f8f4ec"/>
<circle cx="1156.2" cy="359.5" r="1.6" fill="#f8f4ec"/>
<circle cx="1157.5" cy="354.1" r="1.6" fill="#f8f4ec"/>
<circle cx="1152.3" cy="355.7" r="1.6" fill="#f8f4ec"/>
<circle cx="1167.7" cy="365.5" r="1.6" fill="#f8f4ec"/>
<circle cx="1161.3" cy="360.1" r="1.6" fill="#f8f4ec"/>
<circle cx="1149.7" cy="355.5" r="1.6" fill="#f8f4ec"/>
<circle cx="1161.1" cy="373.0" r="1.6" fill="#f8f4ec"/>
<circle cx="1146.8" cy="360.9" r="1.6" fill="#f8f4ec"/>
<circle cx="1146.6" cy="367.4" r="1.6" fill="#f8f4ec"/>
<circle cx="1153.6" cy="375.8" r="1.6" fill="#f8f4ec"/>
<circle cx="1158.7" cy="355.3" r="1.6" fill="#f8f4ec"/>
<circle cx="1202.4" cy="353.0" r="1.6" fill="#f8f4ec"/>
<circle cx="1190.0" cy="360.5" r="1.6" fill="#f8f4ec"/>
<circle cx="1200.0" cy="351.8" r="1.6" fill="#f8f4ec"/>
<circle cx="1206.5" cy="355.9" r="1.6" fill="#f8f4ec"/>
<circle cx="1198.3" cy="356.2" r="1.6" fill="#f8f4ec"/>
<circle cx="1198.7" cy="374.3" r="1.6" fill="#f8f4ec"/>
<circle cx="1201.4" cy="375.4" r="1.6" fill="#f8f4ec"/>
<circle cx="1207.8" cy="368.5" r="1.6" fill="#f8f4ec"/>
<circle cx="1190.8" cy="359.3" r="1.6" fill="#f8f4ec"/>
<circle cx="1196.2" cy="370.6" r="1.6" fill="#f8f4ec"/>
<circle cx="1192.0" cy="355.7" r="1.6" fill="#f8f4ec"/>
<circle cx="1209.7" cy="361.7" r="1.6" fill="#f8f4ec"/>
<circle cx="1197.5" cy="373.8" r="1.6" fill="#f8f4ec"/>
<circle cx="1208.2" cy="358.0" r="1.6" fill="#f8f4ec"/>
<circle cx="1256.4" cy="365.7" r="1.6" fill="#f8f4ec"/>
<circle cx="1241.8" cy="363.6" r="1.6" fill="#f8f4ec"/>
<circle cx="1256.6" cy="361.4" r="1.6" fill="#f8f4ec"/>
<circle cx="1242.2" cy="360.9" r="1.6" fill="#f8f4ec"/>
<circle cx="1244.2" cy="368.0" r="1.6" fill="#f8f4ec"/>
<circle cx="1241.2" cy="354.7" r="1.6" fill="#f8f4ec"/>
<circle cx="1109.0" cy="400.0" r="15" fill="#c8b9a6" opacity="0.8"/>
<circle cx="1112.4" cy="400.5" r="1.1" fill="#ddd2ca"/>
<circle cx="1114.2" cy="405.5" r="1.1" fill="#d6cabe"/>
<circle cx="1118.7" cy="397.9" r="1.1" fill="#ddd2ca"/>
<circle cx="1111.4" cy="391.5" r="1.1" fill="#ddd2ca"/>
<circle cx="1101.7" cy="398.0" r="1.1" fill="#ddd2ca"/>
<circle cx="1112.8" cy="404.2" r="1.1" fill="#e4dcd4"/>
<circle cx="1112.2" cy="406.9" r="1.1" fill="#ddd2ca"/>
<circle cx="1099.2" cy="396.7" r="1.1" fill="#e4dcd4"/>
<circle cx="1100.6" cy="409.0" r="1.1" fill="#d6cabe"/>
<circle cx="1102.5" cy="411.8" r="1.1" fill="#d6cabe"/>
<circle cx="1119.7" cy="394.2" r="1.1" fill="#d6cabe"/>
<circle cx="1098.6" cy="396.3" r="1.1" fill="#ddd2ca"/>
<circle cx="1099.1" cy="395.5" r="1.1" fill="#ddd2ca"/>
<circle cx="1114.6" cy="394.4" r="1.1" fill="#e4dcd4"/>
<circle cx="1113.3" cy="400.5" r="1.1" fill="#ddd2ca"/>
<circle cx="1105.6" cy="388.1" r="1.1" fill="#e4dcd4"/>
<circle cx="1106.8" cy="404.8" r="1.1" fill="#e4dcd4"/>
<circle cx="1106.0" cy="392.1" r="1.1" fill="#e4dcd4"/>
<circle cx="1101.2" cy="389.1" r="1.1" fill="#e4dcd4"/>
<circle cx="1096.9" cy="403.1" r="1.1" fill="#e4dcd4"/>
<circle cx="1105.1" cy="411.0" r="1.1" fill="#ddd2ca"/>
<circle cx="1108.6" cy="386.9" r="1.1" fill="#e4dcd4"/>
<circle cx="1106.6" cy="390.2" r="1.1" fill="#d6cabe"/>
<circle cx="1116.8" cy="390.7" r="1.1" fill="#d6cabe"/>
<circle cx="1101.2" cy="395.0" r="1.1" fill="#ddd2ca"/>
<circle cx="1118.3" cy="391.8" r="1.1" fill="#e4dcd4"/>
<circle cx="1101.0" cy="391.6" r="1.1" fill="#d6cabe"/>
<circle cx="1111.7" cy="399.4" r="1.1" fill="#d6cabe"/>
<circle cx="1106.3" cy="413.0" r="1.1" fill="#ddd2ca"/>
<circle cx="1100.2" cy="405.5" r="1.1" fill="#ddd2ca"/>
<circle cx="1113.6" cy="405.2" r="1.1" fill="#d6cabe"/>
<circle cx="1116.3" cy="408.7" r="1.1" fill="#d6cabe"/>
<circle cx="1099.9" cy="391.2" r="1.1" fill="#ddd2ca"/>
<circle cx="1111.9" cy="398.7" r="1.1" fill="#ddd2ca"/>
<circle cx="1107.0" cy="388.1" r="1.1" fill="#ddd2ca"/>
<circle cx="1099.6" cy="409.1" r="1.1" fill="#ddd2ca"/>
<circle cx="1114.6" cy="408.4" r="1.1" fill="#d6cabe"/>
<circle cx="1096.9" cy="393.7" r="1.1" fill="#e4dcd4"/>
<circle cx="1121.7" cy="400.4" r="1.1" fill="#ddd2ca"/>
<circle cx="1105.8" cy="393.1" r="1.1" fill="#d6cabe"/>
<circle cx="1111.8" cy="386.9" r="1.1" fill="#ddd2ca"/>
<circle cx="1100.4" cy="409.9" r="1.1" fill="#d6cabe"/>
<circle cx="1105.4" cy="396.5" r="1.1" fill="#d6cabe"/>
<circle cx="1112.4" cy="390.5" r="1.1" fill="#d6cabe"/>
<circle cx="1122.2" cy="400.6" r="1.1" fill="#d6cabe"/>
<circle cx="1106.1" cy="390.1" r="1.1" fill="#d6cabe"/>
<circle cx="1113.8" cy="406.5" r="1.1" fill="#d6cabe"/>
<circle cx="1113.1" cy="392.3" r="1.1" fill="#d6cabe"/>
<circle cx="1120.2" cy="399.6" r="1.1" fill="#ddd2ca"/>
<circle cx="1117.2" cy="395.2" r="1.1" fill="#ddd2ca"/>
<circle cx="1101.9" cy="396.6" r="1.1" fill="#e4dcd4"/>
<circle cx="1102.7" cy="390.8" r="1.1" fill="#e4dcd4"/>
<circle cx="1119.7" cy="393.1" r="1.1" fill="#d6cabe"/>
<circle cx="1118.6" cy="395.6" r="1.1" fill="#d6cabe"/>
<circle cx="1102.5" cy="395.1" r="1.1" fill="#d6cabe"/>
<circle cx="1110.9" cy="408.9" r="1.1" fill="#e4dcd4"/>
<circle cx="1114.8" cy="405.7" r="1.1" fill="#ddd2ca"/>
<circle cx="1096.1" cy="396.5" r="1.1" fill="#d6cabe"/>
<circle cx="1115.9" cy="388.3" r="1.1" fill="#ddd2ca"/>
<circle cx="1109.5" cy="408.1" r="1.1" fill="#e4dcd4"/>
<circle cx="1157.1" cy="404.8" r="1.0" fill="#f8f4ec"/>
<circle cx="1149.9" cy="398.6" r="1.0" fill="#f8f4ec"/>
<circle cx="1153.2" cy="391.1" r="1.0" fill="#f8f4ec"/>
<circle cx="1151.3" cy="395.4" r="1.0" fill="#f8f4ec"/>
<circle cx="1199.3" cy="389.2" r="1.0" fill="#f8f4ec"/>
<circle cx="1198.2" cy="390.9" r="1.0" fill="#f8f4ec"/>
<circle cx="1192.7" cy="401.8" r="1.0" fill="#f8f4ec"/>
<circle cx="1209.3" cy="402.3" r="1.0" fill="#f8f4ec"/>
<circle cx="1242.9" cy="395.5" r="1.0" fill="#f8f4ec"/>
<text x="751.0" y="52.5" font-size="14.6" text-anchor="end" fill="#231815" letter-spacing="-0.6">WT</text>
<text x="709.76" y="87.4" font-size="14.25" font-style="italic" letter-spacing="0.4" fill="#231815">ADE6</text>
<polygon points="697.15,86.70 706.55,86.70 701.85,78.80" fill="none" stroke="#231815" stroke-width="1.4" stroke-linejoin="round"/>
<g stroke="#8a8a8a" stroke-width="1.05"><line x1="685.25" y1="83.00" x2="694.65" y2="83.00"/><line x1="690.95" y1="78.20" x2="688.95" y2="88.20"/></g>
<text x="635.91" y="87.4" font-size="14.25" font-style="italic" letter-spacing="0.4" fill="#231815">ADE13</text>
<polygon points="623.00,86.70 632.40,86.70 627.70,78.80" fill="none" stroke="#231815" stroke-width="1.4" stroke-linejoin="round"/>
<text x="696.65" y="127.4" font-size="14.25" font-style="italic" letter-spacing="0.4" fill="#231815">ADE5,7</text>
<polygon points="684.04,126.70 693.44,126.70 688.74,118.80" fill="none" stroke="#231815" stroke-width="1.4" stroke-linejoin="round"/>
<g stroke="#8a8a8a" stroke-width="1.05"><line x1="672.14" y1="123.00" x2="681.54" y2="123.00"/><line x1="677.84" y1="118.20" x2="675.84" y2="128.20"/></g>
<text x="622.80" y="127.4" font-size="14.25" font-style="italic" letter-spacing="0.4" fill="#231815">ADE13</text>
<polygon points="609.88,126.70 619.28,126.70 614.58,118.80" fill="none" stroke="#231815" stroke-width="1.4" stroke-linejoin="round"/>
<text x="709.78" y="166.5" font-size="14.25" font-style="italic" letter-spacing="0.4" fill="#231815">ADE4</text>
<polygon points="697.17,165.80 706.57,165.80 701.87,157.90" fill="none" stroke="#231815" stroke-width="1.4" stroke-linejoin="round"/>
<g stroke="#8a8a8a" stroke-width="1.05"><line x1="685.27" y1="162.10" x2="694.67" y2="162.10"/><line x1="690.97" y1="157.30" x2="688.97" y2="167.30"/></g>
<text x="635.92" y="166.5" font-size="14.25" font-style="italic" letter-spacing="0.4" fill="#231815">ADE13</text>
<polygon points="623.01,165.80 632.41,165.80 627.71,157.90" fill="none" stroke="#231815" stroke-width="1.4" stroke-linejoin="round"/>
<text x="710.56" y="207.5" font-size="14.25" font-style="italic" letter-spacing="0.4" fill="#231815">BAS1</text>
<polygon points="698.66,206.80 708.06,206.80 703.36,198.90" fill="none" stroke="#231815" stroke-width="1.4" stroke-linejoin="round"/>
<g stroke="#8a8a8a" stroke-width="1.05"><line x1="686.76" y1="203.10" x2="696.16" y2="203.10"/><line x1="692.46" y1="198.30" x2="690.46" y2="208.30"/></g>
<text x="637.42" y="207.5" font-size="14.25" font-style="italic" letter-spacing="0.4" fill="#231815">ADE13</text>
<polygon points="624.51,206.80 633.91,206.80 629.21,198.90" fill="none" stroke="#231815" stroke-width="1.4" stroke-linejoin="round"/>
<text x="708.20" y="250.8" font-size="14.25" font-style="italic" letter-spacing="0.4" fill="#231815">PHO2</text>
<polygon points="696.30,250.10 705.70,250.10 701.00,242.20" fill="none" stroke="#231815" stroke-width="1.4" stroke-linejoin="round"/>
<g stroke="#8a8a8a" stroke-width="1.05"><line x1="684.40" y1="246.40" x2="693.80" y2="246.40"/><line x1="690.10" y1="241.60" x2="688.10" y2="251.60"/></g>
<text x="635.05" y="250.8" font-size="14.25" font-style="italic" letter-spacing="0.4" fill="#231815">ADE13</text>
<polygon points="622.14,250.10 631.54,250.10 626.84,242.20" fill="none" stroke="#231815" stroke-width="1.4" stroke-linejoin="round"/>
<text x="750.8" y="300.4" font-size="14.6" text-anchor="end" fill="#231815" letter-spacing="-0.6">WT</text>
<text x="710.36" y="339" font-size="14.25" font-style="italic" letter-spacing="0.4" fill="#231815">KES1</text>
<polygon points="698.46,338.30 707.86,338.30 703.16,330.40" fill="none" stroke="#231815" stroke-width="1.4" stroke-linejoin="round"/>
<g stroke="#8a8a8a" stroke-width="1.05"><line x1="686.56" y1="334.60" x2="695.96" y2="334.60"/><line x1="692.26" y1="329.80" x2="690.26" y2="339.80"/></g>
<text x="637.22" y="339" font-size="14.25" font-style="italic" letter-spacing="0.4" fill="#231815">SEC14</text>
<polygon points="625.02,338.30 634.42,338.30 629.72,330.40" fill="none" stroke="#231815" stroke-width="1.4" stroke-linejoin="round"/>
<text x="715.12" y="376.9" font-size="14.25" font-style="italic" letter-spacing="0.4" fill="#231815">CKI1</text>
<polygon points="703.22,376.20 712.62,376.20 707.92,368.30" fill="none" stroke="#231815" stroke-width="1.4" stroke-linejoin="round"/>
<g stroke="#8a8a8a" stroke-width="1.05"><line x1="691.32" y1="372.50" x2="700.72" y2="372.50"/><line x1="697.02" y1="367.70" x2="695.02" y2="377.70"/></g>
<text x="641.98" y="376.9" font-size="14.25" font-style="italic" letter-spacing="0.4" fill="#231815">SEC14</text>
<polygon points="629.78,376.20 639.18,376.20 634.48,368.30" fill="none" stroke="#231815" stroke-width="1.4" stroke-linejoin="round"/>
<text x="710.38" y="415.7" font-size="14.25" font-style="italic" letter-spacing="0.4" fill="#231815">PCT1</text>
<polygon points="698.48,415.00 707.88,415.00 703.18,407.10" fill="none" stroke="#231815" stroke-width="1.4" stroke-linejoin="round"/>
<g stroke="#8a8a8a" stroke-width="1.05"><line x1="686.58" y1="411.30" x2="695.98" y2="411.30"/><line x1="692.28" y1="406.50" x2="690.28" y2="416.50"/></g>
<text x="637.23" y="415.7" font-size="14.25" font-style="italic" letter-spacing="0.4" fill="#231815">SEC14</text>
<polygon points="625.03,415.00 634.43,415.00 629.73,407.10" fill="none" stroke="#231815" stroke-width="1.4" stroke-linejoin="round"/>
<text x="1082.6" y="50.5" font-size="14.6" text-anchor="end" fill="#231815" letter-spacing="-0.6">WT</text>
<text x="1040.58" y="89.2" font-size="14.25" font-style="italic" letter-spacing="0.4" fill="#231815">RPD3</text>
<polygon points="1028.68,88.50 1038.08,88.50 1033.38,80.60" fill="none" stroke="#231815" stroke-width="1.4" stroke-linejoin="round"/>
<g stroke="#8a8a8a" stroke-width="1.05"><line x1="1016.78" y1="84.80" x2="1026.18" y2="84.80"/><line x1="1022.48" y1="80.00" x2="1020.48" y2="90.00"/></g>
<text x="974.96" y="89.2" font-size="14.25" font-style="italic" letter-spacing="0.4" fill="#231815">RER2</text>
<polygon points="962.76,88.50 972.16,88.50 967.46,80.60" fill="none" stroke="#231815" stroke-width="1.4" stroke-linejoin="round"/>
<text x="1041.38" y="127.5" font-size="14.25" font-style="italic" letter-spacing="0.4" fill="#231815">SDS3</text>
<polygon points="1029.48,126.80 1038.88,126.80 1034.18,118.90" fill="none" stroke="#231815" stroke-width="1.4" stroke-linejoin="round"/>
<g stroke="#8a8a8a" stroke-width="1.05"><line x1="1017.58" y1="123.10" x2="1026.98" y2="123.10"/><line x1="1023.28" y1="118.30" x2="1021.28" y2="128.30"/></g>
<text x="975.76" y="127.5" font-size="14.25" font-style="italic" letter-spacing="0.4" fill="#231815">RER2</text>
<polygon points="963.56,126.80 972.96,126.80 968.26,118.90" fill="none" stroke="#231815" stroke-width="1.4" stroke-linejoin="round"/>
<text x="1039.00" y="166" font-size="14.25" font-style="italic" letter-spacing="0.4" fill="#231815">UME6</text>
<polygon points="1027.10,165.30 1036.50,165.30 1031.80,157.40" fill="none" stroke="#231815" stroke-width="1.4" stroke-linejoin="round"/>
<g stroke="#8a8a8a" stroke-width="1.05"><line x1="1015.20" y1="161.60" x2="1024.60" y2="161.60"/><line x1="1020.90" y1="156.80" x2="1018.90" y2="166.80"/></g>
<text x="973.38" y="166" font-size="14.25" font-style="italic" letter-spacing="0.4" fill="#231815">RER2</text>
<polygon points="961.18,165.30 970.58,165.30 965.88,157.40" fill="none" stroke="#231815" stroke-width="1.4" stroke-linejoin="round"/>
<text x="1046.92" y="204.5" font-size="14.25" font-style="italic" letter-spacing="0.4" fill="#231815">SIN3</text>
<polygon points="1035.02,203.80 1044.42,203.80 1039.72,195.90" fill="none" stroke="#231815" stroke-width="1.4" stroke-linejoin="round"/>
<g stroke="#8a8a8a" stroke-width="1.05"><line x1="1023.12" y1="200.10" x2="1032.52" y2="200.10"/><line x1="1028.82" y1="195.30" x2="1026.82" y2="205.30"/></g>
<text x="981.30" y="204.5" font-size="14.25" font-style="italic" letter-spacing="0.4" fill="#231815">RER2</text>
<polygon points="969.10,203.80 978.50,203.80 973.80,195.90" fill="none" stroke="#231815" stroke-width="1.4" stroke-linejoin="round"/>
<text x="1082.8" y="270.4" font-size="14.6" text-anchor="end" fill="#231815" letter-spacing="-0.6">WT</text>
<text x="1033.51" y="311" font-size="14.25" font-style="italic" letter-spacing="0.4" fill="#231815">ERV29</text>
<polygon points="1021.61,310.30 1031.01,310.30 1026.31,302.40" fill="none" stroke="#231815" stroke-width="1.4" stroke-linejoin="round"/>
<g stroke="#8a8a8a" stroke-width="1.05"><line x1="1009.71" y1="306.60" x2="1019.11" y2="306.60"/><line x1="1015.41" y1="301.80" x2="1013.41" y2="311.80"/></g>
<text x="967.89" y="311" font-size="14.25" font-style="italic" letter-spacing="0.4" fill="#231815">ERD2</text>
<polygon points="955.69,310.30 965.09,310.30 960.39,302.40" fill="none" stroke="#231815" stroke-width="1.4" stroke-linejoin="round"/>
<text x="1082.8" y="366.8" font-size="14.6" text-anchor="end" fill="#231815" letter-spacing="-0.6">WT</text>
<text x="1048.70" y="401.3" font-size="14.25" font-style="italic" letter-spacing="0.4" fill="#231815">SIT4</text>
<polygon points="1036.80,400.60 1046.20,400.60 1041.50,392.70" fill="none" stroke="#231815" stroke-width="1.4" stroke-linejoin="round"/>
<g stroke="#8a8a8a" stroke-width="1.05"><line x1="1024.90" y1="396.90" x2="1034.30" y2="396.90"/><line x1="1030.60" y1="392.10" x2="1028.60" y2="402.10"/></g>
<text x="985.48" y="401.3" font-size="14.25" font-style="italic" letter-spacing="0.4" fill="#231815">MIM1</text>
<polygon points="973.28,400.60 982.68,400.60 977.98,392.70" fill="none" stroke="#231815" stroke-width="1.4" stroke-linejoin="round"/>
<text transform="translate(612.3,479.2) scale(0.95,1)" font-size="31" font-weight="bold" fill="#111">C</text>
<line x1="757" y1="846.25" x2="1277" y2="846.25" stroke="#f9f9f9" stroke-width="1"/>
<line x1="757" y1="743.75" x2="1277" y2="743.75" stroke="#f9f9f9" stroke-width="1"/>
<line x1="757" y1="641.25" x2="1277" y2="641.25" stroke="#f9f9f9" stroke-width="1"/>
<line x1="757" y1="538.75" x2="1277" y2="538.75" stroke="#f9f9f9" stroke-width="1"/>
<rect x="757.4" y="457.3" width="149.2" height="30.2" fill="#dcdcdc"/>
<text x="838.7" y="479" font-size="17.8" text-anchor="middle" fill="#1a1a1a" >ADE13</text>
<rect x="914.2" y="457.3" width="123.0" height="30.2" fill="#dcdcdc"/>
<text x="973.5" y="479" font-size="17.8" text-anchor="middle" fill="#1a1a1a" >RER2</text>
<rect x="1044" y="457.3" width="110.0" height="30.2" fill="#dcdcdc"/>
<text x="1101" y="479" font-size="17.8" text-anchor="middle" fill="#1a1a1a" >SEC14</text>
<rect x="1158.9" y="457.3" width="54.5" height="30.2" fill="#dcdcdc"/>
<text x="1187" y="479" font-size="17.8" text-anchor="middle" fill="#1a1a1a" >ERD2</text>
<rect x="1217.4" y="457.3" width="55.2" height="30.2" fill="#dcdcdc"/>
<text x="1245.6" y="479" font-size="17.8" text-anchor="middle" fill="#1a1a1a" >MIM1</text>
<line x1="773.10" y1="556.60" x2="773.10" y2="897.5" stroke="#7c7c7c" stroke-width="1.1" stroke-dasharray="3,3"/>
<circle cx="773.10" cy="556.60" r="3.7" fill="#231815"/>
<line x1="773.10" y1="897.5" x2="773.10" y2="902.0" stroke="#333" stroke-width="1.3"/>
<text transform="translate(752.35,944.05) rotate(-48)" x="0" y="0" font-size="16.6" font-style="italic" fill="#231815">PHO2</text>
<line x1="800.90" y1="649.60" x2="800.90" y2="897.5" stroke="#7c7c7c" stroke-width="1.1" stroke-dasharray="3,3"/>
<circle cx="800.90" cy="649.60" r="3.7" fill="#231815"/>
<line x1="800.90" y1="897.5" x2="800.90" y2="902.0" stroke="#333" stroke-width="1.3"/>
<text transform="translate(782.60,941.30) rotate(-48)" x="0" y="0" font-size="16.6" font-style="italic" fill="#231815">BAS1</text>
<line x1="828.50" y1="598.40" x2="828.50" y2="897.5" stroke="#7c7c7c" stroke-width="1.1" stroke-dasharray="3,3"/>
<circle cx="828.50" cy="598.40" r="3.7" fill="#231815"/>
<line x1="828.50" y1="897.5" x2="828.50" y2="902.0" stroke="#333" stroke-width="1.3"/>
<text transform="translate(814.10,942.55) rotate(-48)" x="0" y="0" font-size="16.6" font-style="italic" fill="#231815">ADE6</text>
<line x1="856.00" y1="638.50" x2="856.00" y2="897.5" stroke="#7c7c7c" stroke-width="1.1" stroke-dasharray="3,3"/>
<circle cx="856.00" cy="638.50" r="3.7" fill="#231815"/>
<line x1="856.00" y1="897.5" x2="856.00" y2="902.0" stroke="#333" stroke-width="1.3"/>
<text transform="translate(839.20,952.95) rotate(-48)" x="0" y="0" font-size="16.6" font-style="italic" fill="#231815">ADE5,7</text>
<line x1="883.40" y1="626.20" x2="883.40" y2="897.5" stroke="#7c7c7c" stroke-width="1.1" stroke-dasharray="3,3"/>
<circle cx="883.40" cy="626.20" r="3.7" fill="#231815"/>
<line x1="883.40" y1="897.5" x2="883.40" y2="902.0" stroke="#333" stroke-width="1.3"/>
<text transform="translate(873.80,942.70) rotate(-48)" x="0" y="0" font-size="16.6" font-style="italic" fill="#231815">ADE4</text>
<line x1="938.10" y1="571.00" x2="938.10" y2="897.5" stroke="#7c7c7c" stroke-width="1.1" stroke-dasharray="3,3"/>
<circle cx="938.10" cy="571.00" r="3.7" fill="#231815"/>
<line x1="938.10" y1="897.5" x2="938.10" y2="902.0" stroke="#333" stroke-width="1.3"/>
<text transform="translate(911.60,949.60) rotate(-48)" x="0" y="0" font-size="16.6" font-style="italic" fill="#231815">UME6</text>
<line x1="966.20" y1="577.50" x2="966.20" y2="897.5" stroke="#7c7c7c" stroke-width="1.1" stroke-dasharray="3,3"/>
<circle cx="966.20" cy="577.50" r="3.7" fill="#231815"/>
<line x1="966.20" y1="897.5" x2="966.20" y2="902.0" stroke="#333" stroke-width="1.3"/>
<text transform="translate(945.40,942.00) rotate(-48)" x="0" y="0" font-size="16.6" font-style="italic" fill="#231815">SIN3</text>
<line x1="993.60" y1="572.10" x2="993.60" y2="897.5" stroke="#7c7c7c" stroke-width="1.1" stroke-dasharray="3,3"/>
<circle cx="993.60" cy="572.10" r="3.7" fill="#231815"/>
<line x1="993.60" y1="897.5" x2="993.60" y2="902.0" stroke="#333" stroke-width="1.3"/>
<text transform="translate(973.60,946.40) rotate(-48)" x="0" y="0" font-size="16.6" font-style="italic" fill="#231815">SDS3</text>
<line x1="1020.90" y1="587.60" x2="1020.90" y2="897.5" stroke="#7c7c7c" stroke-width="1.1" stroke-dasharray="3,3"/>
<circle cx="1020.90" cy="587.60" r="3.7" fill="#231815"/>
<line x1="1020.90" y1="897.5" x2="1020.90" y2="902.0" stroke="#333" stroke-width="1.3"/>
<text transform="translate(1003.90,948.10) rotate(-48)" x="0" y="0" font-size="16.6" font-style="italic" fill="#231815">RPD3</text>
<line x1="1076.40" y1="561.40" x2="1076.40" y2="897.5" stroke="#7c7c7c" stroke-width="1.1" stroke-dasharray="3,3"/>
<circle cx="1076.40" cy="561.40" r="3.7" fill="#231815"/>
<line x1="1076.40" y1="897.5" x2="1076.40" y2="902.0" stroke="#333" stroke-width="1.3"/>
<text transform="translate(1059.80,946.20) rotate(-48)" x="0" y="0" font-size="16.6" font-style="italic" fill="#231815">PCT1</text>
<line x1="1103.80" y1="500.30" x2="1103.80" y2="897.5" stroke="#7c7c7c" stroke-width="1.1" stroke-dasharray="3,3"/>
<circle cx="1103.80" cy="500.30" r="3.7" fill="#231815"/>
<line x1="1103.80" y1="897.5" x2="1103.80" y2="902.0" stroke="#333" stroke-width="1.3"/>
<text transform="translate(1089.70,946.30) rotate(-48)" x="0" y="0" font-size="16.6" font-style="italic" fill="#231815">KES1</text>
<line x1="1131.40" y1="500.30" x2="1131.40" y2="897.5" stroke="#7c7c7c" stroke-width="1.1" stroke-dasharray="3,3"/>
<circle cx="1131.40" cy="500.30" r="3.7" fill="#231815"/>
<line x1="1131.40" y1="897.5" x2="1131.40" y2="902.0" stroke="#333" stroke-width="1.3"/>
<text transform="translate(1121.90,942.50) rotate(-48)" x="0" y="0" font-size="16.6" font-style="italic" fill="#231815">CKI1</text>
<line x1="1186.30" y1="626.20" x2="1186.30" y2="897.5" stroke="#7c7c7c" stroke-width="1.1" stroke-dasharray="3,3"/>
<circle cx="1186.30" cy="626.20" r="3.7" fill="#231815"/>
<line x1="1186.30" y1="897.5" x2="1186.30" y2="902.0" stroke="#333" stroke-width="1.3"/>
<text transform="translate(1169.60,952.60) rotate(-48)" x="0" y="0" font-size="16.6" font-style="italic" fill="#231815">ERV29</text>
<line x1="1241.50" y1="777.20" x2="1241.50" y2="897.5" stroke="#7c7c7c" stroke-width="1.1" stroke-dasharray="3,3"/>
<circle cx="1241.50" cy="777.20" r="3.7" fill="#231815"/>
<line x1="1241.50" y1="897.5" x2="1241.50" y2="902.0" stroke="#333" stroke-width="1.3"/>
<text transform="translate(1230.40,942.00) rotate(-48)" x="0" y="0" font-size="16.6" font-style="italic" fill="#231815">SIT4</text>
<path d="M756.2,897.5 V455.6 H1278 V897.5" fill="none" stroke="#444" stroke-width="1.3"/>
<line x1="751.5" y1="897.5" x2="1278.6" y2="897.5" stroke="#444" stroke-width="1.4"/>
<line x1="752" y1="487.50" x2="756.2" y2="487.50" stroke="#444" stroke-width="1.3"/>
<text x="739.3" y="495.6" font-size="17.5" text-anchor="end" letter-spacing="0.8" fill="#1a1a1a" >1.00</text>
<line x1="752" y1="590.00" x2="756.2" y2="590.00" stroke="#444" stroke-width="1.3"/>
<text x="740.3" y="598.6999999999999" font-size="17.5" text-anchor="end" letter-spacing="0.8" fill="#1a1a1a" >0.75</text>
<line x1="752" y1="692.50" x2="756.2" y2="692.50" stroke="#444" stroke-width="1.3"/>
<text x="742.5" y="699.8" font-size="17.5" text-anchor="end" letter-spacing="0.8" fill="#1a1a1a" >0.50</text>
<line x1="752" y1="795.00" x2="756.2" y2="795.00" stroke="#444" stroke-width="1.3"/>
<text x="745.0999999999999" y="802.5" font-size="17.5" text-anchor="end" letter-spacing="0.8" fill="#1a1a1a" >0.25</text>
<line x1="752" y1="897.50" x2="756.2" y2="897.50" stroke="#444" stroke-width="1.3"/>
<text x="745.0999999999999" y="897.3" font-size="17.5" text-anchor="end" letter-spacing="0.8" fill="#1a1a1a" >0.00</text>
<text transform="translate(680.5,693.5) rotate(-90)" x="0" y="0" font-size="23.3" text-anchor="middle" fill="#1a1a1a">Relative fitness</text>
<text x="1026.4" y="979" font-size="23" text-anchor="middle" fill="#1a1a1a" >Rescuing partner</text>
</svg>
</body></html>
